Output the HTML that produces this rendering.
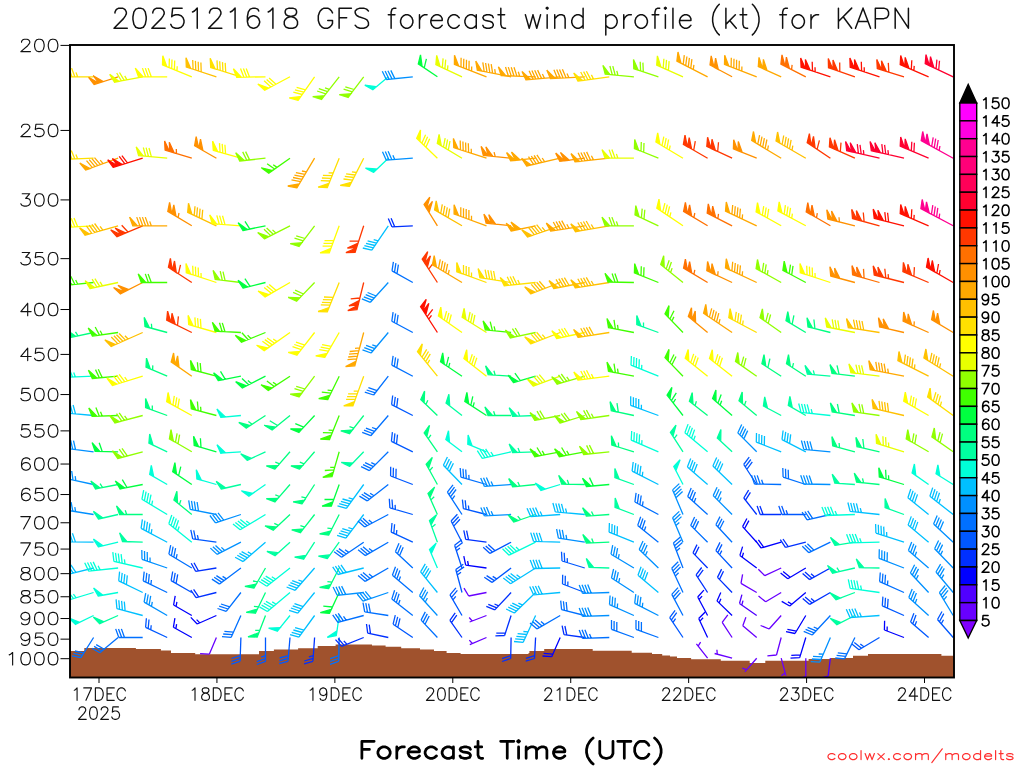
<!DOCTYPE html><html><head><meta charset="utf-8"><title>wind profile</title>
<style>html,body{margin:0;padding:0;background:#fff;font-family:"Liberation Sans",sans-serif}svg{display:block}</style></head><body>
<svg width="1024" height="768" viewBox="0 0 1024 768">
<rect width="1024" height="768" fill="#fff"/>
<defs><clipPath id="c"><rect x="70.0" y="45.0" width="884.0" height="632.5"/></clipPath></defs>
<path d="M70.0 677.5 L70.0 651.1 L84.3 651.1 L84.3 648.0 L135.9 648.0 L135.9 649.0 L160.9 649.0 L160.9 650.6 L171.0 650.6 L171.0 653.1 L195.2 653.1 L195.2 654.2 L259.0 654.2 L259.0 651.1 L273.9 651.1 L273.9 649.5 L298.1 649.5 L298.1 648.3 L317.7 648.3 L317.7 646.1 L335.6 646.1 L335.6 644.4 L372.0 644.4 L372.0 645.6 L385.6 645.6 L385.6 646.7 L401.2 646.7 L401.2 648.3 L420.0 648.3 L420.0 649.5 L434.0 649.5 L434.0 651.1 L446.6 651.1 L446.6 653.0 L460.6 653.0 L460.6 653.9 L528.5 653.9 L528.5 653.0 L529.4 653.0 L529.4 651.1 L544.2 651.1 L544.2 649.1 L592.7 649.1 L592.7 650.8 L631.7 650.8 L631.7 652.7 L652.0 652.7 L652.0 653.9 L662.2 653.9 L662.2 655.5 L670.0 655.5 L670.0 656.4 L677.0 656.4 L677.0 658.1 L691.1 658.1 L691.1 659.2 L720.8 659.2 L720.8 660.8 L749.7 660.8 L749.7 663.1 L765.3 663.1 L765.3 660.8 L808.6 660.8 L808.6 658.9 L831.0 658.9 L831.0 658.1 L853.0 658.1 L853.0 655.8 L868.0 655.8 L868.0 653.9 L941.4 653.9 L941.4 655.8 L954.0 655.8 L954.0 677.5 Z" fill="#a0522d"/>
<g clip-path="url(#c)" stroke-width="1.3" stroke-linecap="butt" stroke-linejoin="miter">
<path stroke="#ffe000" fill="#ffe000" d="M93.6 76.8L62.0 76.8M69.1 76.8L65.9 68.1M71.9 76.8L68.8 68.1M74.8 76.8L71.6 68.1M77.6 76.8L76.0 72.4M62.0 76.8L58.8 68.1L66.6 76.8Z"/>
<path stroke="#ff9000" fill="#ff9000" d="M118.1 76.8L94.2 84.5M94.2 84.5L88.6 77.3L98.6 83.1ZM98.9 83.0L93.2 75.7L103.3 81.6Z"/>
<path stroke="#e8ff00" fill="#e8ff00" d="M142.7 76.8L114.5 82.2M121.4 80.9L116.7 73.0M124.2 80.3L119.5 72.5M127.0 79.8L124.7 75.9M114.5 82.2L109.7 74.3L119.0 81.4Z"/>
<path stroke="#ffff00" fill="#ffff00" d="M167.2 76.8L138.5 76.8M145.6 76.8L142.4 68.1M148.4 76.8L145.3 68.1M151.3 76.8L148.1 68.1M138.5 76.8L135.3 68.1L143.1 76.8Z"/>
<path stroke="#ffff00" fill="#ffff00" d="M191.8 76.8L162.5 64.9M169.1 67.6L169.4 58.4M171.7 68.6L172.0 59.4M174.4 69.7L174.7 60.5M177.0 70.8L177.2 66.2M162.5 64.9L162.8 55.7L166.8 66.6Z"/>
<path stroke="#ffc000" fill="#ffc000" d="M216.4 76.8L186.3 67.0M193.1 69.2L192.7 60.0M195.8 70.1L195.4 60.9M198.5 70.9L198.2 61.7M201.2 71.8L200.9 62.6M186.3 67.0L186.0 57.8L190.7 68.4Z"/>
<path stroke="#ffe000" fill="#ffe000" d="M240.9 76.8L210.7 67.5M217.5 69.6L217.0 60.4M220.2 70.4L219.7 61.2M222.9 71.3L222.5 62.1M225.7 72.1L225.2 62.9M210.7 67.5L210.2 58.3L215.1 68.9Z"/>
<path stroke="#ffff00" fill="#ffff00" d="M265.5 76.8L236.7 77.3M243.8 77.1L240.5 68.5M246.7 77.1L243.4 68.5M249.5 77.0L246.2 68.4M236.7 77.3L233.4 68.7L241.3 77.2Z"/>
<path stroke="#ffff00" fill="#ffff00" d="M290.0 76.8L264.7 90.2M270.9 86.9L264.1 80.8M273.4 85.6L266.6 79.4M276.0 84.2L269.1 78.1M264.7 90.2L257.8 84.1L268.7 88.1Z"/>
<path stroke="#ffff00" fill="#ffff00" d="M314.6 76.8L298.1 100.3M302.2 94.5L293.3 92.1M303.8 92.2L294.9 89.8M305.5 89.8L296.6 87.4M298.1 100.3L289.2 97.9L300.7 96.5Z"/>
<path stroke="#90ff00" fill="#90ff00" d="M339.2 76.8L321.5 99.4M325.8 93.8L317.1 91.0M327.6 91.6L318.8 88.7M329.3 89.3L325.0 87.9M321.5 99.4L312.7 96.6L324.3 95.8Z"/>
<path stroke="#90ff00" fill="#90ff00" d="M363.7 76.8L348.1 97.4M352.4 91.8L343.6 89.1M354.1 89.5L345.3 86.8M348.1 97.4L339.3 94.7L350.9 93.8Z"/>
<path stroke="#00ffd8" fill="#00ffd8" d="M388.3 76.8L372.8 89.7M372.8 89.7L364.8 85.1L376.3 86.8Z"/>
<path stroke="#0090ff" fill="#0090ff" d="M412.8 76.8L386.3 79.5M386.3 79.5L382.3 71.3M389.1 79.2L385.1 71.0M392.0 78.9L387.9 70.7M394.8 78.6L390.8 70.4"/>
<path stroke="#00ff40" fill="#00ff40" d="M437.4 76.8L418.3 63.9M424.2 67.8L426.4 58.9M418.3 63.9L420.5 54.9L422.1 66.4Z"/>
<path stroke="#e8ff00" fill="#e8ff00" d="M462.0 76.8L435.9 64.6M442.3 67.6L443.1 58.4M444.9 68.8L445.7 59.6M447.5 70.0L447.9 65.4M435.9 64.6L436.7 55.4L440.1 66.5Z"/>
<path stroke="#ffa800" fill="#ffa800" d="M486.5 76.8L454.4 64.4M461.0 66.9L461.1 57.8M463.6 68.0L463.8 58.8M466.3 69.0L466.5 59.8M469.0 70.0L469.1 60.8M471.6 71.0L471.7 66.4M454.4 64.4L454.5 55.2L458.7 66.1Z"/>
<path stroke="#ffa800" fill="#ffa800" d="M511.1 76.8L477.3 70.2M484.2 71.5L482.8 62.4M487.0 72.1L485.6 63.0M489.8 72.6L488.4 63.5M492.6 73.2L491.2 64.1M495.4 73.7L494.7 69.2M477.3 70.2L475.8 61.1L481.8 71.1Z"/>
<path stroke="#ffa800" fill="#ffa800" d="M535.6 76.8L501.2 75.5M508.3 75.8L505.5 67.0M511.2 75.9L508.3 67.1M514.0 76.0L511.2 67.2M516.9 76.1L514.0 67.3M519.7 76.2L518.3 71.8M501.2 75.5L498.4 66.8L505.8 75.7Z"/>
<path stroke="#ffa800" fill="#ffa800" d="M560.2 76.8L525.9 79.8M533.0 79.1L529.1 70.8M535.8 78.9L531.9 70.5M538.6 78.6L534.7 70.3M541.5 78.4L537.6 70.1M544.3 78.1L542.4 74.0M525.9 79.8L522.0 71.4L530.5 79.4Z"/>
<path stroke="#ffa800" fill="#ffa800" d="M584.8 76.8L550.4 78.6M557.4 78.2L553.9 69.7M560.3 78.0L556.7 69.6M563.1 77.9L559.5 69.4M566.0 77.7L562.4 69.3M568.8 77.6L567.0 73.4M550.4 78.6L546.8 70.1L555.0 78.3Z"/>
<path stroke="#ffe000" fill="#ffe000" d="M609.3 76.8L578.0 81.1M585.1 80.2L580.7 72.0M587.9 79.8L583.6 71.6M590.7 79.4L586.4 71.2M593.5 79.0L591.4 74.9M578.0 81.1L573.7 73.0L582.6 80.5Z"/>
<path stroke="#90ff00" fill="#90ff00" d="M633.9 76.8L605.2 74.2M612.3 74.9L609.9 66.0M615.2 75.1L612.8 66.2M618.0 75.4L616.8 70.9M605.2 74.2L602.9 65.4L609.8 74.6Z"/>
<path stroke="#90ff00" fill="#90ff00" d="M658.4 76.8L633.8 68.7M640.6 70.9L640.2 61.7M643.3 71.8L642.9 62.6M633.8 68.7L633.5 59.6L638.2 70.2Z"/>
<path stroke="#e8ff00" fill="#e8ff00" d="M683.0 76.8L656.7 65.1M663.2 67.9L663.9 58.8M665.8 69.1L666.5 59.9M668.4 70.3L669.1 61.1M656.7 65.1L657.4 55.9L660.9 66.9Z"/>
<path stroke="#ffa800" fill="#ffa800" d="M707.6 76.8L676.9 61.1M683.2 64.3L684.3 55.2M685.7 65.6L686.9 56.5M688.3 66.9L689.4 57.8M690.8 68.2L691.9 59.1M693.3 69.5L693.9 64.9M676.9 61.1L678.0 52.0L681.0 63.2Z"/>
<path stroke="#ff9000" fill="#ff9000" d="M732.1 76.8L710.0 65.0M710.0 65.0L711.2 55.9L714.0 67.1ZM714.3 67.3L715.6 58.2L718.3 69.4Z"/>
<path stroke="#ffa800" fill="#ffa800" d="M756.7 76.8L724.5 64.4M731.1 66.9L731.3 57.8M733.8 68.0L734.0 58.8M736.5 69.0L736.6 59.8M739.1 70.0L739.3 60.8M741.8 71.0L741.9 66.4M724.5 64.4L724.7 55.2L728.8 66.1Z"/>
<path stroke="#ffa800" fill="#ffa800" d="M781.2 76.8L758.3 66.5M758.3 66.5L759.0 57.4L762.5 68.4ZM762.8 68.5L763.4 59.4L767.0 70.4Z"/>
<path stroke="#ff7000" fill="#ff7000" d="M805.8 76.8L780.9 64.1M791.6 69.5L792.1 64.9M780.9 64.1L782.0 54.9L785.0 66.1ZM785.3 66.3L786.4 57.2L789.4 68.4Z"/>
<path stroke="#ff1000" fill="#ff1000" d="M830.4 76.8L801.1 67.2M812.5 70.9L812.2 61.7M815.2 71.8L815.0 67.2M801.1 67.2L800.7 58.0L805.4 68.7ZM805.7 68.7L805.4 59.6L810.1 70.2Z"/>
<path stroke="#ff3800" fill="#ff3800" d="M854.9 76.8L828.5 67.7M839.8 71.6L839.7 62.4M828.5 67.7L828.3 58.5L832.8 69.1ZM833.1 69.2L833.0 60.0L837.5 70.7Z"/>
<path stroke="#ff1000" fill="#ff1000" d="M879.5 76.8L850.2 67.2M861.6 70.9L861.3 61.7M864.3 71.8L864.2 67.2M850.2 67.2L849.9 58.0L854.6 68.7ZM854.8 68.7L854.5 59.6L859.2 70.2Z"/>
<path stroke="#ff3800" fill="#ff3800" d="M904.0 76.8L877.3 68.6M888.8 72.1L888.3 62.9M877.3 68.6L876.8 59.4L881.7 69.9ZM882.0 70.0L881.5 60.8L886.4 71.4Z"/>
<path stroke="#ff1000" fill="#ff1000" d="M928.6 76.8L900.2 64.7M911.3 69.4L911.8 60.2M913.9 70.5L914.2 65.9M900.2 64.7L900.7 55.5L904.5 66.5ZM904.8 66.6L905.2 57.4L909.0 68.4Z"/>
<path stroke="#ff0030" fill="#ff0030" d="M953.2 76.8L925.2 63.7M936.1 68.8L936.9 59.6M938.7 70.0L939.5 60.8M925.2 63.7L926.0 54.6L929.4 65.7ZM929.7 65.8L930.5 56.6L933.9 67.7Z"/>
<path stroke="#ffe000" fill="#ffe000" d="M93.6 158.2L62.0 159.4M69.1 159.1L65.6 150.6M71.9 159.0L68.5 150.5M74.8 158.9L71.3 150.4M77.6 158.8L75.9 154.5M62.0 159.4L58.5 150.8L66.6 159.2Z"/>
<path stroke="#ffa800" fill="#ffa800" d="M118.1 158.2L85.7 170.0M92.4 167.6L86.5 160.6M95.1 166.6L89.2 159.6M97.8 165.7L91.9 158.6M100.5 164.7L94.5 157.6M103.1 163.7L100.2 160.2M85.7 170.0L79.8 163.0L90.1 168.5Z"/>
<path stroke="#ff1000" fill="#ff1000" d="M142.7 158.2L113.2 167.3M124.7 163.7L119.2 156.4M127.4 162.9L121.9 155.6M113.2 167.3L107.7 159.9L117.6 165.9ZM117.9 165.8L112.4 158.5L122.3 164.5Z"/>
<path stroke="#e8ff00" fill="#e8ff00" d="M167.2 158.2L138.6 155.7M145.7 156.4L143.3 147.5M148.5 156.6L146.1 147.7M151.4 156.9L149.0 148.0M138.6 155.7L136.2 146.9L143.2 156.1Z"/>
<path stroke="#ff7000" fill="#ff7000" d="M191.8 158.2L165.1 150.1M176.5 153.6L176.3 149.0M165.1 150.1L164.6 140.9L169.5 151.4ZM169.8 151.5L169.3 142.3L174.2 152.9Z"/>
<path stroke="#ff9000" fill="#ff9000" d="M216.4 158.2L194.6 145.7M194.6 145.7L196.2 136.6L198.6 148.0ZM198.9 148.1L200.5 139.1L202.9 150.4Z"/>
<path stroke="#ffff00" fill="#ffff00" d="M240.9 158.2L213.3 150.3M220.1 152.3L219.5 143.1M222.8 153.1L222.2 143.9M225.6 153.9L224.9 144.7M213.3 150.3L212.6 141.1L217.7 151.6Z"/>
<path stroke="#90ff00" fill="#90ff00" d="M265.5 158.2L239.7 161.0M246.8 160.2L242.7 151.9M249.6 159.9L245.6 151.6M239.7 161.0L235.7 152.7L244.3 160.5Z"/>
<path stroke="#40ff00" fill="#40ff00" d="M290.0 158.2L268.8 173.1M274.6 169.0L267.1 163.8M277.0 167.4L273.2 164.8M268.8 173.1L261.3 167.8L272.6 170.5Z"/>
<path stroke="#ffa800" fill="#ffa800" d="M314.6 158.2L296.9 187.8M300.5 181.7L291.5 179.9M302.0 179.3L293.0 177.5M303.4 176.8L294.4 175.1M304.9 174.4L295.9 172.6M306.4 171.9L301.9 171.0M296.9 187.8L287.8 186.0L299.2 183.8Z"/>
<path stroke="#ffe000" fill="#ffe000" d="M339.2 158.2L327.3 187.5M330.0 181.0L320.8 180.6M331.0 178.3L321.9 178.0M332.1 175.7L322.9 175.4M333.2 173.0L328.6 172.9M327.3 187.5L318.1 187.2L329.0 183.3Z"/>
<path stroke="#ffe000" fill="#ffe000" d="M363.7 158.2L349.4 186.4M352.6 180.1L343.5 179.0M353.9 177.5L344.8 176.4M355.2 175.0L346.1 173.9M356.5 172.5L351.9 171.9M349.4 186.4L340.2 185.3L351.5 182.3Z"/>
<path stroke="#00ffd8" fill="#00ffd8" d="M388.3 158.2L373.7 172.3M373.7 172.3L365.5 168.2L377.1 169.1Z"/>
<path stroke="#0090ff" fill="#0090ff" d="M412.8 158.2L386.2 160.1M386.2 160.1L382.5 151.7M389.0 159.9L385.3 151.5M391.9 159.7L388.1 151.3M394.7 159.5L392.9 155.3"/>
<path stroke="#ffff00" fill="#ffff00" d="M437.4 158.2L416.7 138.3M421.8 143.2L425.6 134.8M423.9 145.2L427.6 136.8M425.9 147.2L429.7 138.8M416.7 138.3L420.5 129.9L420.0 141.5Z"/>
<path stroke="#e8ff00" fill="#e8ff00" d="M462.0 158.2L437.3 143.4M443.4 147.1L445.2 138.1M445.8 148.6L447.6 139.5M448.3 150.0L450.0 141.0M437.3 143.4L439.1 134.4L441.3 145.8Z"/>
<path stroke="#ffa800" fill="#ffa800" d="M486.5 158.2L453.8 147.6M460.5 149.8L460.2 140.6M463.2 150.7L462.9 141.5M465.9 151.6L465.6 142.4M468.6 152.4L468.3 143.2M471.4 153.3L471.2 148.7M453.8 147.6L453.4 138.4L458.1 149.0Z"/>
<path stroke="#ff9000" fill="#ff9000" d="M511.1 158.2L483.3 155.3M495.2 156.6L494.1 152.1M483.3 155.3L481.1 146.4L487.9 155.8ZM488.2 155.8L485.9 146.9L492.7 156.3Z"/>
<path stroke="#ffa800" fill="#ffa800" d="M535.6 158.2L510.7 160.9M510.7 160.9L506.6 152.6L515.3 160.4ZM515.6 160.4L511.5 152.1L520.1 159.9Z"/>
<path stroke="#ffa800" fill="#ffa800" d="M560.2 158.2L526.6 166.0M533.6 164.4L528.5 156.7M536.3 163.8L531.3 156.0M539.1 163.1L534.1 155.4M541.9 162.5L536.9 154.8M544.7 161.8L542.2 158.0M526.6 166.0L521.6 158.3L531.1 165.0Z"/>
<path stroke="#ff9000" fill="#ff9000" d="M584.8 158.2L559.8 161.3M559.8 161.3L555.7 153.1L564.4 160.7ZM564.7 160.7L560.5 152.5L569.3 160.2Z"/>
<path stroke="#ffa800" fill="#ffa800" d="M609.3 158.2L575.1 161.9M582.1 161.1L578.1 152.8M585.0 160.8L580.9 152.5M587.8 160.5L583.8 152.2M590.6 160.2L586.6 151.9M593.5 159.9L591.4 155.8M575.1 161.9L571.0 153.6L579.6 161.4Z"/>
<path stroke="#e8ff00" fill="#e8ff00" d="M633.9 158.2L605.1 158.2M612.2 158.2L609.1 149.6M615.1 158.2L611.9 149.6M617.9 158.2L616.4 153.9M605.1 158.2L602.0 149.6L609.7 158.2Z"/>
<path stroke="#90ff00" fill="#90ff00" d="M658.4 158.2L634.4 148.5M641.0 151.2L641.3 142.0M643.7 152.3L644.0 143.1M634.4 148.5L634.7 139.4L638.7 150.3Z"/>
<path stroke="#ffff00" fill="#ffff00" d="M683.0 158.2L655.9 142.0M662.0 145.6L663.8 136.6M664.4 147.1L666.2 138.1M666.9 148.6L668.6 139.5M669.3 150.0L670.2 145.5M655.9 142.0L657.7 132.9L659.9 144.3Z"/>
<path stroke="#ff3800" fill="#ff3800" d="M707.6 158.2L683.4 144.3M693.7 150.3L695.3 141.2M683.4 144.3L685.0 135.2L687.3 146.6ZM687.6 146.7L689.2 137.7L691.6 149.0Z"/>
<path stroke="#ff3800" fill="#ff3800" d="M732.1 158.2L706.8 146.4M717.7 151.5L718.5 142.3M706.8 146.4L707.6 137.3L711.0 148.4ZM711.2 148.5L712.0 139.3L715.4 150.5Z"/>
<path stroke="#ff9000" fill="#ff9000" d="M756.7 158.2L733.4 148.8M733.4 148.8L733.7 139.7L737.7 150.6ZM738.0 150.7L738.3 141.5L742.2 152.4Z"/>
<path stroke="#ffa800" fill="#ffa800" d="M781.2 158.2L751.7 140.5M757.8 144.2L759.6 135.1M760.2 145.6L762.0 136.6M762.7 147.1L764.4 138.1M765.1 148.6L766.9 139.5M767.6 150.0L768.4 145.5M751.7 140.5L753.5 131.5L755.7 142.9Z"/>
<path stroke="#ffc000" fill="#ffc000" d="M805.8 158.2L776.0 141.0M782.1 144.6L783.7 135.5M784.6 146.0L786.2 136.9M787.1 147.4L788.6 138.4M789.5 148.8L791.1 139.8M792.0 150.3L792.8 145.7M776.0 141.0L777.6 132.0L779.9 143.3Z"/>
<path stroke="#ff3800" fill="#ff3800" d="M830.4 158.2L807.2 142.6M817.1 149.3L819.4 140.4M807.2 142.6L809.4 133.7L811.0 145.2ZM811.3 145.4L813.5 136.4L815.1 147.9Z"/>
<path stroke="#ff3800" fill="#ff3800" d="M854.9 158.2L829.4 146.9M840.3 151.8L841.0 142.6M829.4 146.9L830.0 137.7L833.6 148.8ZM833.9 148.9L834.5 139.7L838.1 150.7Z"/>
<path stroke="#ff0030" fill="#ff0030" d="M879.5 158.2L846.7 150.7M858.4 153.4L857.3 144.2M861.2 154.0L860.0 144.9M863.9 154.7L863.4 150.1M846.7 150.7L845.6 141.5L851.2 151.7ZM851.5 151.8L850.3 142.7L855.9 152.8Z"/>
<path stroke="#ff0030" fill="#ff0030" d="M904.0 158.2L871.3 150.7M882.9 153.4L881.8 144.2M885.7 154.0L884.6 144.9M888.5 154.7L887.9 150.1M871.3 150.7L870.1 141.5L875.7 151.7ZM876.0 151.8L874.9 142.7L880.5 152.8Z"/>
<path stroke="#ff0030" fill="#ff0030" d="M928.6 158.2L900.2 146.2M911.3 150.9L911.8 141.7M913.9 152.0L914.4 142.8M900.2 146.2L900.7 137.0L904.5 148.0ZM904.8 148.1L905.2 138.9L909.0 149.9Z"/>
<path stroke="#ff0090" fill="#ff0090" d="M953.2 158.2L921.2 140.6M931.7 146.4L933.2 137.3M934.2 147.8L935.7 138.7M936.7 149.1L938.2 140.0M939.2 150.5L939.9 146.0M921.2 140.6L922.7 131.5L925.3 142.8ZM925.5 142.9L927.0 133.8L929.5 145.2Z"/>
<path stroke="#ffff00" fill="#ffff00" d="M93.6 225.8L64.8 227.3M71.9 226.9L68.3 218.4M74.8 226.7L71.2 218.3M77.6 226.6L74.0 218.1M64.8 227.3L61.3 218.8L69.4 227.0Z"/>
<path stroke="#ffc000" fill="#ffc000" d="M118.1 225.8L85.0 235.2M91.8 233.3L86.4 225.8M94.6 232.5L89.2 225.1M97.3 231.7L91.9 224.3M100.0 230.9L94.6 223.5M102.8 230.1L100.1 226.4M85.0 235.2L79.6 227.8L89.4 234.0Z"/>
<path stroke="#ff3800" fill="#ff3800" d="M142.7 225.8L117.0 236.7M128.0 232.0L121.7 225.3M117.0 236.7L110.7 229.9L121.2 234.9ZM121.5 234.8L115.2 228.0L125.7 233.0Z"/>
<path stroke="#ffa800" fill="#ffa800" d="M167.2 225.8L132.8 225.8M139.9 225.8L136.7 217.1M142.7 225.8L139.6 217.1M145.6 225.8L142.4 217.1M148.4 225.8L145.3 217.1M151.3 225.8L149.7 221.4M132.8 225.8L129.6 217.1L137.4 225.8Z"/>
<path stroke="#ff9000" fill="#ff9000" d="M191.8 225.8L167.8 211.4M178.1 217.5L179.0 213.0M167.8 211.4L169.6 202.3L171.8 213.7ZM172.0 213.9L173.8 204.8L176.0 216.2Z"/>
<path stroke="#ffc000" fill="#ffc000" d="M216.4 225.8L187.7 212.4M194.2 215.4L195.0 206.2M196.7 216.6L197.5 207.4M199.3 217.8L200.1 208.6M201.9 219.0L202.7 209.8M187.7 212.4L188.5 203.2L191.9 214.3Z"/>
<path stroke="#ffff00" fill="#ffff00" d="M240.9 225.8L212.2 223.7M219.3 224.2L216.8 215.4M222.2 224.4L219.6 215.6M225.0 224.6L222.5 215.8M212.2 223.7L209.7 214.9L216.8 224.1Z"/>
<path stroke="#00ff40" fill="#00ff40" d="M265.5 225.8L242.9 230.5M249.9 229.1L245.0 221.3M242.9 230.5L238.1 222.7L247.4 229.6Z"/>
<path stroke="#90ff00" fill="#90ff00" d="M290.0 225.8L264.4 238.8M270.7 235.6L264.0 229.3M273.3 234.3L266.6 228.0M275.8 233.0L272.5 229.9M264.4 238.8L257.7 232.5L268.5 236.7Z"/>
<path stroke="#90ff00" fill="#90ff00" d="M314.6 225.8L299.0 246.4M303.3 240.8L294.5 238.1M305.0 238.5L296.2 235.8M299.0 246.4L290.2 243.7L301.8 242.8Z"/>
<path stroke="#ffff00" fill="#ffff00" d="M339.2 225.8L329.3 252.8M331.8 246.1L322.6 246.1M332.7 243.4L323.5 243.4M333.7 240.7L324.5 240.7M329.3 252.8L320.1 252.8L330.9 248.4Z"/>
<path stroke="#ff3800" fill="#ff3800" d="M363.7 225.8L355.1 252.3M358.8 240.9L349.6 241.2M355.1 252.3L345.9 252.7L356.5 248.0ZM356.6 247.7L347.4 248.0L358.0 243.3Z"/>
<path stroke="#00c0ff" fill="#00c0ff" d="M388.3 225.8L371.8 250.2M371.8 250.2L362.8 248.0M373.3 247.9L364.4 245.7M374.9 245.5L366.0 243.3M376.5 243.2L367.6 240.9M378.1 240.8L373.7 239.7"/>
<path stroke="#0030ff" fill="#0030ff" d="M412.8 225.8L391.9 226.8M391.9 226.8L388.3 218.4M394.7 226.7L391.1 218.2"/>
<path stroke="#ff9000" fill="#ff9000" d="M437.4 225.8L424.1 204.5M424.1 204.5L429.8 197.2L426.5 208.4ZM426.7 208.6L432.4 201.4L429.1 212.5Z"/>
<path stroke="#ffc000" fill="#ffc000" d="M462.0 225.8L434.6 209.9M440.7 213.5L442.3 204.4M443.2 214.9L444.8 205.9M445.7 216.3L447.3 207.3M448.1 217.8L449.7 208.7M434.6 209.9L436.2 200.9L438.6 212.2Z"/>
<path stroke="#ffa800" fill="#ffa800" d="M486.5 225.8L454.1 214.0M460.8 216.4L460.8 207.2M463.5 217.4L463.5 208.2M466.2 218.3L466.2 209.1M468.9 219.3L468.9 210.1M471.5 220.3L471.5 215.7M454.1 214.0L454.1 204.8L458.5 215.5Z"/>
<path stroke="#ff9000" fill="#ff9000" d="M511.1 225.8L486.1 223.1M486.1 223.1L483.9 214.2L490.7 223.6ZM491.0 223.6L488.8 214.7L495.6 224.1Z"/>
<path stroke="#ffa800" fill="#ffa800" d="M535.6 225.8L511.1 231.0M511.1 231.0L506.2 223.2L515.6 230.0ZM515.9 229.9L511.0 222.1L520.4 229.0Z"/>
<path stroke="#ffc000" fill="#ffc000" d="M560.2 225.8L527.6 237.0M534.3 234.7L528.6 227.5M537.0 233.7L531.2 226.6M539.7 232.8L533.9 225.6M542.4 231.9L536.6 224.7M545.1 230.9L542.2 227.4M527.6 237.0L521.8 229.8L532.0 235.5Z"/>
<path stroke="#ffa800" fill="#ffa800" d="M584.8 225.8L550.7 231.1M557.7 230.0L553.3 222.0M560.6 229.6L556.1 221.5M563.4 229.1L558.9 221.1M566.2 228.7L561.7 220.6M569.0 228.2L566.8 224.2M550.7 231.1L546.3 223.1L555.3 230.4Z"/>
<path stroke="#ffc000" fill="#ffc000" d="M609.3 225.8L575.4 231.7M582.4 230.5L577.8 222.5M585.2 230.0L580.6 222.0M588.0 229.5L583.4 221.5M590.8 229.0L586.2 221.0M593.6 228.5L591.3 224.5M575.4 231.7L570.8 223.8L579.9 230.9Z"/>
<path stroke="#90ff00" fill="#90ff00" d="M633.9 225.8L605.1 225.8M612.2 225.8L609.1 217.1M615.1 225.8L611.9 217.1M617.9 225.8L616.4 221.4M605.1 225.8L602.0 217.1L609.7 225.8Z"/>
<path stroke="#90ff00" fill="#90ff00" d="M658.4 225.8L635.0 214.8M641.4 217.8L642.2 208.6M644.0 219.0L644.8 209.8M635.0 214.8L635.8 205.6L639.1 216.7Z"/>
<path stroke="#ffff00" fill="#ffff00" d="M683.0 225.8L656.8 208.1M662.7 212.0L664.9 203.1M665.1 213.6L667.3 204.7M667.4 215.2L669.6 206.3M669.8 216.8L670.9 212.4M656.8 208.1L659.0 199.2L660.6 210.7Z"/>
<path stroke="#ff7000" fill="#ff7000" d="M707.6 225.8L683.6 211.4M693.9 217.5L694.8 213.0M683.6 211.4L685.4 202.3L687.5 213.7ZM687.8 213.9L689.6 204.8L691.7 216.2Z"/>
<path stroke="#ff7000" fill="#ff7000" d="M732.1 225.8L707.2 213.1M717.9 218.5L718.5 213.9M707.2 213.1L708.3 203.9L711.3 215.1ZM711.6 215.3L712.7 206.2L715.7 217.4Z"/>
<path stroke="#ffa800" fill="#ffa800" d="M756.7 225.8L725.5 211.2M731.9 214.2L732.7 205.0M734.5 215.4L735.3 206.2M737.1 216.6L737.9 207.4M739.6 217.8L740.4 208.6M742.2 219.0L742.6 214.4M725.5 211.2L726.3 202.0L729.6 213.1Z"/>
<path stroke="#ffff00" fill="#ffff00" d="M781.2 225.8L756.1 211.8M762.3 215.3L763.7 206.2M764.8 216.6L766.2 207.5M767.3 218.0L768.7 208.9M756.1 211.8L757.5 202.7L760.1 214.0Z"/>
<path stroke="#ffff00" fill="#ffff00" d="M805.8 225.8L777.9 210.9M784.2 214.2L785.4 205.1M786.7 215.6L788.0 206.5M789.2 216.9L790.5 207.8M791.7 218.3L792.4 213.7M777.9 210.9L779.2 201.8L782.0 213.1Z"/>
<path stroke="#ff7000" fill="#ff7000" d="M830.4 225.8L806.2 211.8M816.5 217.8L817.3 213.2M806.2 211.8L807.8 202.7L810.1 214.1ZM810.4 214.2L812.0 205.2L814.4 216.5Z"/>
<path stroke="#ff9000" fill="#ff9000" d="M854.9 225.8L827.8 219.0M839.4 221.9L839.0 217.3M827.8 219.0L826.8 209.8L832.3 220.1ZM832.6 220.2L831.6 211.0L837.0 221.3Z"/>
<path stroke="#ff3800" fill="#ff3800" d="M879.5 225.8L852.5 218.5M864.1 221.6L863.3 212.5M852.5 218.5L851.7 209.4L856.9 219.7ZM857.2 219.8L856.4 210.6L861.7 221.0Z"/>
<path stroke="#ff1000" fill="#ff1000" d="M904.0 225.8L874.2 218.3M885.8 221.2L884.8 212.1M888.6 221.9L887.6 212.7M874.2 218.3L873.2 209.1L878.6 219.4ZM878.9 219.5L877.9 210.3L883.4 220.6Z"/>
<path stroke="#ff1000" fill="#ff1000" d="M928.6 225.8L900.2 213.7M911.3 218.4L911.8 209.2M913.9 219.5L914.2 214.9M900.2 213.7L900.7 204.5L904.5 215.5ZM904.8 215.6L905.2 206.4L909.0 217.4Z"/>
<path stroke="#ff0090" fill="#ff0090" d="M953.2 225.8L920.9 208.6M931.5 214.2L932.8 205.1M934.0 215.6L935.3 206.5M936.6 216.9L937.8 207.8M939.1 218.3L939.7 213.7M920.9 208.6L922.2 199.5L925.0 210.8ZM925.3 210.9L926.5 201.8L929.3 213.1Z"/>
<path stroke="#40ff00" fill="#40ff00" d="M93.6 282.5L67.8 285.2M74.9 284.5L70.8 276.2M77.7 284.2L75.7 280.0M67.8 285.2L63.8 276.9L72.4 284.7Z"/>
<path stroke="#e8ff00" fill="#e8ff00" d="M118.1 282.5L90.0 288.5M96.9 287.0L92.1 279.2M99.7 286.4L94.9 278.6M102.5 285.8L100.1 281.9M90.0 288.5L85.1 280.7L94.5 287.5Z"/>
<path stroke="#ff9000" fill="#ff9000" d="M142.7 282.5L120.3 293.9M120.3 293.9L113.6 287.6L124.4 291.8ZM124.7 291.7L118.0 285.4L128.8 289.6Z"/>
<path stroke="#40ff00" fill="#40ff00" d="M167.2 282.5L141.3 282.5M148.4 282.5L145.3 273.9M151.3 282.5L148.1 273.9M141.3 282.5L138.2 273.9L145.9 282.5Z"/>
<path stroke="#ff3800" fill="#ff3800" d="M191.8 282.5L168.4 267.3M178.4 273.8L180.5 264.8M168.4 267.3L170.4 258.3L172.2 269.8ZM172.5 269.9L174.5 261.0L176.3 272.5Z"/>
<path stroke="#ffff00" fill="#ffff00" d="M216.4 282.5L186.3 272.7M193.1 274.9L192.7 265.7M195.8 275.8L195.4 266.6M198.5 276.7L198.2 267.5M201.2 277.6L201.0 273.0M186.3 272.7L186.0 263.5L190.7 274.2Z"/>
<path stroke="#90ff00" fill="#90ff00" d="M240.9 282.5L215.2 279.3M222.3 280.2L220.2 271.2M225.1 280.6L223.0 271.6M215.2 279.3L213.1 270.4L219.8 279.9Z"/>
<path stroke="#00ff40" fill="#00ff40" d="M265.5 282.5L243.1 288.1M250.0 286.4L244.9 278.7M243.1 288.1L238.0 280.4L247.6 287.0Z"/>
<path stroke="#ffff00" fill="#ffff00" d="M290.0 282.5L265.1 296.9M271.3 293.3L264.2 287.4M273.8 291.9L266.7 286.0M276.2 290.5L269.2 284.6M265.1 296.9L258.1 291.0L269.1 294.6Z"/>
<path stroke="#90ff00" fill="#90ff00" d="M314.6 282.5L296.6 301.1M301.5 296.0L293.1 292.3M303.5 294.0L295.1 290.2M296.6 301.1L288.2 297.4L299.8 297.8Z"/>
<path stroke="#ffe000" fill="#ffe000" d="M339.2 282.5L327.3 311.8M330.0 305.2L320.8 304.9M331.0 302.6L321.9 302.3M332.1 299.9L322.9 299.6M333.2 297.3L324.0 297.0M327.3 311.8L318.1 311.5L329.0 307.5Z"/>
<path stroke="#ff3800" fill="#ff3800" d="M363.7 282.5L357.0 309.6M359.9 298.0L350.7 298.9M357.0 309.6L347.8 310.6L358.1 305.2ZM358.1 304.9L349.0 305.8L359.3 300.4Z"/>
<path stroke="#0090ff" fill="#0090ff" d="M388.3 282.5L370.4 302.3M370.4 302.3L361.9 298.9M372.3 300.2L363.8 296.8M374.2 298.1L365.7 294.7M376.1 296.0L367.6 292.5"/>
<path stroke="#0070ff" fill="#0070ff" d="M412.8 282.5L392.0 270.9M392.0 270.9L393.4 261.9M394.5 272.3L395.9 263.2M397.0 273.7L398.4 264.6"/>
<path stroke="#ff3800" fill="#ff3800" d="M437.4 282.5L422.2 259.1M428.7 269.1L434.2 261.8M422.2 259.1L427.7 251.7L424.7 262.9ZM424.8 263.2L430.4 255.8L427.4 267.0Z"/>
<path stroke="#ffa800" fill="#ffa800" d="M462.0 282.5L432.4 264.8M438.5 268.4L440.3 259.4M441.0 269.9L442.7 260.9M443.4 271.3L445.2 262.3M445.8 272.8L447.6 263.8M448.3 274.3L449.2 269.8M432.4 264.8L434.2 255.7L436.4 267.1Z"/>
<path stroke="#ffe000" fill="#ffe000" d="M486.5 282.5L456.8 271.7M463.5 274.1L463.5 264.9M466.2 275.1L466.2 265.9M468.9 276.1L468.9 266.9M471.5 277.0L471.5 272.4M456.8 271.7L456.8 262.5L461.1 273.3Z"/>
<path stroke="#ffe000" fill="#ffe000" d="M511.1 282.5L479.9 277.6M486.9 278.7L485.1 269.6M489.7 279.1L487.9 270.1M492.5 279.6L490.8 270.5M495.3 280.0L493.6 271.0M479.9 277.6L478.1 268.5L484.4 278.3Z"/>
<path stroke="#ffe000" fill="#ffe000" d="M535.6 282.5L504.2 285.8M511.3 285.1L507.2 276.8M514.1 284.8L510.1 276.5M516.9 284.5L512.9 276.2M519.8 284.2L517.8 280.0M504.2 285.8L500.2 277.5L508.8 285.3Z"/>
<path stroke="#ffc000" fill="#ffc000" d="M560.2 282.5L530.7 293.8M537.3 291.3L531.3 284.3M540.0 290.3L534.0 283.3M542.6 289.2L536.6 282.3M545.3 288.2L539.3 281.3M530.7 293.8L524.7 286.9L535.0 292.2Z"/>
<path stroke="#ffc000" fill="#ffc000" d="M584.8 282.5L553.7 288.5M560.7 287.2L556.0 279.3M563.5 286.6L558.8 278.7M566.3 286.1L561.6 278.2M569.1 285.5L564.4 277.7M553.7 288.5L549.0 280.6L558.3 287.7Z"/>
<path stroke="#ffc000" fill="#ffc000" d="M609.3 282.5L575.3 287.9M582.3 286.8L577.8 278.7M585.1 286.3L580.7 278.3M587.9 285.9L583.5 277.8M590.8 285.4L586.3 277.4M593.6 285.0L591.3 281.0M575.3 287.9L570.8 279.8L579.8 287.2Z"/>
<path stroke="#40ff00" fill="#40ff00" d="M633.9 282.5L608.0 282.0M615.1 282.2L612.1 273.5M617.9 282.2L614.9 273.5M608.0 282.0L605.0 273.3L612.6 282.1Z"/>
<path stroke="#40ff00" fill="#40ff00" d="M658.4 282.5L634.4 272.8M641.0 275.5L641.3 266.3M643.7 276.5L644.0 267.3M634.4 272.8L634.7 263.6L638.7 274.5Z"/>
<path stroke="#90ff00" fill="#90ff00" d="M683.0 282.5L660.7 264.4M666.2 268.9L669.2 260.2M668.4 270.7L671.4 262.0M670.6 272.5L672.1 268.1M660.7 264.4L663.7 255.7L664.2 267.3Z"/>
<path stroke="#ff7000" fill="#ff7000" d="M707.6 282.5L683.6 268.1M693.9 274.3L694.8 269.8M683.6 268.1L685.4 259.1L687.5 270.5ZM687.8 270.6L689.6 261.6L691.7 273.0Z"/>
<path stroke="#ff9000" fill="#ff9000" d="M732.1 282.5L706.8 270.7M717.7 275.8L718.1 271.2M706.8 270.7L707.6 261.5L711.0 272.6ZM711.2 272.8L712.0 263.6L715.4 274.7Z"/>
<path stroke="#ffa800" fill="#ffa800" d="M756.7 282.5L725.5 267.9M731.9 270.9L732.7 261.8M734.5 272.1L735.3 263.0M737.1 273.4L737.9 264.2M739.6 274.6L740.4 265.4M742.2 275.8L742.6 271.2M725.5 267.9L726.3 258.8L729.6 269.9Z"/>
<path stroke="#90ff00" fill="#90ff00" d="M781.2 282.5L756.1 268.6M762.3 272.0L763.7 262.9M764.8 273.4L766.2 264.3M767.3 274.8L768.0 270.2M756.1 268.6L757.5 259.5L760.1 270.8Z"/>
<path stroke="#40ff00" fill="#40ff00" d="M805.8 282.5L782.9 270.3M789.2 273.7L790.5 264.6M791.7 275.0L793.0 265.9M782.9 270.3L784.2 261.2L787.0 272.5Z"/>
<path stroke="#ffff00" fill="#ffff00" d="M830.4 282.5L800.3 272.7M807.1 274.9L806.7 265.7M809.8 275.8L809.4 266.6M812.5 276.7L812.2 267.5M815.2 277.6L815.0 273.0M800.3 272.7L800.0 263.5L804.7 274.2Z"/>
<path stroke="#ff9000" fill="#ff9000" d="M854.9 282.5L830.7 276.0M830.7 276.0L829.9 266.8L835.1 277.2ZM835.4 277.3L834.6 268.1L839.9 278.5Z"/>
<path stroke="#ff7000" fill="#ff7000" d="M879.5 282.5L852.6 274.8M864.1 278.1L863.5 268.9M852.6 274.8L852.0 265.6L857.0 276.1ZM857.3 276.1L856.7 267.0L861.7 277.4Z"/>
<path stroke="#ff3800" fill="#ff3800" d="M904.0 282.5L874.2 275.0M885.8 278.0L884.8 268.8M888.6 278.6L888.1 274.1M874.2 275.0L873.2 265.9L878.6 276.2ZM878.9 276.2L877.9 267.1L883.4 277.3Z"/>
<path stroke="#ff3800" fill="#ff3800" d="M928.6 282.5L902.9 271.6M913.9 276.3L914.4 267.1M902.9 271.6L903.4 262.4L907.1 273.4ZM907.4 273.5L907.9 264.3L911.6 275.3Z"/>
<path stroke="#ff1000" fill="#ff1000" d="M953.2 282.5L926.5 267.1M936.9 273.1L938.5 264.0M939.3 274.5L940.1 270.0M926.5 267.1L928.1 258.0L930.5 269.4ZM930.7 269.6L932.3 260.5L934.7 271.9Z"/>
<path stroke="#00ff80" fill="#00ff80" d="M93.6 332.5L71.0 337.3M78.0 335.8L75.5 331.9M71.0 337.3L66.1 329.5L75.5 336.3Z"/>
<path stroke="#40ff00" fill="#40ff00" d="M118.1 332.5L92.5 336.1M99.5 335.1L95.2 327.0M102.3 334.7L100.2 330.7M92.5 336.1L88.2 328.0L97.0 335.5Z"/>
<path stroke="#ffc000" fill="#ffc000" d="M142.7 332.5L111.2 346.5M117.7 343.6L111.3 337.0M120.3 342.5L113.9 335.8M122.9 341.3L116.5 334.7M125.5 340.1L119.1 333.5M128.1 339.0L124.9 335.7M111.2 346.5L104.8 339.9L115.4 344.6Z"/>
<path stroke="#00ff80" fill="#00ff80" d="M167.2 332.5L145.0 326.5M151.8 328.4L151.4 323.8M145.0 326.5L144.2 317.4L149.4 327.7Z"/>
<path stroke="#ff3800" fill="#ff3800" d="M191.8 332.5L166.7 320.2M177.5 325.5L178.4 316.4M166.7 320.2L167.6 311.1L170.8 322.3ZM171.1 322.4L172.0 313.2L175.2 324.4Z"/>
<path stroke="#ffff00" fill="#ffff00" d="M216.4 332.5L188.7 324.6M195.5 326.5L194.9 317.4M198.3 327.3L197.6 318.1M201.0 328.1L200.4 318.9M188.7 324.6L188.1 315.4L193.1 325.8Z"/>
<path stroke="#40ff00" fill="#40ff00" d="M240.9 332.5L215.1 331.1M222.1 331.5L219.5 322.7M225.0 331.7L222.3 322.9M215.1 331.1L212.4 322.3L219.6 331.4Z"/>
<path stroke="#40ff00" fill="#40ff00" d="M265.5 332.5L241.5 342.2M248.0 339.5L241.9 332.7M250.7 338.5L247.6 335.1M241.5 342.2L235.3 335.4L245.7 340.5Z"/>
<path stroke="#ffff00" fill="#ffff00" d="M290.0 332.5L264.2 350.6M270.0 346.6L262.4 341.3M272.3 344.9L264.8 339.6M274.6 343.3L267.1 338.0M277.0 341.6L273.2 339.0M264.2 350.6L256.6 345.3L267.9 348.0Z"/>
<path stroke="#ffff00" fill="#ffff00" d="M314.6 332.5L296.9 355.2M301.3 349.6L292.5 346.7M303.0 347.3L294.3 344.5M304.8 345.1L296.0 342.2M296.9 355.2L288.2 352.3L299.7 351.5Z"/>
<path stroke="#ffff00" fill="#ffff00" d="M339.2 332.5L324.8 357.4M328.3 351.2L319.3 349.7M329.8 348.8L320.7 347.2M331.2 346.3L322.1 344.7M324.8 357.4L315.7 355.8L327.1 353.4Z"/>
<path stroke="#ffa800" fill="#ffa800" d="M363.7 332.5L354.8 365.8M356.6 358.9L347.5 359.7M357.4 356.2L348.2 357.0M358.1 353.4L349.0 354.2M358.9 350.7L349.7 351.5M359.6 347.9L355.0 348.3M354.8 365.8L345.6 366.6L356.0 361.3Z"/>
<path stroke="#0090ff" fill="#0090ff" d="M388.3 332.5L371.1 353.0M371.1 353.0L362.5 349.8M372.9 350.8L364.3 347.6M374.8 348.6L366.1 345.4M376.6 346.4L372.3 344.8"/>
<path stroke="#0070ff" fill="#0070ff" d="M412.8 332.5L391.8 321.3M391.8 321.3L393.1 312.2M394.3 322.6L395.6 313.5M396.8 324.0L398.1 314.9"/>
<path stroke="#ff1000" fill="#ff1000" d="M437.4 332.5L420.6 306.7M427.2 316.7L432.7 309.4M428.7 319.1L431.5 315.4M420.6 306.7L426.2 299.3L423.1 310.5ZM423.3 310.8L428.8 303.4L425.8 314.6Z"/>
<path stroke="#ffff00" fill="#ffff00" d="M462.0 332.5L438.4 316.0M444.2 320.1L446.6 311.2M446.6 321.7L448.9 312.8M448.9 323.4L451.3 314.5M438.4 316.0L440.8 307.1L442.2 318.6Z"/>
<path stroke="#e8ff00" fill="#e8ff00" d="M486.5 332.5L462.1 317.3M468.2 321.0L470.1 312.0M470.6 322.5L472.5 313.5M473.0 324.0L474.9 315.0M462.1 317.3L464.1 308.3L466.0 319.7Z"/>
<path stroke="#40ff00" fill="#40ff00" d="M511.1 332.5L485.3 329.8M492.4 330.5L490.2 321.6M495.2 330.8L494.1 326.4M485.3 329.8L483.1 320.9L489.9 330.3Z"/>
<path stroke="#90ff00" fill="#90ff00" d="M535.6 332.5L510.3 337.9M517.3 336.4L512.4 328.6M520.0 335.8L515.2 328.0M510.3 337.9L505.4 330.1L514.8 336.9Z"/>
<path stroke="#ffe000" fill="#ffe000" d="M560.2 332.5L530.7 343.8M537.3 341.3L531.3 334.3M540.0 340.3L534.0 333.3M542.6 339.2L536.6 332.3M545.3 338.2L542.3 334.7M530.7 343.8L524.7 336.9L535.0 342.2Z"/>
<path stroke="#ffff00" fill="#ffff00" d="M584.8 332.5L556.6 338.5M563.6 337.0L558.7 329.2M566.4 336.4L561.5 328.6M569.2 335.8L564.3 328.0M556.6 338.5L551.8 330.7L561.1 337.5Z"/>
<path stroke="#ffc000" fill="#ffc000" d="M609.3 332.5L578.1 337.4M585.1 336.3L580.7 328.3M587.9 335.9L583.5 327.8M590.8 335.4L586.3 327.4M593.6 335.0L589.1 326.9M578.1 337.4L573.6 329.4L582.7 336.7Z"/>
<path stroke="#40ff00" fill="#40ff00" d="M633.9 332.5L608.5 327.6M615.4 328.9L614.0 319.8M618.2 329.5L617.5 324.9M608.5 327.6L607.0 318.5L613.0 328.4Z"/>
<path stroke="#00ffa0" fill="#00ffa0" d="M658.4 332.5L636.8 324.6M643.5 327.0L643.5 322.4M636.8 324.6L636.8 315.4L641.1 326.2Z"/>
<path stroke="#40ff00" fill="#40ff00" d="M683.0 332.5L665.0 313.9M669.9 319.0L674.0 310.7M671.9 321.0L673.9 316.9M665.0 313.9L669.0 305.6L668.2 317.2Z"/>
<path stroke="#ff9000" fill="#ff9000" d="M707.6 332.5L688.3 316.4M688.3 316.4L691.5 307.7L691.9 319.3ZM692.1 319.5L695.2 310.9L695.6 322.5Z"/>
<path stroke="#ffa800" fill="#ffa800" d="M732.1 332.5L703.6 313.2M709.4 317.2L711.7 308.3M711.8 318.8L714.0 309.9M714.2 320.4L716.4 311.5M716.5 322.0L718.8 313.1M718.9 323.6L720.0 319.1M703.6 313.2L705.8 304.3L707.4 315.8Z"/>
<path stroke="#ffe000" fill="#ffe000" d="M756.7 332.5L728.8 317.7M735.0 321.0L736.3 311.9M737.6 322.3L738.8 313.2M740.1 323.7L741.4 314.6M742.6 325.0L743.2 320.5M728.8 317.7L730.1 308.6L732.8 319.8Z"/>
<path stroke="#90ff00" fill="#90ff00" d="M781.2 332.5L760.0 317.6M765.8 321.7L768.2 312.8M768.2 323.4L770.6 314.5M760.0 317.6L762.4 308.8L763.8 320.3Z"/>
<path stroke="#00ff80" fill="#00ff80" d="M805.8 332.5L786.0 320.6M792.1 324.3L793.9 315.3M786.0 320.6L787.8 311.6L790.0 323.0Z"/>
<path stroke="#00ff80" fill="#00ff80" d="M830.4 332.5L808.0 326.9M814.9 328.6L813.9 319.5M808.0 326.9L807.0 317.8L812.5 328.0Z"/>
<path stroke="#e8ff00" fill="#e8ff00" d="M854.9 332.5L826.7 327.0M833.7 328.4L832.2 319.3M836.5 328.9L835.0 319.8M839.3 329.5L837.8 320.4M826.7 327.0L825.3 317.9L831.2 327.9Z"/>
<path stroke="#ffc000" fill="#ffc000" d="M879.5 332.5L848.3 327.6M855.3 328.7L853.5 319.6M858.1 329.1L856.3 320.1M860.9 329.6L859.2 320.5M863.7 330.0L862.0 321.0M848.3 327.6L846.5 318.5L852.8 328.3Z"/>
<path stroke="#ff9000" fill="#ff9000" d="M904.0 332.5L879.6 326.9M879.6 326.9L878.5 317.7L884.1 327.9ZM884.4 328.0L883.2 318.8L888.8 329.0Z"/>
<path stroke="#ff9000" fill="#ff9000" d="M928.6 332.5L903.1 321.1M914.0 326.0L914.3 321.4M903.1 321.1L903.7 312.0L907.3 323.0ZM907.5 323.1L908.2 313.9L911.7 325.0Z"/>
<path stroke="#ff9000" fill="#ff9000" d="M953.2 332.5L931.6 319.6M931.6 319.6L933.4 310.5L935.6 321.9ZM935.8 322.1L937.6 313.1L939.8 324.5Z"/>
<path stroke="#00ffd8" fill="#00ffd8" d="M93.6 376.2L64.0 377.3M64.0 377.3L60.6 368.8M66.9 377.2L63.4 368.7M69.7 377.1L66.3 368.6M72.6 377.0L69.1 368.5M75.4 376.9L73.7 372.6"/>
<path stroke="#40ff00" fill="#40ff00" d="M118.1 376.2L92.3 378.5M99.4 377.9L95.5 369.6M102.2 377.6L98.3 369.3M92.3 378.5L88.4 370.2L96.9 378.1Z"/>
<path stroke="#ffff00" fill="#ffff00" d="M142.7 376.2L112.5 385.5M119.3 383.4L113.7 376.1M122.0 382.6L116.4 375.2M124.7 381.7L119.2 374.4M127.4 380.9L124.7 377.2M112.5 385.5L106.9 378.1L116.9 384.1Z"/>
<path stroke="#00ff80" fill="#00ff80" d="M167.2 376.2L146.0 367.2M152.6 370.0L152.8 365.4M146.0 367.2L146.5 358.1L150.3 369.0Z"/>
<path stroke="#ffa800" fill="#ffa800" d="M191.8 376.2L171.2 361.9M171.2 361.9L173.6 353.0L175.0 364.5ZM175.3 364.7L177.6 355.8L179.0 367.3Z"/>
<path stroke="#40ff00" fill="#40ff00" d="M216.4 376.2L191.3 369.5M198.2 371.4L197.4 362.2M201.0 372.1L200.2 363.0M191.3 369.5L190.5 360.4L195.8 370.7Z"/>
<path stroke="#00ff40" fill="#00ff40" d="M240.9 376.2L218.3 380.6M225.3 379.3L220.5 371.4M218.3 380.6L213.6 372.8L222.8 379.8Z"/>
<path stroke="#00ff40" fill="#00ff40" d="M265.5 376.2L242.4 388.0M248.7 384.8L242.0 378.5M251.3 383.5L247.9 380.4M242.4 388.0L235.7 381.7L246.5 385.9Z"/>
<path stroke="#40ff00" fill="#40ff00" d="M290.0 376.2L268.3 390.4M274.3 386.5L266.9 381.0M276.7 384.9L273.0 382.2M268.3 390.4L261.0 384.8L272.2 387.9Z"/>
<path stroke="#90ff00" fill="#90ff00" d="M314.6 376.2L299.0 396.9M303.3 391.3L294.5 388.6M305.0 389.0L296.2 386.3M299.0 396.9L290.2 394.2L301.8 393.3Z"/>
<path stroke="#40ff00" fill="#40ff00" d="M339.2 376.2L327.8 399.5M330.9 393.1L321.8 392.2M332.2 390.6L327.6 390.1M327.8 399.5L318.7 398.6L329.8 395.4Z"/>
<path stroke="#ffe000" fill="#ffe000" d="M363.7 376.2L352.9 405.9M355.3 399.3L346.1 399.3M356.3 396.6L347.1 396.6M357.3 393.9L348.1 393.9M358.3 391.2L353.7 391.2M352.9 405.9L343.7 405.9L354.5 401.6Z"/>
<path stroke="#0070ff" fill="#0070ff" d="M388.3 376.2L373.6 395.0M373.6 395.0L364.8 392.2M375.4 392.8L366.6 390.0M377.1 390.6L368.4 387.7"/>
<path stroke="#0070ff" fill="#0070ff" d="M412.8 376.2L391.8 365.1M391.8 365.1L393.1 355.9M394.3 366.4L395.6 357.3M396.8 367.7L398.1 358.6"/>
<path stroke="#ffe000" fill="#ffe000" d="M437.4 376.2L417.5 351.7M422.0 357.2L426.7 349.3M423.8 359.4L428.5 351.5M425.6 361.6L430.3 353.8M427.4 363.9L429.7 359.9M417.5 351.7L422.3 343.8L420.4 355.3Z"/>
<path stroke="#00ff40" fill="#00ff40" d="M462.0 376.2L440.5 361.8M446.4 365.7L448.6 356.8M448.7 367.3L449.8 362.9M440.5 361.8L442.7 352.8L444.3 364.3Z"/>
<path stroke="#ffff00" fill="#ffff00" d="M486.5 376.2L463.9 358.5M469.5 362.9L472.3 354.2M471.7 364.7L474.5 355.9M474.0 366.4L476.8 357.7M463.9 358.5L466.7 349.8L467.5 361.4Z"/>
<path stroke="#00ff80" fill="#00ff80" d="M511.1 376.2L488.1 374.6M495.2 375.1L493.9 370.7M488.1 374.6L485.6 365.8L492.7 375.0Z"/>
<path stroke="#00ff40" fill="#00ff40" d="M535.6 376.2L513.5 382.6M520.3 380.6L514.9 373.2M513.5 382.6L508.1 375.2L517.9 381.3Z"/>
<path stroke="#e8ff00" fill="#e8ff00" d="M560.2 376.2L533.2 386.1M539.9 383.7L533.9 376.6M542.5 382.7L536.6 375.6M545.2 381.7L539.3 374.7M533.2 386.1L527.3 379.0L537.5 384.5Z"/>
<path stroke="#90ff00" fill="#90ff00" d="M584.8 376.2L557.1 384.2M563.9 382.2L558.5 374.8M566.7 381.4L561.3 374.0M569.4 380.6L566.7 376.9M557.1 384.2L551.7 376.7L561.5 382.9Z"/>
<path stroke="#ffff00" fill="#ffff00" d="M609.3 376.2L578.0 380.1M585.0 379.2L580.8 371.0M587.8 378.9L583.7 370.7M590.7 378.5L586.5 370.3M593.5 378.2L591.4 374.1M578.0 380.1L573.8 371.9L582.5 379.5Z"/>
<path stroke="#40ff00" fill="#40ff00" d="M633.9 376.2L608.5 371.3M615.4 372.7L614.0 363.6M618.2 373.2L617.5 368.7M608.5 371.3L607.0 362.2L613.0 372.2Z"/>
<path stroke="#00ffd8" fill="#00ffd8" d="M658.4 376.2L631.0 365.2M631.0 365.2L631.4 356.0M633.7 366.2L634.0 357.1M636.3 367.3L636.6 358.1M639.0 368.4L639.3 359.2M641.6 369.5L641.8 364.9"/>
<path stroke="#40ff00" fill="#40ff00" d="M683.0 376.2L665.0 357.6M669.9 362.7L674.0 354.5M671.9 364.8L676.0 356.5M665.0 357.6L669.0 349.4L668.2 360.9Z"/>
<path stroke="#ffff00" fill="#ffff00" d="M707.6 376.2L685.2 358.2M690.7 362.6L693.7 353.9M692.9 364.4L695.9 355.7M695.2 366.2L698.2 357.5M685.2 358.2L688.2 349.5L688.8 361.1Z"/>
<path stroke="#ffff00" fill="#ffff00" d="M732.1 376.2L709.5 358.5M715.1 362.9L717.9 354.2M717.3 364.7L720.1 355.9M719.6 366.4L722.4 357.7M709.5 358.5L712.3 349.8L713.1 361.4Z"/>
<path stroke="#90ff00" fill="#90ff00" d="M756.7 376.2L735.5 361.4M741.3 365.5L743.7 356.6M743.6 367.1L746.0 358.2M735.5 361.4L737.8 352.5L739.2 364.0Z"/>
<path stroke="#00ff80" fill="#00ff80" d="M781.2 376.2L761.9 363.7M767.9 367.6L769.9 358.6M761.9 363.7L764.0 354.7L765.8 366.2Z"/>
<path stroke="#00ff80" fill="#00ff80" d="M805.8 376.2L786.5 363.7M792.4 367.6L793.5 363.1M786.5 363.7L788.5 354.7L790.3 366.2Z"/>
<path stroke="#00ffa0" fill="#00ffa0" d="M830.4 376.2L807.4 374.2M814.5 374.9L813.3 370.4M807.4 374.2L805.0 365.4L812.0 374.6Z"/>
<path stroke="#00ff80" fill="#00ff80" d="M854.9 376.2L832.0 373.4M839.1 374.3L837.0 365.3M832.0 373.4L830.0 364.5L836.6 374.0Z"/>
<path stroke="#e8ff00" fill="#e8ff00" d="M879.5 376.2L850.9 372.7M858.0 373.6L855.9 364.6M860.8 374.0L858.8 365.0M863.6 374.3L861.6 365.3M850.9 372.7L848.9 363.8L855.5 373.3Z"/>
<path stroke="#ffa800" fill="#ffa800" d="M904.0 376.2L870.2 369.7M877.2 371.0L875.8 361.9M880.0 371.6L878.6 362.5M882.8 372.1L881.3 363.0M885.6 372.7L884.1 363.6M888.4 373.2L887.7 368.7M870.2 369.7L868.8 360.6L874.7 370.6Z"/>
<path stroke="#ffc000" fill="#ffc000" d="M928.6 376.2L897.9 360.6M904.2 363.8L905.4 354.7M906.8 365.1L907.9 356.0M909.3 366.4L910.4 357.3M911.8 367.7L913.0 358.6M914.4 369.0L914.9 364.4M897.9 360.6L899.0 351.5L902.0 362.7Z"/>
<path stroke="#ffc000" fill="#ffc000" d="M953.2 376.2L923.9 358.0M930.0 361.8L931.9 352.8M932.4 363.3L934.3 354.3M934.8 364.8L936.7 355.8M937.2 366.3L939.1 357.3M939.6 367.8L940.6 363.3M923.9 358.0L925.9 349.0L927.8 360.4Z"/>
<path stroke="#00c0ff" fill="#00c0ff" d="M93.6 415.5L67.0 413.2M67.0 413.2L64.6 404.3M69.8 413.4L67.4 404.5M72.6 413.7L70.3 404.8M75.5 413.9L73.1 405.0"/>
<path stroke="#40ff00" fill="#40ff00" d="M118.1 415.5L92.2 416.4M99.3 416.2L95.9 407.6M102.2 416.1L100.5 411.8M92.2 416.4L88.8 407.9L96.8 416.2Z"/>
<path stroke="#90ff00" fill="#90ff00" d="M142.7 415.5L114.9 422.9M121.8 421.1L116.5 413.6M124.5 420.4L119.2 412.8M127.3 419.6L124.6 415.9M114.9 422.9L109.6 415.4L119.4 421.8Z"/>
<path stroke="#00ff80" fill="#00ff80" d="M167.2 415.5L145.6 407.6M152.3 410.0L152.3 405.4M145.6 407.6L145.6 398.4L149.9 409.2Z"/>
<path stroke="#ffff00" fill="#ffff00" d="M191.8 415.5L166.7 401.6M172.9 405.0L174.3 395.9M175.4 406.4L176.8 397.3M177.8 407.8L179.3 398.7M166.7 401.6L168.1 392.5L170.7 403.8Z"/>
<path stroke="#40ff00" fill="#40ff00" d="M216.4 415.5L191.3 408.8M198.2 410.6L197.4 401.5M201.0 411.4L200.6 406.8M191.3 408.8L190.5 399.6L195.8 410.0Z"/>
<path stroke="#00ffd8" fill="#00ffd8" d="M240.9 415.5L220.8 417.3M220.8 417.3L216.9 408.9L225.4 416.9Z"/>
<path stroke="#00ff80" fill="#00ff80" d="M265.5 415.5L246.1 428.1M252.1 424.2L248.4 421.4M246.1 428.1L238.8 422.5L250.0 425.5Z"/>
<path stroke="#00ff80" fill="#00ff80" d="M290.0 415.5L272.1 430.0M277.6 425.5L269.8 420.8M272.1 430.0L264.2 425.3L275.7 427.1Z"/>
<path stroke="#00ff40" fill="#00ff40" d="M314.6 415.5L298.9 432.4M303.7 427.2L295.3 423.6M298.9 432.4L290.4 428.8L302.0 429.0Z"/>
<path stroke="#40ff00" fill="#40ff00" d="M339.2 415.5L329.5 439.5M332.1 432.9L322.9 432.6M333.2 430.3L328.6 430.1M329.5 439.5L320.3 439.2L331.2 435.2Z"/>
<path stroke="#00ff80" fill="#00ff80" d="M363.7 415.5L349.5 433.7M353.9 428.1L349.5 426.6M349.5 433.7L340.8 430.8L352.4 430.0Z"/>
<path stroke="#0070ff" fill="#0070ff" d="M388.3 415.5L370.8 435.7M370.8 435.7L362.2 432.4M372.6 433.5L364.0 430.2M374.5 431.3L365.9 428.1M376.4 429.2L372.1 427.5"/>
<path stroke="#0058ff" fill="#0058ff" d="M412.8 415.5L391.6 404.7M391.6 404.7L392.7 395.5M394.1 406.0L395.3 396.8M396.7 407.3L397.8 398.1"/>
<path stroke="#00ff80" fill="#00ff80" d="M437.4 415.5L420.8 399.5M425.9 404.4L427.8 400.2M420.8 399.5L424.6 391.1L424.1 402.7Z"/>
<path stroke="#00ffa0" fill="#00ffa0" d="M462.0 415.5L446.0 403.1M446.0 403.1L448.9 394.3L449.7 405.9Z"/>
<path stroke="#00ff40" fill="#00ff40" d="M486.5 415.5L464.8 401.4M470.8 405.3L472.8 396.3M473.1 406.8L474.2 402.3M464.8 401.4L466.9 392.4L468.7 403.9Z"/>
<path stroke="#00ff80" fill="#00ff80" d="M511.1 415.5L488.0 415.5M495.1 415.5L493.6 411.2M488.0 415.5L484.9 406.9L492.6 415.5Z"/>
<path stroke="#00ffa0" fill="#00ffa0" d="M535.6 415.5L512.6 416.3M519.7 416.1L518.0 411.8M512.6 416.3L509.2 407.8L517.2 416.1Z"/>
<path stroke="#90ff00" fill="#90ff00" d="M560.2 415.5L534.8 420.4M541.7 419.1L537.0 411.2M544.5 418.5L539.8 410.7M534.8 420.4L530.0 412.6L539.3 419.6Z"/>
<path stroke="#90ff00" fill="#90ff00" d="M584.8 415.5L560.0 423.1M566.8 421.0L561.2 413.6M569.5 420.2L564.0 412.8M560.0 423.1L554.5 415.7L564.4 421.7Z"/>
<path stroke="#90ff00" fill="#90ff00" d="M609.3 415.5L580.8 419.5M587.9 418.5L583.6 410.4M590.7 418.1L586.4 410.0M593.5 417.7L591.4 413.7M580.8 419.5L576.5 411.4L585.4 418.9Z"/>
<path stroke="#00ff80" fill="#00ff80" d="M633.9 415.5L611.3 410.7M618.3 412.2L617.0 403.1M611.3 410.7L610.1 401.6L615.8 411.7Z"/>
<path stroke="#00c0ff" fill="#00c0ff" d="M658.4 415.5L630.7 405.4M630.7 405.4L630.7 396.2M633.4 406.4L633.4 397.2M636.0 407.3L636.0 398.1M638.7 408.3L638.7 399.1M641.4 409.3L641.4 404.7"/>
<path stroke="#00ff40" fill="#00ff40" d="M683.0 415.5L667.1 395.1M671.4 400.7L676.3 392.9M673.2 402.9L675.6 399.0M667.1 395.1L671.9 387.3L669.9 398.7Z"/>
<path stroke="#00ff80" fill="#00ff80" d="M707.6 415.5L689.4 401.3M695.0 405.7L696.4 401.3M689.4 401.3L692.2 392.6L693.0 404.1Z"/>
<path stroke="#00ff40" fill="#00ff40" d="M732.1 415.5L712.6 398.5M717.9 403.2L721.2 394.6M720.1 405.0L721.7 400.7M712.6 398.5L715.9 389.9L716.0 401.5Z"/>
<path stroke="#00ff80" fill="#00ff80" d="M756.7 415.5L739.0 400.7M744.5 405.2L746.0 400.9M739.0 400.7L742.2 392.0L742.5 403.6Z"/>
<path stroke="#00ffa0" fill="#00ffa0" d="M781.2 415.5L763.4 406.0M763.4 406.0L764.7 396.9L767.5 408.2Z"/>
<path stroke="#00ffa0" fill="#00ffa0" d="M805.8 415.5L788.3 405.4M788.3 405.4L789.9 396.3L792.3 407.7Z"/>
<path stroke="#00ffd8" fill="#00ffd8" d="M830.4 415.5L801.0 412.4M801.0 412.4L798.7 403.5M803.8 412.7L801.6 403.8M806.6 413.0L804.4 404.1M809.5 413.3L807.2 404.4M812.3 413.6L811.2 409.1"/>
<path stroke="#00ff80" fill="#00ff80" d="M854.9 415.5L832.2 411.9M839.2 413.0L837.4 404.0M832.2 411.9L830.4 402.9L836.7 412.6Z"/>
<path stroke="#90ff00" fill="#90ff00" d="M879.5 415.5L853.8 411.9M860.9 412.9L859.0 403.9M863.7 413.3L861.8 404.3M853.8 411.9L851.9 402.9L858.4 412.5Z"/>
<path stroke="#ffc000" fill="#ffc000" d="M904.0 415.5L873.2 408.4M880.2 410.0L879.0 400.9M882.9 410.6L881.8 401.5M885.7 411.3L884.6 402.1M888.5 411.9L887.4 402.8M873.2 408.4L872.1 399.3L877.7 409.4Z"/>
<path stroke="#ffff00" fill="#ffff00" d="M928.6 415.5L903.7 401.1M909.9 404.7L911.4 395.6M912.3 406.1L913.9 397.0M914.8 407.5L916.4 398.5M903.7 401.1L905.3 392.1L907.7 403.4Z"/>
<path stroke="#ffe000" fill="#ffe000" d="M953.2 415.5L927.6 396.9M933.3 401.1L935.9 392.3M935.6 402.8L938.2 393.9M938.0 404.4L940.5 395.6M940.3 406.1L941.5 401.7M927.6 396.9L930.1 388.1L931.3 399.6Z"/>
<path stroke="#0090ff" fill="#0090ff" d="M93.6 451.8L67.1 448.5M67.1 448.5L65.0 439.5M69.9 448.8L67.8 439.9M72.7 449.2L70.6 440.2M75.5 449.5L73.5 440.6"/>
<path stroke="#00ff40" fill="#00ff40" d="M118.1 451.8L95.1 451.3M102.2 451.5L99.2 442.8M95.1 451.3L92.1 442.6L99.7 451.4Z"/>
<path stroke="#90ff00" fill="#90ff00" d="M142.7 451.8L117.7 458.5M124.5 456.6L119.2 449.1M127.3 455.9L122.0 448.3M117.7 458.5L112.4 450.9L122.1 457.3Z"/>
<path stroke="#00ffa0" fill="#00ffa0" d="M167.2 451.8L148.9 443.2M148.9 443.2L149.7 434.0L153.1 445.2Z"/>
<path stroke="#90ff00" fill="#90ff00" d="M191.8 451.8L169.4 438.8M175.5 442.4L177.1 433.3M178.0 443.8L179.6 434.7M169.4 438.8L171.0 429.7L173.4 441.1Z"/>
<path stroke="#00ff40" fill="#00ff40" d="M216.4 451.8L194.2 445.4M201.0 447.4L200.4 438.2M194.2 445.4L193.6 436.2L198.6 446.7Z"/>
<path stroke="#00ffd8" fill="#00ffd8" d="M240.9 451.8L220.8 453.2M220.8 453.2L217.0 444.8L225.4 452.8Z"/>
<path stroke="#00ffa0" fill="#00ffa0" d="M265.5 451.8L247.2 460.3M247.2 460.3L240.7 453.8L251.3 458.3Z"/>
<path stroke="#00ff80" fill="#00ff80" d="M290.0 451.8L274.9 469.1M279.6 463.8L275.3 462.1M274.9 469.1L266.3 465.8L277.9 465.7Z"/>
<path stroke="#00ff80" fill="#00ff80" d="M314.6 451.8L299.5 469.1M304.1 463.8L299.8 462.1M299.5 469.1L290.9 465.8L302.5 465.7Z"/>
<path stroke="#40ff00" fill="#40ff00" d="M339.2 451.8L332.0 476.6M334.0 469.8L324.8 470.5M334.8 467.1L330.2 467.4M332.0 476.6L322.8 477.3L333.3 472.2Z"/>
<path stroke="#00ffa0" fill="#00ffa0" d="M363.7 451.8L349.7 466.3M349.7 466.3L341.3 462.5L352.9 463.0Z"/>
<path stroke="#0070ff" fill="#0070ff" d="M388.3 451.8L369.4 470.6M369.4 470.6L361.1 466.7M371.4 468.6L363.1 464.7M373.4 466.6L365.1 462.7M375.4 464.6L371.3 462.6"/>
<path stroke="#0058ff" fill="#0058ff" d="M412.8 451.8L391.4 441.3M391.4 441.3L392.4 432.1M394.0 442.5L394.9 433.4M396.5 443.8L397.5 434.6"/>
<path stroke="#00ff80" fill="#00ff80" d="M437.4 451.8L424.2 432.9M428.3 438.7L430.9 434.9M424.2 432.9L429.5 425.3L426.8 436.6Z"/>
<path stroke="#00ffd8" fill="#00ffd8" d="M462.0 451.8L445.8 439.6M445.8 439.6L448.5 430.8L449.5 442.4Z"/>
<path stroke="#00ffd8" fill="#00ffd8" d="M486.5 451.8L467.8 444.2M467.8 444.2L468.1 435.0L472.1 445.9Z"/>
<path stroke="#00ffd8" fill="#00ffd8" d="M511.1 451.8L482.3 458.4M482.3 458.4L477.3 450.7M485.1 457.8L480.1 450.0M487.8 457.1L482.8 449.4M490.6 456.5L485.6 448.8M493.4 455.8L490.9 452.0"/>
<path stroke="#00ffa0" fill="#00ffa0" d="M535.6 451.8L512.6 452.6M519.7 452.3L518.0 448.0M512.6 452.6L509.2 444.0L517.2 452.4Z"/>
<path stroke="#40ff00" fill="#40ff00" d="M560.2 451.8L534.8 456.7M541.7 455.3L537.0 447.5M544.5 454.8L542.2 450.9M534.8 456.7L530.0 448.8L539.3 455.8Z"/>
<path stroke="#40ff00" fill="#40ff00" d="M584.8 451.8L559.3 456.7M566.3 455.3L561.6 447.5M569.1 454.8L566.7 450.9M559.3 456.7L554.6 448.8L563.9 455.8Z"/>
<path stroke="#90ff00" fill="#90ff00" d="M609.3 451.8L583.6 454.5M590.6 453.7L586.6 445.4M593.5 453.4L589.4 445.1M583.6 454.5L579.5 446.2L588.1 454.0Z"/>
<path stroke="#00ff80" fill="#00ff80" d="M633.9 451.8L611.8 445.0M618.6 447.1L618.4 442.5M611.8 445.0L611.4 435.8L616.2 446.4Z"/>
<path stroke="#00ffd8" fill="#00ffd8" d="M658.4 451.8L631.2 440.2M631.2 440.2L631.7 431.0M633.9 441.3L634.3 432.1M636.5 442.4L637.0 433.2M639.1 443.5L639.6 434.4M641.7 444.7L642.0 440.1"/>
<path stroke="#00ffa0" fill="#00ffa0" d="M683.0 451.8L670.4 432.4M674.3 438.4L677.1 434.7M670.4 432.4L676.0 425.1L673.0 436.3Z"/>
<path stroke="#00ffd8" fill="#00ffd8" d="M707.6 451.8L684.9 432.8M684.9 432.8L688.1 424.1M687.1 434.6L690.3 425.9M689.3 436.4L692.4 427.8M691.5 438.3L694.6 429.6M693.7 440.1L695.2 435.8"/>
<path stroke="#00ffa0" fill="#00ffa0" d="M732.1 451.8L717.3 438.0M717.3 438.0L720.9 429.5L720.7 441.1Z"/>
<path stroke="#0090ff" fill="#0090ff" d="M756.7 451.8L737.8 432.9M737.8 432.9L741.7 424.5M739.8 434.9L743.7 426.5M741.8 436.9L745.7 428.6M743.8 438.9L747.7 430.6"/>
<path stroke="#00c0ff" fill="#00c0ff" d="M781.2 451.8L756.3 442.2M756.3 442.2L756.5 433.0M759.0 443.2L759.1 434.0M761.6 444.2L761.8 435.0M764.3 445.2L764.5 436.0"/>
<path stroke="#00c0ff" fill="#00c0ff" d="M805.8 451.8L782.0 439.6M782.0 439.6L783.1 430.5M784.5 440.9L785.7 431.8M787.1 442.2L788.2 433.1M789.6 443.5L790.7 434.4"/>
<path stroke="#0090ff" fill="#0090ff" d="M830.4 451.8L803.8 449.4M803.8 449.4L801.4 440.5M806.6 449.7L804.2 440.8M809.4 449.9L807.1 441.0M812.3 450.2L809.9 441.3"/>
<path stroke="#00ff80" fill="#00ff80" d="M854.9 451.8L832.7 445.8M839.5 447.6L839.1 443.0M832.7 445.8L831.9 436.6L837.1 447.0Z"/>
<path stroke="#00ff80" fill="#00ff80" d="M879.5 451.8L857.0 446.6M863.9 448.2L862.8 439.0M857.0 446.6L855.9 437.4L861.5 447.6Z"/>
<path stroke="#e8ff00" fill="#e8ff00" d="M904.0 451.8L876.5 443.3M883.3 445.4L882.9 436.2M886.1 446.3L885.6 437.1M888.8 447.1L888.5 442.5M876.5 443.3L876.1 434.2L880.9 444.7Z"/>
<path stroke="#90ff00" fill="#90ff00" d="M928.6 451.8L906.2 438.8M912.3 442.4L913.9 433.3M914.8 443.8L916.4 434.7M906.2 438.8L907.8 429.7L910.2 441.1Z"/>
<path stroke="#90ff00" fill="#90ff00" d="M953.2 451.8L931.9 436.9M937.8 441.0L940.1 432.1M940.1 442.6L942.5 433.7M931.9 436.9L934.3 428.0L935.7 439.5Z"/>
<path stroke="#0090ff" fill="#0090ff" d="M93.6 484.5L67.4 478.9M67.4 478.9L66.2 469.8M70.2 479.5L69.0 470.4M73.0 480.1L71.7 471.0M75.8 480.7L75.2 476.2"/>
<path stroke="#00ff80" fill="#00ff80" d="M118.1 484.5L95.5 488.9M102.5 487.5L100.1 483.6M95.5 488.9L90.8 481.0L100.0 488.0Z"/>
<path stroke="#00ff40" fill="#00ff40" d="M142.7 484.5L120.1 488.9M127.0 487.5L122.3 479.7M120.1 488.9L115.3 481.0L124.6 488.0Z"/>
<path stroke="#00ffd8" fill="#00ffd8" d="M167.2 484.5L149.7 474.4M149.7 474.4L151.3 465.3L153.7 476.7Z"/>
<path stroke="#00ff40" fill="#00ff40" d="M191.8 484.5L172.7 471.6M178.6 475.6L180.8 466.7M172.7 471.6L174.9 462.7L176.5 474.2Z"/>
<path stroke="#00ffd8" fill="#00ffd8" d="M216.4 484.5L196.9 478.9M196.9 478.9L196.3 469.8L201.4 480.2Z"/>
<path stroke="#00ffa0" fill="#00ffa0" d="M240.9 484.5L221.2 489.0M221.2 489.0L216.2 481.3L225.7 488.0Z"/>
<path stroke="#00ffd8" fill="#00ffd8" d="M265.5 484.5L248.9 496.1M248.9 496.1L241.4 490.8L252.7 493.4Z"/>
<path stroke="#00ff80" fill="#00ff80" d="M290.0 484.5L274.9 501.9M279.6 496.5L275.3 494.9M274.9 501.9L266.3 498.6L277.9 498.4Z"/>
<path stroke="#00ff80" fill="#00ff80" d="M314.6 484.5L302.0 503.8M305.9 497.9L301.4 496.8M302.0 503.8L293.1 501.8L304.6 500.0Z"/>
<path stroke="#00ff40" fill="#00ff40" d="M339.2 484.5L331.3 506.2M333.7 499.5L324.5 499.5M331.3 506.2L322.1 506.2L332.8 501.8Z"/>
<path stroke="#00c0ff" fill="#00c0ff" d="M363.7 484.5L346.4 508.4M346.4 508.4L337.5 505.9M348.0 506.1L339.2 503.6M349.7 503.8L340.9 501.3M351.4 501.5L342.5 499.0M353.1 499.2L348.6 497.9"/>
<path stroke="#0070ff" fill="#0070ff" d="M388.3 484.5L367.2 500.9M367.2 500.9L359.4 496.1M369.5 499.2L361.7 494.3M371.7 497.4L363.9 492.6M374.0 495.7L370.1 493.2"/>
<path stroke="#0058ff" fill="#0058ff" d="M412.8 484.5L390.6 476.0M390.6 476.0L390.7 466.8M393.2 477.0L393.4 467.8M395.9 478.0L396.1 468.8"/>
<path stroke="#00ff80" fill="#00ff80" d="M437.4 484.5L426.2 464.3M429.7 470.5L432.7 467.1M426.2 464.3L432.3 457.4L428.5 468.4Z"/>
<path stroke="#00c0ff" fill="#00c0ff" d="M462.0 484.5L443.4 465.3M443.4 465.3L447.4 457.0M445.4 467.3L449.4 459.1M447.4 469.4L451.4 461.1M449.4 471.4L453.4 463.2"/>
<path stroke="#0070ff" fill="#0070ff" d="M486.5 484.5L460.9 477.1M460.9 477.1L460.2 468.0M463.6 477.9L463.0 468.7M466.3 478.7L465.7 469.5M469.1 479.5L468.8 474.9"/>
<path stroke="#0090ff" fill="#0090ff" d="M511.1 484.5L484.4 486.4M484.4 486.4L480.7 478.0M487.3 486.2L483.5 477.8M490.1 486.0L486.4 477.6M493.0 485.8L491.1 481.6"/>
<path stroke="#00ff80" fill="#00ff80" d="M535.6 484.5L512.7 486.9M519.8 486.2L517.8 482.0M512.7 486.9L508.7 478.6L517.3 486.4Z"/>
<path stroke="#00ffd8" fill="#00ffd8" d="M560.2 484.5L540.9 490.4M540.9 490.4L535.3 483.1L545.3 489.1Z"/>
<path stroke="#00ff80" fill="#00ff80" d="M584.8 484.5L561.7 484.1M568.8 484.2L567.3 479.9M561.7 484.1L558.7 475.4L566.3 484.2Z"/>
<path stroke="#00ff40" fill="#00ff40" d="M609.3 484.5L586.4 486.5M593.4 485.9L589.5 477.6M586.4 486.5L582.5 478.2L590.9 486.1Z"/>
<path stroke="#00ffa0" fill="#00ffa0" d="M633.9 484.5L614.9 477.6M614.9 477.6L614.9 468.4L619.2 479.2Z"/>
<path stroke="#00c0ff" fill="#00c0ff" d="M658.4 484.5L632.1 471.1M632.1 471.1L633.2 462.0M634.7 472.4L635.8 463.2M637.2 473.7L638.3 464.5M639.7 475.0L640.9 465.8M642.3 476.3L642.8 471.7"/>
<path stroke="#00ffd8" fill="#00ffd8" d="M683.0 484.5L673.8 466.5M673.8 466.5L680.1 459.8L675.9 470.6Z"/>
<path stroke="#00c0ff" fill="#00c0ff" d="M707.6 484.5L687.4 467.0M687.4 467.0L690.7 458.4M689.6 468.9L692.9 460.3M691.7 470.7L695.0 462.1M693.9 472.6L697.2 464.0"/>
<path stroke="#00c0ff" fill="#00c0ff" d="M732.1 484.5L712.9 466.0M712.9 466.0L716.7 457.5M715.0 467.9L718.7 459.5M717.0 469.9L720.8 461.5M719.1 471.9L722.8 463.5"/>
<path stroke="#0058ff" fill="#0058ff" d="M756.7 484.5L743.7 464.5M743.7 464.5L749.2 457.2M745.2 466.9L750.8 459.5M746.8 469.3L752.3 461.9"/>
<path stroke="#0070ff" fill="#0070ff" d="M781.2 484.5L754.5 484.0M754.5 484.0L751.5 475.3M757.4 484.1L754.4 475.4M760.2 484.1L757.2 475.4M763.1 484.2L761.6 479.8"/>
<path stroke="#0070ff" fill="#0070ff" d="M805.8 484.5L783.1 477.1M783.1 477.1L782.8 467.9M785.8 478.0L785.5 468.8M788.5 478.9L788.2 469.7"/>
<path stroke="#0090ff" fill="#0090ff" d="M830.4 484.5L803.7 484.0M803.7 484.0L800.7 475.3M806.5 484.1L803.5 475.4M809.4 484.1L806.4 475.4M812.2 484.2L809.2 475.5"/>
<path stroke="#00ffa0" fill="#00ffa0" d="M854.9 484.5L834.8 483.1M834.8 483.1L832.2 474.2L839.4 483.4Z"/>
<path stroke="#00ff80" fill="#00ff80" d="M879.5 484.5L856.6 482.1M863.6 482.8L862.5 478.4M856.6 482.1L854.3 473.2L861.1 482.6Z"/>
<path stroke="#00ff40" fill="#00ff40" d="M904.0 484.5L879.3 476.9M886.1 479.0L885.6 469.8M888.8 479.8L888.5 475.2M879.3 476.9L878.8 467.7L883.7 478.3Z"/>
<path stroke="#00ffd8" fill="#00ffd8" d="M928.6 484.5L912.1 472.9M912.1 472.9L914.4 464.0L915.8 475.6Z"/>
<path stroke="#00ffd8" fill="#00ffd8" d="M953.2 484.5L936.0 473.8M936.0 473.8L937.9 464.8L939.9 476.2Z"/>
<path stroke="#0090ff" fill="#0090ff" d="M93.6 514.5L67.2 510.3M67.2 510.3L65.4 501.3M70.0 510.8L68.2 501.7M72.8 511.2L71.1 502.2M75.6 511.7L74.8 507.1"/>
<path stroke="#00ffa0" fill="#00ffa0" d="M118.1 514.5L98.4 519.0M98.4 519.0L93.4 511.3L102.9 518.0Z"/>
<path stroke="#00ff80" fill="#00ff80" d="M142.7 514.5L119.6 514.5M126.7 514.5L125.2 510.2M119.6 514.5L116.5 505.9L124.2 514.5Z"/>
<path stroke="#00ffd8" fill="#00ffd8" d="M167.2 514.5L141.9 499.3M141.9 499.3L143.7 490.2M144.4 500.7L146.1 491.7M146.8 502.2L148.6 493.2M149.2 503.7L151.0 494.7M151.7 505.2L152.6 500.6"/>
<path stroke="#00ff80" fill="#00ff80" d="M191.8 514.5L173.9 500.0M179.4 504.5L180.9 500.1M173.9 500.0L176.9 491.3L177.5 502.9Z"/>
<path stroke="#0090ff" fill="#0090ff" d="M216.4 514.5L190.2 509.4M190.2 509.4L188.7 500.3M192.9 509.9L191.5 500.9M195.7 510.5L194.3 501.4M198.5 511.0L197.1 502.0"/>
<path stroke="#0090ff" fill="#0090ff" d="M240.9 514.5L215.5 522.8M215.5 522.8L209.9 515.5M218.2 521.9L212.6 514.6M220.9 521.0L215.3 513.7M223.7 520.1L218.0 512.9"/>
<path stroke="#00ffd8" fill="#00ffd8" d="M265.5 514.5L240.2 529.7M240.2 529.7L233.0 523.9M242.6 528.3L235.4 522.5M245.0 526.8L237.9 521.0M247.5 525.3L240.3 519.5M249.9 523.8L246.3 521.0"/>
<path stroke="#00ff80" fill="#00ff80" d="M290.0 514.5L273.2 530.2M278.4 525.4L274.3 523.3M273.2 530.2L265.0 526.0L276.5 527.1Z"/>
<path stroke="#00ff80" fill="#00ff80" d="M314.6 514.5L300.4 532.7M304.8 527.1L300.4 525.6M300.4 532.7L291.7 529.8L303.2 529.0Z"/>
<path stroke="#00ff80" fill="#00ff80" d="M339.2 514.5L328.7 535.0M331.9 528.7L327.4 528.2M328.7 535.0L319.6 533.9L330.8 530.9Z"/>
<path stroke="#00c0ff" fill="#00c0ff" d="M363.7 514.5L345.9 538.1M345.9 538.1L337.1 535.4M347.7 535.8L338.9 533.1M349.4 533.5L340.6 530.9M351.1 531.3L342.3 528.6M352.8 529.0L348.4 527.7"/>
<path stroke="#0070ff" fill="#0070ff" d="M388.3 514.5L364.7 527.0M364.7 527.0L357.9 520.9M367.2 525.7L360.4 519.5M369.7 524.4L362.9 518.2M372.3 523.0L368.8 519.9"/>
<path stroke="#0058ff" fill="#0058ff" d="M412.8 514.5L389.9 507.9M389.9 507.9L389.3 498.7M392.7 508.7L392.0 499.5M395.4 509.5L395.1 504.9"/>
<path stroke="#00ff80" fill="#00ff80" d="M437.4 514.5L428.0 493.4M430.9 499.9L434.2 496.7M428.0 493.4L434.6 487.1L429.9 497.6Z"/>
<path stroke="#0070ff" fill="#0070ff" d="M462.0 514.5L447.4 492.1M447.4 492.1L453.0 484.8M449.0 494.5L454.5 487.2M450.5 496.9L456.1 489.5M452.1 499.3L454.8 495.6"/>
<path stroke="#0058ff" fill="#0058ff" d="M486.5 514.5L463.4 508.7M463.4 508.7L462.4 499.6M466.1 509.4L465.2 500.3M468.9 510.1L468.4 505.5"/>
<path stroke="#0090ff" fill="#0090ff" d="M511.1 514.5L484.4 515.9M484.4 515.9L480.8 507.4M487.3 515.7L483.7 507.3M490.1 515.6L486.5 507.1M493.0 515.4L491.2 511.2"/>
<path stroke="#00ff80" fill="#00ff80" d="M535.6 514.5L513.8 522.0M520.6 519.7L517.7 516.1M513.8 522.0L508.1 514.9L518.2 520.5Z"/>
<path stroke="#00c0ff" fill="#00c0ff" d="M560.2 514.5L530.7 516.6M530.7 516.6L527.0 508.2M533.6 516.4L529.8 508.0M536.4 516.2L532.7 507.8M539.3 516.0L535.5 507.6M542.1 515.8L540.2 511.6"/>
<path stroke="#00c0ff" fill="#00c0ff" d="M584.8 514.5L555.3 511.9M555.3 511.9L552.9 503.0M558.2 512.2L555.8 503.3M561.0 512.4L558.6 503.5M563.8 512.7L561.5 503.8M566.7 512.9L565.5 508.5"/>
<path stroke="#00ff80" fill="#00ff80" d="M609.3 514.5L586.3 516.1M593.4 515.6L591.5 511.4M586.3 516.1L582.6 507.7L590.9 515.8Z"/>
<path stroke="#00ffa0" fill="#00ffa0" d="M633.9 514.5L615.0 507.3M615.0 507.3L615.2 498.1L619.3 508.9Z"/>
<path stroke="#0070ff" fill="#0070ff" d="M658.4 514.5L634.9 502.0M634.9 502.0L636.1 492.9M637.4 503.3L638.7 494.2M639.9 504.6L641.2 495.5M642.4 506.0L643.1 501.4"/>
<path stroke="#0090ff" fill="#0090ff" d="M683.0 514.5L672.6 489.9M672.6 489.9L679.3 483.6M673.7 492.5L680.4 486.3M674.8 495.2L681.5 488.9M675.9 497.8L682.6 491.5"/>
<path stroke="#0070ff" fill="#0070ff" d="M707.6 514.5L687.7 496.6M687.7 496.6L691.2 488.1M689.8 498.5L693.3 490.0M692.0 500.4L695.4 491.9M694.1 502.4L695.8 498.1"/>
<path stroke="#0090ff" fill="#0090ff" d="M732.1 514.5L713.2 495.6M713.2 495.6L717.1 487.3M715.3 497.6L719.1 489.3M717.3 499.7L721.2 491.3M719.3 501.7L721.2 497.5"/>
<path stroke="#0030ff" fill="#0030ff" d="M756.7 514.5L743.8 498.0M743.8 498.0L748.6 490.1M745.5 500.2L750.4 492.4"/>
<path stroke="#0030ff" fill="#0030ff" d="M781.2 514.5L760.2 514.5M760.2 514.5L757.1 505.9M763.1 514.5L759.9 505.9"/>
<path stroke="#0058ff" fill="#0058ff" d="M805.8 514.5L781.9 514.5M781.9 514.5L778.8 505.9M784.8 514.5L781.7 505.9M787.6 514.5L786.1 510.2"/>
<path stroke="#0070ff" fill="#0070ff" d="M830.4 514.5L807.1 519.9M807.1 519.9L802.1 512.1M809.9 519.2L804.9 511.5M812.7 518.6L807.7 510.9"/>
<path stroke="#00ffd8" fill="#00ffd8" d="M854.9 514.5L825.4 515.5M825.4 515.5L821.9 507.0M828.2 515.4L824.8 506.9M831.1 515.3L827.6 506.8M833.9 515.2L830.5 506.7M836.8 515.1L835.1 510.9"/>
<path stroke="#00c0ff" fill="#00c0ff" d="M879.5 514.5L850.1 511.4M850.1 511.4L847.9 502.5M852.9 511.7L850.7 502.8M855.8 512.0L853.5 503.1M858.6 512.3L856.4 503.4M861.4 512.6L860.3 508.1"/>
<path stroke="#00ffa0" fill="#00ffa0" d="M904.0 514.5L885.1 507.6M885.1 507.6L885.1 498.4L889.4 509.2Z"/>
<path stroke="#00c0ff" fill="#00c0ff" d="M928.6 514.5L907.9 497.7M907.9 497.7L910.8 489.0M910.1 499.5L913.1 490.8M912.3 501.3L915.3 492.6M914.5 503.1L917.5 494.4"/>
<path stroke="#00c0ff" fill="#00c0ff" d="M953.2 514.5L929.9 496.3M929.9 496.3L932.7 487.6M932.1 498.1L935.0 489.3M934.4 499.8L937.2 491.1M936.6 501.6L939.5 492.8M938.9 503.3L940.3 499.0"/>
<path stroke="#00c0ff" fill="#00c0ff" d="M93.6 542.2L66.9 541.8M66.9 541.8L63.9 533.1M69.7 541.8L66.7 533.1M72.6 541.9L69.6 533.2M75.4 541.9L72.4 533.2"/>
<path stroke="#00ffd8" fill="#00ffd8" d="M118.1 542.2L98.4 546.8M98.4 546.8L93.4 539.1L102.9 545.8Z"/>
<path stroke="#00ffa0" fill="#00ffa0" d="M142.7 542.2L122.5 541.5M122.5 541.5L119.6 532.8L127.1 541.7Z"/>
<path stroke="#00c0ff" fill="#00c0ff" d="M167.2 542.2L141.1 528.4M141.1 528.4L142.4 519.3M143.7 529.7L144.9 520.6M146.2 531.1L147.5 521.9M148.7 532.4L150.0 523.3M151.2 533.7L151.9 529.2"/>
<path stroke="#00ffd8" fill="#00ffd8" d="M191.8 542.2L168.8 523.7M168.8 523.7L171.8 515.0M171.1 525.4L174.0 516.7M173.3 527.2L176.3 518.5M175.5 529.0L178.5 520.3M177.7 530.8L179.2 526.5"/>
<path stroke="#0058ff" fill="#0058ff" d="M216.4 542.2L192.7 538.9M192.7 538.9L190.8 529.9M195.6 539.3L193.7 530.3M198.4 539.7L197.4 535.2"/>
<path stroke="#0090ff" fill="#0090ff" d="M240.9 542.2L217.1 554.4M217.1 554.4L210.4 548.1M219.7 553.1L212.9 546.8M222.2 551.8L215.5 545.5M224.7 550.5L221.4 547.4"/>
<path stroke="#00c0ff" fill="#00c0ff" d="M265.5 542.2L243.2 561.6M243.2 561.6L235.1 557.2M245.3 559.8L237.3 555.3M247.5 557.9L239.4 553.4M249.6 556.0L241.6 551.6M251.8 554.2L247.8 551.9"/>
<path stroke="#00ffa0" fill="#00ffa0" d="M290.0 542.2L275.0 555.8M275.0 555.8L266.9 551.4L278.4 552.7Z"/>
<path stroke="#00ffa0" fill="#00ffa0" d="M314.6 542.2L303.6 559.2M303.6 559.2L294.6 557.1L306.1 555.3Z"/>
<path stroke="#00ffa0" fill="#00ffa0" d="M339.2 542.2L327.3 558.6M327.3 558.6L318.4 556.1L330.0 554.9Z"/>
<path stroke="#0070ff" fill="#0070ff" d="M363.7 542.2L341.6 557.2M341.6 557.2L334.1 551.8M343.9 555.6L336.5 550.2M346.3 554.0L338.9 548.6M348.7 552.4L345.0 549.7"/>
<path stroke="#0070ff" fill="#0070ff" d="M388.3 542.2L365.2 555.6M365.2 555.6L358.1 549.7M367.6 554.2L360.6 548.3M370.1 552.8L363.0 546.8M372.6 551.3L369.0 548.4"/>
<path stroke="#0058ff" fill="#0058ff" d="M412.8 542.2L391.2 532.2M391.2 532.2L392.0 523.0M393.8 533.4L394.6 524.2M396.4 534.6L396.8 530.0"/>
<path stroke="#00ffa0" fill="#00ffa0" d="M437.4 542.2L429.5 520.6M431.9 527.3L435.5 524.3M429.5 520.6L436.6 514.7L431.1 524.9Z"/>
<path stroke="#0058ff" fill="#0058ff" d="M462.0 542.2L451.1 521.0M451.1 521.0L457.4 514.3M452.4 523.5L458.7 516.8M453.7 526.1L460.0 519.3"/>
<path stroke="#0030ff" fill="#0030ff" d="M486.5 542.2L465.7 539.3M465.7 539.3L463.8 530.3M468.5 539.7L466.6 530.7"/>
<path stroke="#0058ff" fill="#0058ff" d="M511.1 542.2L490.0 553.4M490.0 553.4L483.2 547.3M492.5 552.1L485.7 546.0M495.1 550.8L488.2 544.6"/>
<path stroke="#00ffd8" fill="#00ffd8" d="M535.6 542.2L509.1 555.2M509.1 555.2L502.5 548.8M511.6 554.0L505.0 547.6M514.2 552.7L507.6 546.3M516.8 551.5L510.1 545.1M519.3 550.2L516.0 547.0"/>
<path stroke="#00c0ff" fill="#00c0ff" d="M560.2 542.2L533.5 541.3M533.5 541.3L530.7 532.6M536.4 541.4L533.5 532.7M539.2 541.5L536.4 532.8M542.1 541.6L539.2 532.9"/>
<path stroke="#0090ff" fill="#0090ff" d="M584.8 542.2L558.4 538.1M558.4 538.1L556.6 529.0M561.2 538.5L559.4 529.5M564.0 539.0L562.3 529.9M566.8 539.4L566.0 534.9"/>
<path stroke="#00ff80" fill="#00ff80" d="M609.3 542.2L586.3 543.1M593.4 542.8L591.7 538.5M586.3 543.1L582.8 534.5L590.9 542.9Z"/>
<path stroke="#00c0ff" fill="#00c0ff" d="M633.9 542.2L609.1 532.2M609.1 532.2L609.4 523.1M611.8 533.3L612.1 524.1M614.4 534.4L614.7 525.2M617.1 535.5L617.4 526.3"/>
<path stroke="#0070ff" fill="#0070ff" d="M658.4 542.2L637.7 525.4M637.7 525.4L640.7 516.7M639.9 527.2L642.9 518.5M642.1 529.0L645.1 520.3M644.3 530.8L645.8 526.5"/>
<path stroke="#0090ff" fill="#0090ff" d="M683.0 542.2L672.6 517.7M672.6 517.7L679.3 511.4M673.7 520.3L680.4 514.0M674.8 522.9L681.5 516.6M675.9 525.5L679.3 522.4"/>
<path stroke="#0070ff" fill="#0070ff" d="M707.6 542.2L690.7 525.4M690.7 525.4L694.6 517.0M692.7 527.4L696.6 519.1M694.7 529.4L698.6 521.1"/>
<path stroke="#0070ff" fill="#0070ff" d="M732.1 542.2L715.9 524.8M715.9 524.8L720.0 516.6M717.8 526.9L722.0 518.7M719.7 529.0L723.9 520.8"/>
<path stroke="#0000ff" fill="#0000ff" d="M756.7 542.2L742.6 526.6M742.6 526.6L746.9 518.5M744.5 528.8L748.9 520.6"/>
<path stroke="#0000ff" fill="#0000ff" d="M781.2 542.2L761.1 548.0M761.1 548.0L755.6 540.6M763.8 547.3L758.4 539.8"/>
<path stroke="#0030ff" fill="#0030ff" d="M805.8 542.2L785.4 547.3M785.4 547.3L780.3 539.7M788.2 546.6L783.0 539.0"/>
<path stroke="#0070ff" fill="#0070ff" d="M830.4 542.2L808.9 552.7M808.9 552.7L802.3 546.3M811.5 551.5L804.9 545.1M814.0 550.2L807.4 543.8"/>
<path stroke="#00ffa0" fill="#00ffa0" d="M854.9 542.2L835.0 545.4M835.0 545.4L830.5 537.4L839.5 544.7Z"/>
<path stroke="#00ffd8" fill="#00ffd8" d="M879.5 542.2L849.9 542.8M849.9 542.8L846.6 534.2M852.8 542.7L849.5 534.1M855.6 542.7L852.3 534.1M858.5 542.6L855.2 534.0M861.3 542.6L859.7 538.3"/>
<path stroke="#00c0ff" fill="#00c0ff" d="M904.0 542.2L875.9 533.1M875.9 533.1L875.6 523.9M878.6 534.0L878.3 524.8M881.4 534.9L881.0 525.7M884.1 535.8L883.7 526.6M886.8 536.6L886.6 532.0"/>
<path stroke="#00c0ff" fill="#00c0ff" d="M928.6 542.2L908.1 525.1M908.1 525.1L911.3 516.4M910.3 526.9L913.5 518.3M912.5 528.8L915.7 520.1M914.7 530.6L917.8 521.9"/>
<path stroke="#0090ff" fill="#0090ff" d="M953.2 542.2L933.6 524.0M933.6 524.0L937.2 515.6M935.7 526.0L939.3 517.5M937.8 527.9L941.4 519.5M939.9 529.9L943.5 521.4"/>
<path stroke="#00c0ff" fill="#00c0ff" d="M93.6 568.0L67.7 574.5M67.7 574.5L62.5 566.8M70.4 573.8L65.3 566.1M73.2 573.1L68.0 565.5M75.9 572.4L70.8 564.8"/>
<path stroke="#00ffd8" fill="#00ffd8" d="M118.1 568.0L88.7 571.1M88.7 571.1L84.7 562.8M91.6 570.8L87.5 562.5M94.4 570.5L90.4 562.2M97.2 570.2L93.2 561.9M100.1 569.9L98.1 565.8"/>
<path stroke="#00ffd8" fill="#00ffd8" d="M142.7 568.0L113.9 561.4M113.9 561.4L112.8 552.2M116.7 562.0L115.5 552.9M119.4 562.6L118.3 553.5M122.2 563.3L121.1 554.1M125.0 563.9L124.4 559.4"/>
<path stroke="#0090ff" fill="#0090ff" d="M167.2 568.0L142.0 559.3M142.0 559.3L141.8 550.1M144.7 560.2L144.5 551.0M147.4 561.2L147.2 552.0M150.1 562.1L150.0 557.5"/>
<path stroke="#0070ff" fill="#0070ff" d="M191.8 568.0L168.9 554.2M168.9 554.2L170.7 545.2M171.4 555.7L173.1 546.7M173.8 557.2L175.6 548.2M176.2 558.7L177.1 554.1"/>
<path stroke="#0030ff" fill="#0030ff" d="M216.4 568.0L195.6 571.3M195.6 571.3L191.2 563.2M198.4 570.8L194.0 562.8"/>
<path stroke="#0070ff" fill="#0070ff" d="M240.9 568.0L219.6 584.1M219.6 584.1L211.9 579.1M221.9 582.4L214.2 577.3M224.1 580.6L216.4 575.6M226.4 578.9L222.6 576.4"/>
<path stroke="#00ff80" fill="#00ff80" d="M265.5 568.0L254.0 588.0M257.5 581.8L253.0 581.0M254.0 588.0L244.9 586.4L256.3 584.0Z"/>
<path stroke="#00ffd8" fill="#00ffd8" d="M290.0 568.0L266.8 586.2M266.8 586.2L259.0 581.3M269.0 584.4L261.2 579.6M271.2 582.7L263.4 577.8M273.5 580.9L265.7 576.1M275.7 579.2L271.8 576.7"/>
<path stroke="#00c0ff" fill="#00c0ff" d="M314.6 568.0L295.2 590.3M295.2 590.3L286.6 587.0M297.1 588.2L288.5 584.9M299.0 586.0L290.4 582.7M300.8 583.8L292.2 580.6M302.7 581.7L298.4 580.0"/>
<path stroke="#00ff80" fill="#00ff80" d="M339.2 568.0L328.7 588.5M331.9 582.2L327.4 581.7M328.7 588.5L319.6 587.4L330.8 584.4Z"/>
<path stroke="#00c0ff" fill="#00c0ff" d="M363.7 568.0L337.8 574.5M337.8 574.5L332.7 566.8M340.6 573.8L335.4 566.1M343.3 573.1L338.2 565.5M346.1 572.4L341.0 564.8"/>
<path stroke="#0070ff" fill="#0070ff" d="M388.3 568.0L365.2 581.4M365.2 581.4L358.1 575.4M367.6 579.9L360.6 574.0M370.1 578.5L363.0 572.6M372.6 577.1L369.0 574.1"/>
<path stroke="#0070ff" fill="#0070ff" d="M412.8 568.0L395.4 551.7M395.4 551.7L399.0 543.3M397.5 553.7L401.1 545.2M399.6 555.6L403.2 547.2"/>
<path stroke="#00ffd8" fill="#00ffd8" d="M437.4 568.0L429.5 549.4M429.5 549.4L436.2 543.1L431.3 553.6Z"/>
<path stroke="#0058ff" fill="#0058ff" d="M462.0 568.0L454.6 545.3M454.6 545.3L461.8 539.7M455.5 548.0L462.7 542.4M456.4 550.7L460.0 547.9"/>
<path stroke="#0000ff" fill="#0000ff" d="M486.5 568.0L465.7 565.1M465.7 565.1L463.8 556.1M468.5 565.5L467.6 561.0"/>
<path stroke="#0058ff" fill="#0058ff" d="M511.1 568.0L492.0 582.4M492.0 582.4L484.3 577.3M494.3 580.6L486.6 575.6M496.6 578.9L492.7 576.4"/>
<path stroke="#00c0ff" fill="#00c0ff" d="M535.6 568.0L510.6 583.7M510.6 583.7L503.3 578.0M513.0 582.1L505.7 576.5M515.4 580.6L508.2 575.0M517.8 579.1L510.6 573.5M520.2 577.6L516.6 574.8"/>
<path stroke="#00c0ff" fill="#00c0ff" d="M560.2 568.0L533.5 568.5M533.5 568.5L530.2 559.9M536.4 568.4L533.1 559.8M539.2 568.4L535.9 559.8M542.1 568.3L538.8 559.7"/>
<path stroke="#0058ff" fill="#0058ff" d="M584.8 568.0L562.0 561.0M562.0 561.0L561.5 551.8M564.7 561.9L564.2 552.7M567.4 562.7L567.2 558.1"/>
<path stroke="#00ffa0" fill="#00ffa0" d="M609.3 568.0L589.1 567.3M589.1 567.3L586.3 558.5L593.7 567.5Z"/>
<path stroke="#0090ff" fill="#0090ff" d="M633.9 568.0L611.0 554.2M611.0 554.2L612.7 545.2M613.4 555.7L615.2 546.7M615.9 557.2L617.6 548.2M618.3 558.7L619.2 554.1"/>
<path stroke="#0090ff" fill="#0090ff" d="M658.4 568.0L639.2 549.5M639.2 549.5L643.0 541.0M641.3 551.4L645.0 543.0M643.3 553.4L647.1 545.0M645.4 555.4L647.3 551.2"/>
<path stroke="#0070ff" fill="#0070ff" d="M683.0 568.0L673.4 543.1M673.4 543.1L680.4 537.0M674.5 545.7L681.4 539.7M675.5 548.4L682.4 542.4M676.5 551.1L680.0 548.0"/>
<path stroke="#0030ff" fill="#0030ff" d="M707.6 568.0L693.0 552.9M693.0 552.9L697.0 544.6M695.0 554.9L699.0 546.7"/>
<path stroke="#0058ff" fill="#0058ff" d="M732.1 568.0L715.9 550.6M715.9 550.6L720.0 542.4M717.8 552.6L722.0 544.4M719.7 554.7L721.8 550.6"/>
<path stroke="#0000ff" fill="#0000ff" d="M756.7 568.0L739.9 555.4M739.9 555.4L742.6 546.6M742.2 557.1L743.5 552.7"/>
<path stroke="#6800ff" fill="#6800ff" d="M781.2 568.0L764.8 575.7M764.8 575.7L758.3 569.2"/>
<path stroke="#0000ff" fill="#0000ff" d="M805.8 568.0L787.8 578.8M787.8 578.8L780.6 573.0M790.2 577.3L783.1 571.6"/>
<path stroke="#0030ff" fill="#0030ff" d="M830.4 568.0L809.5 579.6M809.5 579.6L802.6 573.5M812.0 578.2L805.0 572.1M814.5 576.8L811.0 573.8"/>
<path stroke="#00ffa0" fill="#00ffa0" d="M854.9 568.0L832.5 573.2M839.4 571.6L836.9 567.7M832.5 573.2L827.5 565.5L836.9 572.2Z"/>
<path stroke="#00ffa0" fill="#00ffa0" d="M879.5 568.0L859.3 567.6M859.3 567.6L856.3 558.9L863.9 567.7Z"/>
<path stroke="#0090ff" fill="#0090ff" d="M904.0 568.0L879.1 558.4M879.1 558.4L879.3 549.2M881.8 559.5L881.9 550.3M884.4 560.5L884.6 551.3M887.1 561.5L887.3 552.3"/>
<path stroke="#0090ff" fill="#0090ff" d="M928.6 568.0L908.4 550.5M908.4 550.5L911.7 541.9M910.6 552.4L913.9 543.8M912.8 554.2L916.0 545.6M914.9 556.1L916.6 551.8"/>
<path stroke="#0090ff" fill="#0090ff" d="M953.2 568.0L934.6 548.8M934.6 548.8L938.6 540.5M936.6 550.8L940.6 542.6M938.6 552.9L942.6 544.6M940.6 554.9L942.6 550.8"/>
<path stroke="#00ffd8" fill="#00ffd8" d="M93.6 592.5L65.3 601.1M65.3 601.1L59.8 593.8M68.0 600.3L62.5 593.0M70.8 599.5L65.2 592.1M73.5 598.6L67.9 591.3M76.2 597.8L73.4 594.1"/>
<path stroke="#00ffd8" fill="#00ffd8" d="M118.1 592.5L98.2 596.0M98.2 596.0L93.6 588.0L102.8 595.2Z"/>
<path stroke="#00c0ff" fill="#00c0ff" d="M142.7 592.5L118.7 580.8M118.7 580.8L119.6 571.6M121.2 582.0L122.2 572.9M123.8 583.3L124.8 574.1M126.4 584.5L127.3 575.4"/>
<path stroke="#0070ff" fill="#0070ff" d="M167.2 592.5L143.2 580.8M143.2 580.8L144.2 571.6M145.8 582.0L146.8 572.9M148.4 583.3L149.3 574.1M150.9 584.5L151.4 580.0"/>
<path stroke="#0058ff" fill="#0058ff" d="M191.8 592.5L171.1 580.6M171.1 580.6L172.7 571.5M173.6 582.0L175.2 572.9M176.1 583.4L177.7 574.4"/>
<path stroke="#0030ff" fill="#0030ff" d="M216.4 592.5L196.0 597.6M196.0 597.6L190.8 590.0M198.7 596.9L193.6 589.3"/>
<path stroke="#0070ff" fill="#0070ff" d="M240.9 592.5L226.2 611.3M226.2 611.3L217.5 608.5M228.0 609.0L219.2 606.2M229.7 606.8L221.0 604.0"/>
<path stroke="#00ff80" fill="#00ff80" d="M265.5 592.5L255.4 613.2M258.5 606.8L253.9 606.4M255.4 613.2L246.2 612.3L257.4 609.1Z"/>
<path stroke="#00ffd8" fill="#00ffd8" d="M290.0 592.5L267.4 611.5M267.4 611.5L259.4 606.9M269.6 609.7L261.6 605.1M271.8 607.8L263.8 603.2M274.0 606.0L266.0 601.4M276.1 604.2L272.2 601.9"/>
<path stroke="#00c0ff" fill="#00c0ff" d="M314.6 592.5L297.8 613.2M297.8 613.2L289.1 610.3M299.6 611.0L290.9 608.0M301.4 608.8L292.7 605.8M303.2 606.6L294.5 603.6"/>
<path stroke="#00ff40" fill="#00ff40" d="M339.2 592.5L329.4 613.4M332.4 607.0L323.3 606.2M329.4 613.4L320.3 612.6L331.4 609.2Z"/>
<path stroke="#0090ff" fill="#0090ff" d="M363.7 592.5L337.2 595.3M337.2 595.3L333.1 587.0M340.0 595.0L336.0 586.7M342.8 594.7L338.8 586.4M345.7 594.4L341.6 586.1"/>
<path stroke="#0090ff" fill="#0090ff" d="M388.3 592.5L363.0 601.2M363.0 601.2L357.2 594.0M365.7 600.3L359.9 593.1M368.4 599.3L362.6 592.2M371.1 598.4L365.3 591.3"/>
<path stroke="#0070ff" fill="#0070ff" d="M412.8 592.5L392.4 575.3M392.4 575.3L395.5 566.7M394.6 577.2L397.7 568.5M396.8 579.0L399.9 570.4M398.9 580.8L400.5 576.5"/>
<path stroke="#00c0ff" fill="#00c0ff" d="M437.4 592.5L420.6 571.8M420.6 571.8L425.3 563.9M422.4 574.0L427.1 566.1M424.2 576.2L428.9 568.3M426.0 578.4L430.7 570.5"/>
<path stroke="#0058ff" fill="#0058ff" d="M462.0 592.5L455.8 569.5M455.8 569.5L463.3 564.2M456.5 572.2L464.1 566.9M457.3 575.0L461.0 572.3"/>
<path stroke="#6800ff" fill="#6800ff" d="M486.5 592.5L468.7 596.0M468.7 596.0L464.0 588.1"/>
<path stroke="#0030ff" fill="#0030ff" d="M511.1 592.5L494.8 609.9M494.8 609.9L486.3 606.3M496.8 607.9L488.3 604.3M498.7 605.8L494.5 604.0"/>
<path stroke="#00c0ff" fill="#00c0ff" d="M535.6 592.5L514.4 613.0M514.4 613.0L506.1 609.0M516.4 611.0L508.2 607.0M518.5 609.1L510.2 605.0M520.5 607.1L512.3 603.1M522.6 605.1L518.4 603.1"/>
<path stroke="#00c0ff" fill="#00c0ff" d="M560.2 592.5L533.6 594.8M533.6 594.8L529.7 586.5M536.4 594.6L532.6 586.2M539.3 594.3L535.4 586.0M542.1 594.1L538.2 585.7"/>
<path stroke="#0058ff" fill="#0058ff" d="M584.8 592.5L562.5 584.0M562.5 584.0L562.7 574.8M565.2 585.0L565.3 575.8M567.8 586.0L567.9 581.4"/>
<path stroke="#0090ff" fill="#0090ff" d="M609.3 592.5L582.6 593.4M582.6 593.4L579.2 584.9M585.5 593.3L582.0 584.8M588.3 593.2L584.9 584.7M591.2 593.1L587.7 584.6"/>
<path stroke="#0090ff" fill="#0090ff" d="M633.9 592.5L611.5 578.0M611.5 578.0L613.6 569.0M613.9 579.5L615.9 570.5M616.3 581.1L618.3 572.1M618.7 582.6L619.7 578.1"/>
<path stroke="#00c0ff" fill="#00c0ff" d="M658.4 592.5L638.0 575.3M638.0 575.3L641.1 566.7M640.2 577.2L643.3 568.5M642.4 579.0L645.5 570.4M644.5 580.8L647.7 572.2"/>
<path stroke="#0070ff" fill="#0070ff" d="M683.0 592.5L671.7 568.3M671.7 568.3L678.2 561.8M672.9 570.9L679.4 564.4M674.1 573.5L680.6 567.0M675.3 576.1L678.6 572.8"/>
<path stroke="#0030ff" fill="#0030ff" d="M707.6 592.5L696.1 574.9M696.1 574.9L701.7 567.5M697.7 577.3L703.2 569.9"/>
<path stroke="#0030ff" fill="#0030ff" d="M732.1 592.5L717.5 577.4M717.5 577.4L721.6 569.1M719.5 579.4L723.5 571.2"/>
<path stroke="#6800ff" fill="#6800ff" d="M756.7 592.5L741.0 583.4M741.0 583.4L742.6 574.4"/>
<path stroke="#6800ff" fill="#6800ff" d="M781.2 592.5L765.7 601.8M765.7 601.8L758.5 596.1"/>
<path stroke="#0000ff" fill="#0000ff" d="M805.8 592.5L789.7 606.0M789.7 606.0L781.7 601.4M791.9 604.2L787.9 601.9"/>
<path stroke="#0030ff" fill="#0030ff" d="M830.4 592.5L809.7 604.4M809.7 604.4L802.7 598.5M812.2 603.0L805.1 597.1M814.6 601.6L811.1 598.6"/>
<path stroke="#00ffa0" fill="#00ffa0" d="M854.9 592.5L836.1 599.7M836.1 599.7L830.0 592.8L840.4 598.1Z"/>
<path stroke="#00ffd8" fill="#00ffd8" d="M879.5 592.5L850.2 588.4M850.2 588.4L848.3 579.4M853.0 588.8L851.1 579.8M855.9 589.2L853.9 580.2M858.7 589.6L856.8 580.6M861.5 590.0L860.6 585.5"/>
<path stroke="#0070ff" fill="#0070ff" d="M904.0 592.5L879.6 581.6M879.6 581.6L880.3 572.5M882.3 582.8L882.9 573.6M884.9 584.0L885.5 574.8M887.5 585.1L887.8 580.5"/>
<path stroke="#0090ff" fill="#0090ff" d="M928.6 592.5L910.4 573.0M910.4 573.0L914.6 564.8M912.3 575.1L916.5 566.9M914.3 577.1L918.5 568.9M916.2 579.2L918.3 575.1"/>
<path stroke="#0090ff" fill="#0090ff" d="M953.2 592.5L936.0 572.0M936.0 572.0L940.6 564.1M937.8 574.2L942.4 566.3M939.7 576.4L944.3 568.4M941.5 578.6L943.8 574.6"/>
<path stroke="#00ffd8" fill="#00ffd8" d="M93.6 615.5L75.4 624.4M75.4 624.4L68.8 618.0L79.5 622.3Z"/>
<path stroke="#00ffa0" fill="#00ffa0" d="M118.1 615.5L99.7 623.7M99.7 623.7L93.3 617.1L103.9 621.8Z"/>
<path stroke="#00c0ff" fill="#00c0ff" d="M142.7 615.5L116.9 608.6M116.9 608.6L116.1 599.4M119.6 609.3L118.8 600.2M122.4 610.1L121.6 600.9M125.1 610.8L124.3 601.6"/>
<path stroke="#0090ff" fill="#0090ff" d="M167.2 615.5L144.1 602.1M144.1 602.1L145.7 593.1M146.6 603.6L148.2 594.5M149.1 605.0L150.7 595.9M151.5 606.4L152.3 601.9"/>
<path stroke="#0000ff" fill="#0000ff" d="M191.8 615.5L173.6 605.0M173.6 605.0L175.2 595.9M176.1 606.4L176.9 601.9"/>
<path stroke="#0000ff" fill="#0000ff" d="M216.4 615.5L197.2 624.0M197.2 624.0L190.8 617.4M199.8 622.9L196.6 619.6"/>
<path stroke="#0070ff" fill="#0070ff" d="M240.9 615.5L231.2 637.3M231.2 637.3L222.0 636.6M232.4 634.7L223.2 634.0M233.5 632.1L224.4 631.4"/>
<path stroke="#00ff80" fill="#00ff80" d="M265.5 615.5L257.2 637.0M259.8 630.4L255.2 630.3M257.2 637.0L248.0 636.9L258.9 632.7Z"/>
<path stroke="#00ffd8" fill="#00ffd8" d="M290.0 615.5L277.3 631.2M277.3 631.2L268.6 628.2L280.2 627.6Z"/>
<path stroke="#00c0ff" fill="#00c0ff" d="M314.6 615.5L298.9 637.1M298.9 637.1L290.1 634.6M300.6 634.8L291.7 632.3M302.3 632.5L293.4 630.0M303.9 630.2L295.1 627.6"/>
<path stroke="#00ffd8" fill="#00ffd8" d="M339.2 615.5L336.3 635.5M336.3 635.5L327.3 637.4L337.0 630.9Z"/>
<path stroke="#0070ff" fill="#0070ff" d="M363.7 615.5L337.9 622.4M337.9 622.4L332.7 614.9M340.7 621.7L335.4 614.1M343.4 620.9L338.2 613.4M346.2 620.2L343.5 616.4"/>
<path stroke="#0070ff" fill="#0070ff" d="M388.3 615.5L364.7 611.8M364.7 611.8L363.0 602.7M367.5 612.2L365.8 603.2M370.4 612.7L368.6 603.6"/>
<path stroke="#0070ff" fill="#0070ff" d="M412.8 615.5L391.8 599.1M391.8 599.1L394.6 590.3M394.0 600.8L396.9 592.1M396.3 602.6L399.1 593.8M398.5 604.3L400.0 600.0"/>
<path stroke="#0090ff" fill="#0090ff" d="M437.4 615.5L419.5 595.7M419.5 595.7L423.9 587.5M421.4 597.8L425.8 589.7M423.3 599.9L427.7 591.8M425.3 602.0L427.4 598.0"/>
<path stroke="#0058ff" fill="#0058ff" d="M462.0 615.5L450.0 594.8M450.0 594.8L455.9 587.8M451.5 597.3L457.4 590.3M452.9 599.8L455.8 596.3"/>
<path stroke="#6800ff" fill="#6800ff" d="M486.5 615.5L469.6 622.0M472.2 621.0L469.2 617.5"/>
<path stroke="#0030ff" fill="#0030ff" d="M511.1 615.5L504.6 635.5M504.6 635.5L495.4 635.8M505.5 632.8L496.3 633.1"/>
<path stroke="#00c0ff" fill="#00c0ff" d="M535.6 615.5L523.2 642.3M523.2 642.3L514.0 641.5M524.4 639.7L515.2 638.9M525.6 637.1L516.4 636.3M526.8 634.5L517.6 633.7M528.0 631.9L523.4 631.5"/>
<path stroke="#0070ff" fill="#0070ff" d="M560.2 615.5L537.1 628.9M537.1 628.9L530.0 622.9M539.5 627.4L532.5 621.5M542.0 626.0L535.0 620.1M544.5 624.6L541.0 621.6"/>
<path stroke="#0070ff" fill="#0070ff" d="M584.8 615.5L561.6 609.7M561.6 609.7L560.7 600.6M564.4 610.4L563.4 601.3M567.1 611.1L566.2 602.0"/>
<path stroke="#0090ff" fill="#0090ff" d="M609.3 615.5L582.6 616.4M582.6 616.4L579.2 607.9M585.5 616.3L582.0 607.8M588.3 616.2L584.9 607.7M591.2 616.1L587.7 607.6"/>
<path stroke="#0090ff" fill="#0090ff" d="M633.9 615.5L609.5 604.6M609.5 604.6L610.1 595.5M612.1 605.8L612.7 596.6M614.7 607.0L615.3 597.8M617.3 608.1L617.6 603.5"/>
<path stroke="#0090ff" fill="#0090ff" d="M658.4 615.5L634.7 603.4M634.7 603.4L635.8 594.2M637.2 604.7L638.3 595.5M639.7 606.0L640.9 596.8M642.3 607.3L642.8 602.7"/>
<path stroke="#0070ff" fill="#0070ff" d="M683.0 615.5L671.8 594.4M671.8 594.4L678.0 587.6M673.1 597.0L679.3 590.1M674.5 599.5L680.6 592.6"/>
<path stroke="#0000ff" fill="#0000ff" d="M707.6 615.5L697.7 597.0M697.7 597.0L703.9 590.1M699.0 599.5L702.1 596.1"/>
<path stroke="#0000ff" fill="#0000ff" d="M732.1 615.5L717.0 600.9M717.0 600.9L720.8 592.5M719.1 602.9L720.9 598.7"/>
<path stroke="#5000ff" fill="#5000ff" d="M756.7 615.5L739.5 603.5M739.5 603.5L741.9 594.6M741.8 605.1L743.0 600.6"/>
<path stroke="#6800ff" fill="#6800ff" d="M781.2 615.5L769.1 629.0M769.1 629.0L760.6 625.5"/>
<path stroke="#0000ff" fill="#0000ff" d="M805.8 615.5L795.0 633.5M795.0 633.5L786.0 631.7M796.5 631.1L787.4 629.3"/>
<path stroke="#0070ff" fill="#0070ff" d="M830.4 615.5L812.2 635.0M812.2 635.0L803.7 631.4M814.1 632.9L805.6 629.3M816.0 630.9L807.6 627.3M818.0 628.8L813.7 627.0"/>
<path stroke="#00ffa0" fill="#00ffa0" d="M854.9 615.5L836.9 624.7M836.9 624.7L830.2 618.4L841.0 622.6Z"/>
<path stroke="#00c0ff" fill="#00c0ff" d="M879.5 615.5L850.0 617.6M850.0 617.6L846.3 609.2M852.8 617.4L849.1 609.0M855.7 617.2L851.9 608.8M858.5 617.0L854.8 608.6M861.4 616.8L859.5 612.6"/>
<path stroke="#0058ff" fill="#0058ff" d="M904.0 615.5L882.3 605.8M882.3 605.8L882.9 596.6M884.9 607.0L885.5 597.8M887.5 608.1L888.1 598.9"/>
<path stroke="#0090ff" fill="#0090ff" d="M928.6 615.5L908.8 597.6M908.8 597.6L912.2 589.1M910.9 599.5L914.3 591.0M913.0 601.4L916.4 592.9M915.1 603.4L916.8 599.1"/>
<path stroke="#0090ff" fill="#0090ff" d="M953.2 615.5L939.4 592.6M939.4 592.6L945.2 585.5M940.9 595.1L946.7 587.9M942.3 597.5L948.1 590.3M943.8 599.9L946.7 596.4"/>
<path stroke="#0070ff" fill="#0070ff" d="M93.6 637.5L80.9 657.7M80.9 657.7L71.9 655.8M82.4 655.3L73.4 653.4M83.9 652.9L74.9 651.0"/>
<path stroke="#0070ff" fill="#0070ff" d="M118.1 637.5L99.8 652.8M99.8 652.8L91.9 648.2M102.0 651.0L94.1 646.4M104.2 649.2L96.2 644.6"/>
<path stroke="#0070ff" fill="#0070ff" d="M142.7 637.5L118.8 637.5M118.8 637.5L115.7 628.9M121.7 637.5L118.5 628.9M124.5 637.5L121.4 628.9"/>
<path stroke="#0058ff" fill="#0058ff" d="M167.2 637.5L145.6 627.4M145.6 627.4L146.4 618.3M148.2 628.6L149.0 619.5M150.8 629.8L151.2 625.2"/>
<path stroke="#0000ff" fill="#0000ff" d="M191.8 637.5L173.4 627.3M173.4 627.3L174.9 618.2M175.9 628.7L176.6 624.2"/>
<path stroke="#6800ff" fill="#6800ff" d="M216.4 637.5L209.3 654.2M209.3 654.2L200.1 653.7"/>
<path stroke="#0058ff" fill="#0058ff" d="M240.9 637.5L240.1 661.3M240.1 661.3L231.3 664.2M240.2 658.5L231.4 661.3M240.3 655.6L231.5 658.5"/>
<path stroke="#0058ff" fill="#0058ff" d="M265.5 637.5L265.5 661.4M265.5 661.4L256.8 664.5M265.5 658.5L256.8 661.6M265.5 655.6L261.2 657.2"/>
<path stroke="#0058ff" fill="#0058ff" d="M290.0 637.5L288.0 661.3M288.0 661.3L279.1 663.6M288.2 658.4L279.3 660.8M288.5 655.6L279.6 658.0"/>
<path stroke="#0030ff" fill="#0030ff" d="M314.6 637.5L312.9 661.3M312.9 661.3L304.1 663.8M313.1 658.4L304.3 661.0M313.3 655.6L308.9 656.9"/>
<path stroke="#0070ff" fill="#0070ff" d="M339.2 637.5L338.7 661.3M338.7 661.3L330.0 664.3M338.8 658.5L330.1 661.5M338.8 655.6L330.1 658.6"/>
<path stroke="#0030ff" fill="#0030ff" d="M363.7 637.5L341.6 646.4M341.6 646.4L335.5 639.6M344.2 645.4L338.1 638.5M346.9 644.3L343.8 640.9"/>
<path stroke="#0030ff" fill="#0030ff" d="M388.3 637.5L367.7 633.1M367.7 633.1L366.5 624.0M370.5 633.7L369.2 624.6"/>
<path stroke="#0058ff" fill="#0058ff" d="M412.8 637.5L393.1 624.2M393.1 624.2L395.3 615.2M395.4 625.8L397.7 616.8M397.8 627.4L400.0 618.4"/>
<path stroke="#0070ff" fill="#0070ff" d="M437.4 637.5L421.1 620.1M421.1 620.1L425.3 611.9M423.1 622.1L427.3 613.9M425.0 624.2L429.2 616.0"/>
<path stroke="#0030ff" fill="#0030ff" d="M462.0 637.5L449.9 620.3M449.9 620.3L455.2 612.8M451.5 622.6L456.8 615.1"/>
<path stroke="#6800ff" fill="#6800ff" d="M486.5 637.5L469.8 644.6M472.4 643.5L469.3 640.1"/>
<path stroke="#0030ff" fill="#0030ff" d="M511.1 637.5L510.7 658.5M510.7 658.5L502.0 661.5M510.8 655.6L502.1 658.6"/>
<path stroke="#0030ff" fill="#0030ff" d="M535.6 637.5L534.5 658.5M534.5 658.5L525.7 661.2M534.7 655.6L525.9 658.3"/>
<path stroke="#0000ff" fill="#0000ff" d="M560.2 637.5L551.7 656.7M551.7 656.7L542.5 656.0M552.8 654.1L543.6 653.4"/>
<path stroke="#0030ff" fill="#0030ff" d="M584.8 637.5L564.0 634.6M564.0 634.6L562.1 625.6M566.8 635.0L564.9 626.0"/>
<path stroke="#0070ff" fill="#0070ff" d="M609.3 637.5L582.6 638.4M582.6 638.4L579.2 629.9M585.5 638.3L582.0 629.8M588.3 638.2L584.9 629.7M591.2 638.1L589.5 633.9"/>
<path stroke="#0070ff" fill="#0070ff" d="M633.9 637.5L611.5 629.3M611.5 629.3L611.5 620.1M614.1 630.3L614.1 621.1M616.8 631.3L616.8 622.1"/>
<path stroke="#0070ff" fill="#0070ff" d="M658.4 637.5L636.0 629.3M636.0 629.3L636.0 620.1M638.7 630.3L638.7 621.1M641.4 631.3L641.4 622.1"/>
<path stroke="#0058ff" fill="#0058ff" d="M683.0 637.5L669.7 617.7M669.7 617.7L675.1 610.3M671.3 620.1L676.7 612.6M672.9 622.5L675.6 618.7"/>
<path stroke="#0000ff" fill="#0000ff" d="M707.6 637.5L698.7 618.5M698.7 618.5L705.2 612.0M699.9 621.1L703.1 617.8"/>
<path stroke="#6800ff" fill="#6800ff" d="M732.1 637.5L722.2 622.3M722.2 622.3L727.8 614.9"/>
<path stroke="#6800ff" fill="#6800ff" d="M756.7 637.5L742.8 625.8M742.8 625.8L745.9 617.2"/>
<path stroke="#6800ff" fill="#6800ff" d="M781.2 637.5L776.5 655.0M776.5 655.0L767.4 655.8"/>
<path stroke="#0000ff" fill="#0000ff" d="M805.8 637.5L799.7 657.6M799.7 657.6L790.5 658.1M800.5 654.9L791.3 655.3"/>
<path stroke="#0090ff" fill="#0090ff" d="M830.4 637.5L819.9 662.1M819.9 662.1L810.7 661.6M821.0 659.5L811.9 659.0M822.2 656.8L813.0 656.3M823.3 654.2L818.7 654.0"/>
<path stroke="#0070ff" fill="#0070ff" d="M854.9 637.5L844.5 658.9M844.5 658.9L835.3 658.0M845.7 656.4L836.6 655.4M847.0 653.8L837.8 652.9"/>
<path stroke="#0058ff" fill="#0058ff" d="M879.5 637.5L859.0 649.8M859.0 649.8L851.9 644.0M861.5 648.3L854.3 642.5M863.9 646.8L860.3 644.0"/>
<path stroke="#0000ff" fill="#0000ff" d="M904.0 637.5L884.4 630.0M884.4 630.0L884.6 620.8M887.1 631.0L887.2 626.4"/>
<path stroke="#0058ff" fill="#0058ff" d="M928.6 637.5L910.6 621.9M910.6 621.9L913.9 613.3M912.8 623.7L916.0 615.1M914.9 625.6L916.6 621.3"/>
<path stroke="#0058ff" fill="#0058ff" d="M953.2 637.5L937.5 619.5M937.5 619.5L942.0 611.5M939.4 621.7L943.8 613.6M941.3 623.8L943.5 619.8"/>
<path stroke="#6800ff" fill="#6800ff" d="M707.6 658.2L696.4 643.9M698.1 646.1L700.6 642.2"/>
<path stroke="#6800ff" fill="#6800ff" d="M732.1 658.2L714.6 653.5M717.3 654.2L716.9 649.7"/>
<path stroke="#6800ff" fill="#6800ff" d="M756.7 658.2L744.8 671.9M746.6 669.7L742.3 668.1"/>
<path stroke="#6800ff" fill="#6800ff" d="M781.2 658.2L785.9 675.7M785.2 673.0L781.4 675.6"/>
<path stroke="#6800ff" fill="#6800ff" d="M805.8 658.2L805.8 676.4M805.8 676.4L797.2 679.5"/>
<path stroke="#5000ff" fill="#5000ff" d="M830.4 658.2L828.1 676.2M828.1 676.2L819.2 678.3"/>
</g>
<rect x="70.0" y="45.0" width="884.0" height="632.5" fill="none" stroke="#000" stroke-width="1.9"/>
<path d="M60.5 45.40L70 45.40M60.5 130.43L70 130.43M60.5 199.91L70 199.91M60.5 258.65L70 258.65M60.5 309.53L70 309.53M60.5 354.41L70 354.41M60.5 394.56L70 394.56M60.5 430.88L70 430.88M60.5 464.04L70 464.04M60.5 494.54L70 494.54M60.5 522.78L70 522.78M60.5 549.07L70 549.07M60.5 573.66L70 573.66M60.5 596.76L70 596.76M60.5 618.54L70 618.54M60.5 639.15L70 639.15M60.5 658.69L70 658.69M99.00 677.5L99.00 683M216.93 677.5L216.93 683M334.86 677.5L334.86 683M452.79 677.5L452.79 683M570.72 677.5L570.72 683M688.65 677.5L688.65 683M806.58 677.5L806.58 683M924.51 677.5L924.51 683" stroke="#000" stroke-width="1" fill="none"/>
<path d="M21.54 42.16 L21.54 41.57 L22.22 40.39 L22.91 39.80 L24.28 39.21 L27.02 39.21 L28.39 39.80 L29.07 40.39 L29.76 41.57 L29.76 42.75 L29.07 43.93 L27.70 45.70 L20.85 51.60 L30.45 51.60 M38.66 39.21 L36.61 39.80 L35.24 41.57 L34.55 44.52 L34.55 46.29 L35.24 49.24 L36.61 51.01 L38.66 51.60 L40.03 51.60 L42.09 51.01 L43.46 49.24 L44.15 46.29 L44.15 44.52 L43.46 41.57 L42.09 39.80 L40.03 39.21 L38.66 39.21 M52.37 39.21 L50.31 39.80 L48.94 41.57 L48.26 44.52 L48.26 46.29 L48.94 49.24 L50.31 51.01 L52.37 51.60 L53.73 51.60 L55.79 51.01 L57.16 49.24 L57.85 46.29 L57.85 44.52 L57.16 41.57 L55.79 39.80 L53.73 39.21 L52.37 39.21 M21.54 127.19 L21.54 126.60 L22.22 125.42 L22.91 124.83 L24.28 124.24 L27.02 124.24 L28.39 124.83 L29.07 125.42 L29.76 126.60 L29.76 127.78 L29.07 128.96 L27.70 130.73 L20.85 136.63 L30.45 136.63 M42.77 124.24 L35.92 124.24 L35.24 129.55 L35.92 128.96 L37.98 128.37 L40.03 128.37 L42.09 128.96 L43.46 130.14 L44.15 131.91 L44.15 133.09 L43.46 134.86 L42.09 136.04 L40.03 136.63 L37.98 136.63 L35.92 136.04 L35.24 135.45 L34.55 134.27 M52.37 124.24 L50.31 124.83 L48.94 126.60 L48.26 129.55 L48.26 131.32 L48.94 134.27 L50.31 136.04 L52.37 136.63 L53.73 136.63 L55.79 136.04 L57.16 134.27 L57.85 131.32 L57.85 129.55 L57.16 126.60 L55.79 124.83 L53.73 124.24 L52.37 124.24 M22.22 193.72 L29.76 193.72 L25.65 198.44 L27.70 198.44 L29.07 199.03 L29.76 199.62 L30.45 201.39 L30.45 202.57 L29.76 204.34 L28.39 205.52 L26.33 206.11 L24.28 206.11 L22.22 205.52 L21.54 204.93 L20.85 203.75 M38.66 193.72 L36.61 194.31 L35.24 196.08 L34.55 199.03 L34.55 200.80 L35.24 203.75 L36.61 205.52 L38.66 206.11 L40.03 206.11 L42.09 205.52 L43.46 203.75 L44.15 200.80 L44.15 199.03 L43.46 196.08 L42.09 194.31 L40.03 193.72 L38.66 193.72 M52.37 193.72 L50.31 194.31 L48.94 196.08 L48.26 199.03 L48.26 200.80 L48.94 203.75 L50.31 205.52 L52.37 206.11 L53.73 206.11 L55.79 205.52 L57.16 203.75 L57.85 200.80 L57.85 199.03 L57.16 196.08 L55.79 194.31 L53.73 193.72 L52.37 193.72 M22.22 252.46 L29.76 252.46 L25.65 257.18 L27.70 257.18 L29.07 257.77 L29.76 258.36 L30.45 260.13 L30.45 261.31 L29.76 263.08 L28.39 264.26 L26.33 264.85 L24.28 264.85 L22.22 264.26 L21.54 263.67 L20.85 262.49 M42.77 252.46 L35.92 252.46 L35.24 257.77 L35.92 257.18 L37.98 256.59 L40.03 256.59 L42.09 257.18 L43.46 258.36 L44.15 260.13 L44.15 261.31 L43.46 263.08 L42.09 264.26 L40.03 264.85 L37.98 264.85 L35.92 264.26 L35.24 263.67 L34.55 262.49 M52.37 252.46 L50.31 253.05 L48.94 254.82 L48.26 257.77 L48.26 259.54 L48.94 262.49 L50.31 264.26 L52.37 264.85 L53.73 264.85 L55.79 264.26 L57.16 262.49 L57.85 259.54 L57.85 257.77 L57.16 254.82 L55.79 253.05 L53.73 252.46 L52.37 252.46 M27.70 303.34 L20.85 311.60 L31.13 311.60 M27.70 303.34 L27.70 315.73 M38.66 303.34 L36.61 303.93 L35.24 305.70 L34.55 308.65 L34.55 310.42 L35.24 313.37 L36.61 315.14 L38.66 315.73 L40.03 315.73 L42.09 315.14 L43.46 313.37 L44.15 310.42 L44.15 308.65 L43.46 305.70 L42.09 303.93 L40.03 303.34 L38.66 303.34 M52.37 303.34 L50.31 303.93 L48.94 305.70 L48.26 308.65 L48.26 310.42 L48.94 313.37 L50.31 315.14 L52.37 315.73 L53.73 315.73 L55.79 315.14 L57.16 313.37 L57.85 310.42 L57.85 308.65 L57.16 305.70 L55.79 303.93 L53.73 303.34 L52.37 303.34 M27.70 348.22 L20.85 356.48 L31.13 356.48 M27.70 348.22 L27.70 360.61 M42.77 348.22 L35.92 348.22 L35.24 353.53 L35.92 352.94 L37.98 352.35 L40.03 352.35 L42.09 352.94 L43.46 354.12 L44.15 355.89 L44.15 357.07 L43.46 358.84 L42.09 360.02 L40.03 360.61 L37.98 360.61 L35.92 360.02 L35.24 359.43 L34.55 358.25 M52.37 348.22 L50.31 348.81 L48.94 350.58 L48.26 353.53 L48.26 355.30 L48.94 358.25 L50.31 360.02 L52.37 360.61 L53.73 360.61 L55.79 360.02 L57.16 358.25 L57.85 355.30 L57.85 353.53 L57.16 350.58 L55.79 348.81 L53.73 348.22 L52.37 348.22 M29.07 388.37 L22.22 388.37 L21.54 393.68 L22.22 393.09 L24.28 392.50 L26.33 392.50 L28.39 393.09 L29.76 394.27 L30.45 396.04 L30.45 397.22 L29.76 398.99 L28.39 400.17 L26.33 400.76 L24.28 400.76 L22.22 400.17 L21.54 399.58 L20.85 398.40 M38.66 388.37 L36.61 388.96 L35.24 390.73 L34.55 393.68 L34.55 395.45 L35.24 398.40 L36.61 400.17 L38.66 400.76 L40.03 400.76 L42.09 400.17 L43.46 398.40 L44.15 395.45 L44.15 393.68 L43.46 390.73 L42.09 388.96 L40.03 388.37 L38.66 388.37 M52.37 388.37 L50.31 388.96 L48.94 390.73 L48.26 393.68 L48.26 395.45 L48.94 398.40 L50.31 400.17 L52.37 400.76 L53.73 400.76 L55.79 400.17 L57.16 398.40 L57.85 395.45 L57.85 393.68 L57.16 390.73 L55.79 388.96 L53.73 388.37 L52.37 388.37 M29.07 424.69 L22.22 424.69 L21.54 430.00 L22.22 429.41 L24.28 428.82 L26.33 428.82 L28.39 429.41 L29.76 430.59 L30.45 432.36 L30.45 433.54 L29.76 435.31 L28.39 436.49 L26.33 437.08 L24.28 437.08 L22.22 436.49 L21.54 435.90 L20.85 434.72 M42.77 424.69 L35.92 424.69 L35.24 430.00 L35.92 429.41 L37.98 428.82 L40.03 428.82 L42.09 429.41 L43.46 430.59 L44.15 432.36 L44.15 433.54 L43.46 435.31 L42.09 436.49 L40.03 437.08 L37.98 437.08 L35.92 436.49 L35.24 435.90 L34.55 434.72 M52.37 424.69 L50.31 425.28 L48.94 427.05 L48.26 430.00 L48.26 431.77 L48.94 434.72 L50.31 436.49 L52.37 437.08 L53.73 437.08 L55.79 436.49 L57.16 434.72 L57.85 431.77 L57.85 430.00 L57.16 427.05 L55.79 425.28 L53.73 424.69 L52.37 424.69 M29.76 459.62 L29.07 458.44 L27.02 457.85 L25.65 457.85 L23.59 458.44 L22.22 460.21 L21.54 463.16 L21.54 466.11 L22.22 468.47 L23.59 469.65 L25.65 470.24 L26.33 470.24 L28.39 469.65 L29.76 468.47 L30.45 466.70 L30.45 466.11 L29.76 464.34 L28.39 463.16 L26.33 462.57 L25.65 462.57 L23.59 463.16 L22.22 464.34 L21.54 466.11 M38.66 457.85 L36.61 458.44 L35.24 460.21 L34.55 463.16 L34.55 464.93 L35.24 467.88 L36.61 469.65 L38.66 470.24 L40.03 470.24 L42.09 469.65 L43.46 467.88 L44.15 464.93 L44.15 463.16 L43.46 460.21 L42.09 458.44 L40.03 457.85 L38.66 457.85 M52.37 457.85 L50.31 458.44 L48.94 460.21 L48.26 463.16 L48.26 464.93 L48.94 467.88 L50.31 469.65 L52.37 470.24 L53.73 470.24 L55.79 469.65 L57.16 467.88 L57.85 464.93 L57.85 463.16 L57.16 460.21 L55.79 458.44 L53.73 457.85 L52.37 457.85 M29.76 490.12 L29.07 488.94 L27.02 488.35 L25.65 488.35 L23.59 488.94 L22.22 490.71 L21.54 493.66 L21.54 496.61 L22.22 498.97 L23.59 500.15 L25.65 500.74 L26.33 500.74 L28.39 500.15 L29.76 498.97 L30.45 497.20 L30.45 496.61 L29.76 494.84 L28.39 493.66 L26.33 493.07 L25.65 493.07 L23.59 493.66 L22.22 494.84 L21.54 496.61 M42.77 488.35 L35.92 488.35 L35.24 493.66 L35.92 493.07 L37.98 492.48 L40.03 492.48 L42.09 493.07 L43.46 494.25 L44.15 496.02 L44.15 497.20 L43.46 498.97 L42.09 500.15 L40.03 500.74 L37.98 500.74 L35.92 500.15 L35.24 499.56 L34.55 498.38 M52.37 488.35 L50.31 488.94 L48.94 490.71 L48.26 493.66 L48.26 495.43 L48.94 498.38 L50.31 500.15 L52.37 500.74 L53.73 500.74 L55.79 500.15 L57.16 498.38 L57.85 495.43 L57.85 493.66 L57.16 490.71 L55.79 488.94 L53.73 488.35 L52.37 488.35 M30.45 516.59 L23.59 528.98 M20.85 516.59 L30.45 516.59 M38.66 516.59 L36.61 517.18 L35.24 518.95 L34.55 521.90 L34.55 523.67 L35.24 526.62 L36.61 528.39 L38.66 528.98 L40.03 528.98 L42.09 528.39 L43.46 526.62 L44.15 523.67 L44.15 521.90 L43.46 518.95 L42.09 517.18 L40.03 516.59 L38.66 516.59 M52.37 516.59 L50.31 517.18 L48.94 518.95 L48.26 521.90 L48.26 523.67 L48.94 526.62 L50.31 528.39 L52.37 528.98 L53.73 528.98 L55.79 528.39 L57.16 526.62 L57.85 523.67 L57.85 521.90 L57.16 518.95 L55.79 517.18 L53.73 516.59 L52.37 516.59 M30.45 542.88 L23.59 555.27 M20.85 542.88 L30.45 542.88 M42.77 542.88 L35.92 542.88 L35.24 548.19 L35.92 547.60 L37.98 547.01 L40.03 547.01 L42.09 547.60 L43.46 548.78 L44.15 550.55 L44.15 551.73 L43.46 553.50 L42.09 554.68 L40.03 555.27 L37.98 555.27 L35.92 554.68 L35.24 554.09 L34.55 552.91 M52.37 542.88 L50.31 543.47 L48.94 545.24 L48.26 548.19 L48.26 549.96 L48.94 552.91 L50.31 554.68 L52.37 555.27 L53.73 555.27 L55.79 554.68 L57.16 552.91 L57.85 549.96 L57.85 548.19 L57.16 545.24 L55.79 543.47 L53.73 542.88 L52.37 542.88 M24.28 567.47 L22.22 568.06 L21.54 569.24 L21.54 570.42 L22.22 571.60 L23.59 572.19 L26.33 572.78 L28.39 573.37 L29.76 574.55 L30.45 575.73 L30.45 577.50 L29.76 578.68 L29.07 579.27 L27.02 579.86 L24.28 579.86 L22.22 579.27 L21.54 578.68 L20.85 577.50 L20.85 575.73 L21.54 574.55 L22.91 573.37 L24.96 572.78 L27.70 572.19 L29.07 571.60 L29.76 570.42 L29.76 569.24 L29.07 568.06 L27.02 567.47 L24.28 567.47 M38.66 567.47 L36.61 568.06 L35.24 569.83 L34.55 572.78 L34.55 574.55 L35.24 577.50 L36.61 579.27 L38.66 579.86 L40.03 579.86 L42.09 579.27 L43.46 577.50 L44.15 574.55 L44.15 572.78 L43.46 569.83 L42.09 568.06 L40.03 567.47 L38.66 567.47 M52.37 567.47 L50.31 568.06 L48.94 569.83 L48.26 572.78 L48.26 574.55 L48.94 577.50 L50.31 579.27 L52.37 579.86 L53.73 579.86 L55.79 579.27 L57.16 577.50 L57.85 574.55 L57.85 572.78 L57.16 569.83 L55.79 568.06 L53.73 567.47 L52.37 567.47 M24.28 590.57 L22.22 591.16 L21.54 592.34 L21.54 593.52 L22.22 594.70 L23.59 595.29 L26.33 595.88 L28.39 596.47 L29.76 597.65 L30.45 598.83 L30.45 600.60 L29.76 601.78 L29.07 602.37 L27.02 602.96 L24.28 602.96 L22.22 602.37 L21.54 601.78 L20.85 600.60 L20.85 598.83 L21.54 597.65 L22.91 596.47 L24.96 595.88 L27.70 595.29 L29.07 594.70 L29.76 593.52 L29.76 592.34 L29.07 591.16 L27.02 590.57 L24.28 590.57 M42.77 590.57 L35.92 590.57 L35.24 595.88 L35.92 595.29 L37.98 594.70 L40.03 594.70 L42.09 595.29 L43.46 596.47 L44.15 598.24 L44.15 599.42 L43.46 601.19 L42.09 602.37 L40.03 602.96 L37.98 602.96 L35.92 602.37 L35.24 601.78 L34.55 600.60 M52.37 590.57 L50.31 591.16 L48.94 592.93 L48.26 595.88 L48.26 597.65 L48.94 600.60 L50.31 602.37 L52.37 602.96 L53.73 602.96 L55.79 602.37 L57.16 600.60 L57.85 597.65 L57.85 595.88 L57.16 592.93 L55.79 591.16 L53.73 590.57 L52.37 590.57 M29.76 616.48 L29.07 618.25 L27.70 619.43 L25.65 620.02 L24.96 620.02 L22.91 619.43 L21.54 618.25 L20.85 616.48 L20.85 615.89 L21.54 614.12 L22.91 612.94 L24.96 612.35 L25.65 612.35 L27.70 612.94 L29.07 614.12 L29.76 616.48 L29.76 619.43 L29.07 622.38 L27.70 624.15 L25.65 624.74 L24.28 624.74 L22.22 624.15 L21.54 622.97 M38.66 612.35 L36.61 612.94 L35.24 614.71 L34.55 617.66 L34.55 619.43 L35.24 622.38 L36.61 624.15 L38.66 624.74 L40.03 624.74 L42.09 624.15 L43.46 622.38 L44.15 619.43 L44.15 617.66 L43.46 614.71 L42.09 612.94 L40.03 612.35 L38.66 612.35 M52.37 612.35 L50.31 612.94 L48.94 614.71 L48.26 617.66 L48.26 619.43 L48.94 622.38 L50.31 624.15 L52.37 624.74 L53.73 624.74 L55.79 624.15 L57.16 622.38 L57.85 619.43 L57.85 617.66 L57.16 614.71 L55.79 612.94 L53.73 612.35 L52.37 612.35 M29.76 637.09 L29.07 638.86 L27.70 640.04 L25.65 640.63 L24.96 640.63 L22.91 640.04 L21.54 638.86 L20.85 637.09 L20.85 636.50 L21.54 634.73 L22.91 633.55 L24.96 632.96 L25.65 632.96 L27.70 633.55 L29.07 634.73 L29.76 637.09 L29.76 640.04 L29.07 642.99 L27.70 644.76 L25.65 645.35 L24.28 645.35 L22.22 644.76 L21.54 643.58 M42.77 632.96 L35.92 632.96 L35.24 638.27 L35.92 637.68 L37.98 637.09 L40.03 637.09 L42.09 637.68 L43.46 638.86 L44.15 640.63 L44.15 641.81 L43.46 643.58 L42.09 644.76 L40.03 645.35 L37.98 645.35 L35.92 644.76 L35.24 644.17 L34.55 642.99 M52.37 632.96 L50.31 633.55 L48.94 635.32 L48.26 638.27 L48.26 640.04 L48.94 642.99 L50.31 644.76 L52.37 645.35 L53.73 645.35 L55.79 644.76 L57.16 642.99 L57.85 640.04 L57.85 638.27 L57.16 635.32 L55.79 633.55 L53.73 632.96 L52.37 632.96 M9.21 654.86 L10.58 654.27 L12.63 652.50 L12.63 664.89 M24.96 652.50 L22.91 653.09 L21.54 654.86 L20.85 657.81 L20.85 659.58 L21.54 662.53 L22.91 664.30 L24.96 664.89 L26.33 664.89 L28.39 664.30 L29.76 662.53 L30.45 659.58 L30.45 657.81 L29.76 654.86 L28.39 653.09 L26.33 652.50 L24.96 652.50 M38.66 652.50 L36.61 653.09 L35.24 654.86 L34.55 657.81 L34.55 659.58 L35.24 662.53 L36.61 664.30 L38.66 664.89 L40.03 664.89 L42.09 664.30 L43.46 662.53 L44.15 659.58 L44.15 657.81 L43.46 654.86 L42.09 653.09 L40.03 652.50 L38.66 652.50 M52.37 652.50 L50.31 653.09 L48.94 654.86 L48.26 657.81 L48.26 659.58 L48.94 662.53 L50.31 664.30 L52.37 664.89 L53.73 664.89 L55.79 664.30 L57.16 662.53 L57.85 659.58 L57.85 657.81 L57.16 654.86 L55.79 653.09 L53.73 652.50 L52.37 652.50 M74.30 690.27 L75.41 689.68 L77.08 687.91 L77.08 700.30 M91.51 687.91 L85.96 700.30 M83.74 687.91 L91.51 687.91 M95.39 687.91 L95.39 700.30 M95.39 687.91 L99.28 687.91 L100.94 688.50 L102.05 689.68 L102.61 690.86 L103.16 692.63 L103.16 695.58 L102.61 697.35 L102.05 698.53 L100.94 699.71 L99.28 700.30 L95.39 700.30 M107.05 687.91 L107.05 700.30 M107.05 687.91 L114.26 687.91 M107.05 693.81 L111.49 693.81 M107.05 700.30 L114.26 700.30 M125.36 690.86 L124.81 689.68 L123.70 688.50 L122.59 687.91 L120.37 687.91 L119.26 688.50 L118.15 689.68 L117.59 690.86 L117.04 692.63 L117.04 695.58 L117.59 697.35 L118.15 698.53 L119.26 699.71 L120.37 700.30 L122.59 700.30 L123.70 699.71 L124.81 698.53 L125.36 697.35 M192.23 690.27 L193.34 689.68 L195.01 687.91 L195.01 700.30 M204.44 687.91 L202.78 688.50 L202.22 689.68 L202.22 690.86 L202.78 692.04 L203.89 692.63 L206.11 693.22 L207.77 693.81 L208.88 694.99 L209.44 696.17 L209.44 697.94 L208.88 699.12 L208.33 699.71 L206.66 700.30 L204.44 700.30 L202.78 699.71 L202.22 699.12 L201.67 697.94 L201.67 696.17 L202.22 694.99 L203.33 693.81 L205.00 693.22 L207.22 692.63 L208.33 692.04 L208.88 690.86 L208.88 689.68 L208.33 688.50 L206.66 687.91 L204.44 687.91 M213.32 687.91 L213.32 700.30 M213.32 687.91 L217.21 687.91 L218.87 688.50 L219.98 689.68 L220.54 690.86 L221.09 692.63 L221.09 695.58 L220.54 697.35 L219.98 698.53 L218.87 699.71 L217.21 700.30 L213.32 700.30 M224.98 687.91 L224.98 700.30 M224.98 687.91 L232.19 687.91 M224.98 693.81 L229.42 693.81 M224.98 700.30 L232.19 700.30 M243.29 690.86 L242.74 689.68 L241.63 688.50 L240.52 687.91 L238.30 687.91 L237.19 688.50 L236.08 689.68 L235.52 690.86 L234.97 692.63 L234.97 695.58 L235.52 697.35 L236.08 698.53 L237.19 699.71 L238.30 700.30 L240.52 700.30 L241.63 699.71 L242.74 698.53 L243.29 697.35 M310.16 690.27 L311.27 689.68 L312.94 687.91 L312.94 700.30 M326.81 692.04 L326.26 693.81 L325.15 694.99 L323.48 695.58 L322.93 695.58 L321.26 694.99 L320.15 693.81 L319.60 692.04 L319.60 691.45 L320.15 689.68 L321.26 688.50 L322.93 687.91 L323.48 687.91 L325.15 688.50 L326.26 689.68 L326.81 692.04 L326.81 694.99 L326.26 697.94 L325.15 699.71 L323.48 700.30 L322.37 700.30 L320.71 699.71 L320.15 698.53 M331.25 687.91 L331.25 700.30 M331.25 687.91 L335.14 687.91 L336.80 688.50 L337.91 689.68 L338.47 690.86 L339.02 692.63 L339.02 695.58 L338.47 697.35 L337.91 698.53 L336.80 699.71 L335.14 700.30 L331.25 700.30 M342.91 687.91 L342.91 700.30 M342.91 687.91 L350.12 687.91 M342.91 693.81 L347.35 693.81 M342.91 700.30 L350.12 700.30 M361.22 690.86 L360.67 689.68 L359.56 688.50 L358.45 687.91 L356.23 687.91 L355.12 688.50 L354.01 689.68 L353.45 690.86 L352.90 692.63 L352.90 695.58 L353.45 697.35 L354.01 698.53 L355.12 699.71 L356.23 700.30 L358.45 700.30 L359.56 699.71 L360.67 698.53 L361.22 697.35 M426.98 690.86 L426.98 690.27 L427.54 689.09 L428.09 688.50 L429.20 687.91 L431.42 687.91 L432.53 688.50 L433.09 689.09 L433.64 690.27 L433.64 691.45 L433.09 692.63 L431.98 694.40 L426.43 700.30 L434.20 700.30 M440.86 687.91 L439.19 688.50 L438.08 690.27 L437.53 693.22 L437.53 694.99 L438.08 697.94 L439.19 699.71 L440.86 700.30 L441.97 700.30 L443.63 699.71 L444.74 697.94 L445.30 694.99 L445.30 693.22 L444.74 690.27 L443.63 688.50 L441.97 687.91 L440.86 687.91 M449.18 687.91 L449.18 700.30 M449.18 687.91 L453.07 687.91 L454.73 688.50 L455.84 689.68 L456.40 690.86 L456.95 692.63 L456.95 695.58 L456.40 697.35 L455.84 698.53 L454.73 699.71 L453.07 700.30 L449.18 700.30 M460.84 687.91 L460.84 700.30 M460.84 687.91 L468.05 687.91 M460.84 693.81 L465.28 693.81 M460.84 700.30 L468.05 700.30 M479.15 690.86 L478.60 689.68 L477.49 688.50 L476.38 687.91 L474.16 687.91 L473.05 688.50 L471.94 689.68 L471.38 690.86 L470.83 692.63 L470.83 695.58 L471.38 697.35 L471.94 698.53 L473.05 699.71 L474.16 700.30 L476.38 700.30 L477.49 699.71 L478.60 698.53 L479.15 697.35 M544.91 690.86 L544.91 690.27 L545.47 689.09 L546.02 688.50 L547.13 687.91 L549.35 687.91 L550.46 688.50 L551.02 689.09 L551.57 690.27 L551.57 691.45 L551.02 692.63 L549.91 694.40 L544.36 700.30 L552.13 700.30 M557.12 690.27 L558.23 689.68 L559.90 687.91 L559.90 700.30 M567.11 687.91 L567.11 700.30 M567.11 687.91 L571.00 687.91 L572.66 688.50 L573.77 689.68 L574.33 690.86 L574.88 692.63 L574.88 695.58 L574.33 697.35 L573.77 698.53 L572.66 699.71 L571.00 700.30 L567.11 700.30 M578.77 687.91 L578.77 700.30 M578.77 687.91 L585.98 687.91 M578.77 693.81 L583.21 693.81 M578.77 700.30 L585.98 700.30 M597.08 690.86 L596.53 689.68 L595.42 688.50 L594.31 687.91 L592.09 687.91 L590.98 688.50 L589.87 689.68 L589.31 690.86 L588.76 692.63 L588.76 695.58 L589.31 697.35 L589.87 698.53 L590.98 699.71 L592.09 700.30 L594.31 700.30 L595.42 699.71 L596.53 698.53 L597.08 697.35 M662.84 690.86 L662.84 690.27 L663.40 689.09 L663.95 688.50 L665.06 687.91 L667.28 687.91 L668.39 688.50 L668.95 689.09 L669.50 690.27 L669.50 691.45 L668.95 692.63 L667.84 694.40 L662.29 700.30 L670.06 700.30 M673.94 690.86 L673.94 690.27 L674.50 689.09 L675.05 688.50 L676.16 687.91 L678.38 687.91 L679.49 688.50 L680.05 689.09 L680.60 690.27 L680.60 691.45 L680.05 692.63 L678.94 694.40 L673.39 700.30 L681.16 700.30 M685.04 687.91 L685.04 700.30 M685.04 687.91 L688.93 687.91 L690.59 688.50 L691.70 689.68 L692.26 690.86 L692.81 692.63 L692.81 695.58 L692.26 697.35 L691.70 698.53 L690.59 699.71 L688.93 700.30 L685.04 700.30 M696.70 687.91 L696.70 700.30 M696.70 687.91 L703.91 687.91 M696.70 693.81 L701.14 693.81 M696.70 700.30 L703.91 700.30 M715.01 690.86 L714.46 689.68 L713.35 688.50 L712.24 687.91 L710.02 687.91 L708.91 688.50 L707.80 689.68 L707.24 690.86 L706.69 692.63 L706.69 695.58 L707.24 697.35 L707.80 698.53 L708.91 699.71 L710.02 700.30 L712.24 700.30 L713.35 699.71 L714.46 698.53 L715.01 697.35 M780.77 690.86 L780.77 690.27 L781.33 689.09 L781.88 688.50 L782.99 687.91 L785.21 687.91 L786.32 688.50 L786.88 689.09 L787.43 690.27 L787.43 691.45 L786.88 692.63 L785.77 694.40 L780.22 700.30 L787.99 700.30 M792.43 687.91 L798.53 687.91 L795.20 692.63 L796.87 692.63 L797.98 693.22 L798.53 693.81 L799.09 695.58 L799.09 696.76 L798.53 698.53 L797.42 699.71 L795.76 700.30 L794.09 700.30 L792.43 699.71 L791.87 699.12 L791.32 697.94 M802.97 687.91 L802.97 700.30 M802.97 687.91 L806.86 687.91 L808.52 688.50 L809.63 689.68 L810.19 690.86 L810.74 692.63 L810.74 695.58 L810.19 697.35 L809.63 698.53 L808.52 699.71 L806.86 700.30 L802.97 700.30 M814.63 687.91 L814.63 700.30 M814.63 687.91 L821.84 687.91 M814.63 693.81 L819.07 693.81 M814.63 700.30 L821.84 700.30 M832.94 690.86 L832.39 689.68 L831.28 688.50 L830.17 687.91 L827.95 687.91 L826.84 688.50 L825.73 689.68 L825.17 690.86 L824.62 692.63 L824.62 695.58 L825.17 697.35 L825.73 698.53 L826.84 699.71 L827.95 700.30 L830.17 700.30 L831.28 699.71 L832.39 698.53 L832.94 697.35 M898.70 690.86 L898.70 690.27 L899.26 689.09 L899.81 688.50 L900.92 687.91 L903.14 687.91 L904.25 688.50 L904.81 689.09 L905.36 690.27 L905.36 691.45 L904.81 692.63 L903.70 694.40 L898.15 700.30 L905.92 700.30 M914.80 687.91 L909.25 696.17 L917.57 696.17 M914.80 687.91 L914.80 700.30 M920.90 687.91 L920.90 700.30 M920.90 687.91 L924.79 687.91 L926.45 688.50 L927.56 689.68 L928.12 690.86 L928.67 692.63 L928.67 695.58 L928.12 697.35 L927.56 698.53 L926.45 699.71 L924.79 700.30 L920.90 700.30 M932.56 687.91 L932.56 700.30 M932.56 687.91 L939.77 687.91 M932.56 693.81 L937.00 693.81 M932.56 700.30 L939.77 700.30 M950.87 690.86 L950.32 689.68 L949.21 688.50 L948.10 687.91 L945.88 687.91 L944.77 688.50 L943.66 689.68 L943.10 690.86 L942.55 692.63 L942.55 695.58 L943.10 697.35 L943.66 698.53 L944.77 699.71 L945.88 700.30 L948.10 700.30 L949.21 699.71 L950.32 698.53 L950.87 697.35 M79.02 709.86 L79.02 709.27 L79.58 708.09 L80.13 707.50 L81.24 706.91 L83.46 706.91 L84.57 707.50 L85.12 708.09 L85.68 709.27 L85.68 710.45 L85.12 711.63 L84.02 713.40 L78.47 719.30 L86.23 719.30 M92.90 706.91 L91.23 707.50 L90.12 709.27 L89.57 712.22 L89.57 713.99 L90.12 716.94 L91.23 718.71 L92.90 719.30 L94.01 719.30 L95.67 718.71 L96.78 716.94 L97.34 713.99 L97.34 712.22 L96.78 709.27 L95.67 707.50 L94.01 706.91 L92.90 706.91 M101.22 709.86 L101.22 709.27 L101.78 708.09 L102.33 707.50 L103.44 706.91 L105.66 706.91 L106.77 707.50 L107.33 708.09 L107.88 709.27 L107.88 710.45 L107.33 711.63 L106.22 713.40 L100.67 719.30 L108.44 719.30 M118.42 706.91 L112.88 706.91 L112.32 712.22 L112.88 711.63 L114.54 711.04 L116.20 711.04 L117.87 711.63 L118.98 712.81 L119.53 714.58 L119.53 715.76 L118.98 717.53 L117.87 718.71 L116.20 719.30 L114.54 719.30 L112.88 718.71 L112.32 718.12 L111.77 716.94" stroke="#111" stroke-width="1.15" fill="none" stroke-linecap="round" stroke-linejoin="round"/>
<path d="M114.98 12.92 L114.98 11.96 L115.92 10.05 L116.87 9.10 L118.76 8.14 L122.54 8.14 L124.44 9.10 L125.38 10.05 L126.33 11.96 L126.33 13.88 L125.38 15.79 L123.49 18.65 L114.03 28.20 L127.27 28.20 M138.62 8.14 L135.78 9.10 L133.89 11.96 L132.95 16.74 L132.95 19.61 L133.89 24.38 L135.78 27.25 L138.62 28.20 L140.51 28.20 L143.35 27.25 L145.24 24.38 L146.19 19.61 L146.19 16.74 L145.24 11.96 L143.35 9.10 L140.51 8.14 L138.62 8.14 M152.81 12.92 L152.81 11.96 L153.75 10.05 L154.70 9.10 L156.59 8.14 L160.37 8.14 L162.26 9.10 L163.21 10.05 L164.16 11.96 L164.16 13.88 L163.21 15.79 L161.32 18.65 L151.86 28.20 L165.10 28.20 M182.12 8.14 L172.67 8.14 L171.72 16.74 L172.67 15.79 L175.50 14.83 L178.34 14.83 L181.18 15.79 L183.07 17.70 L184.01 20.56 L184.01 22.47 L183.07 25.34 L181.18 27.25 L178.34 28.20 L175.50 28.20 L172.67 27.25 L171.72 26.29 L170.78 24.38 M192.53 11.96 L194.42 11.01 L197.25 8.14 L197.25 28.20 M209.55 12.92 L209.55 11.96 L210.49 10.05 L211.44 9.10 L213.33 8.14 L217.11 8.14 L219.01 9.10 L219.95 10.05 L220.90 11.96 L220.90 13.88 L219.95 15.79 L218.06 18.65 L208.60 28.20 L221.84 28.20 M230.35 11.96 L232.25 11.01 L235.08 8.14 L235.08 28.20 M258.73 11.01 L257.78 9.10 L254.94 8.14 L253.05 8.14 L250.21 9.10 L248.32 11.96 L247.38 16.74 L247.38 21.52 L248.32 25.34 L250.21 27.25 L253.05 28.20 L254.00 28.20 L256.83 27.25 L258.73 25.34 L259.67 22.47 L259.67 21.52 L258.73 18.65 L256.83 16.74 L254.00 15.79 L253.05 15.79 L250.21 16.74 L248.32 18.65 L247.38 21.52 M268.18 11.96 L270.07 11.01 L272.91 8.14 L272.91 28.20 M288.99 8.14 L286.15 9.10 L285.20 11.01 L285.20 12.92 L286.15 14.83 L288.04 15.79 L291.82 16.74 L294.66 17.70 L296.55 19.61 L297.50 21.52 L297.50 24.38 L296.55 26.29 L295.61 27.25 L292.77 28.20 L288.99 28.20 L286.15 27.25 L285.20 26.29 L284.26 24.38 L284.26 21.52 L285.20 19.61 L287.10 17.70 L289.93 16.74 L293.72 15.79 L295.61 14.83 L296.55 12.92 L296.55 11.01 L295.61 9.10 L292.77 8.14 L288.99 8.14 M332.49 12.92 L331.54 11.01 L329.65 9.10 L327.76 8.14 L323.98 8.14 L322.09 9.10 L320.20 11.01 L319.25 12.92 L318.30 15.79 L318.30 20.56 L319.25 23.43 L320.20 25.34 L322.09 27.25 L323.98 28.20 L327.76 28.20 L329.65 27.25 L331.54 25.34 L332.49 23.43 L332.49 20.56 M327.76 20.56 L332.49 20.56 M339.11 8.14 L339.11 28.20 M339.11 8.14 L351.40 8.14 M339.11 17.70 L346.68 17.70 M368.43 11.01 L366.54 9.10 L363.70 8.14 L359.92 8.14 L357.08 9.10 L355.19 11.01 L355.19 12.92 L356.13 14.83 L357.08 15.79 L358.97 16.74 L364.64 18.65 L366.54 19.61 L367.48 20.56 L368.43 22.47 L368.43 25.34 L366.54 27.25 L363.70 28.20 L359.92 28.20 L357.08 27.25 L355.19 25.34 M395.85 8.14 L393.96 8.14 L392.07 9.10 L391.12 11.96 L391.12 28.20 M388.29 14.83 L394.91 14.83 M405.31 14.83 L403.42 15.79 L401.53 17.70 L400.58 20.56 L400.58 22.47 L401.53 25.34 L403.42 27.25 L405.31 28.20 L408.15 28.20 L410.04 27.25 L411.93 25.34 L412.87 22.47 L412.87 20.56 L411.93 17.70 L410.04 15.79 L408.15 14.83 L405.31 14.83 M419.49 14.83 L419.49 28.20 M419.49 20.56 L420.44 17.70 L422.33 15.79 L424.22 14.83 L427.06 14.83 M430.84 20.56 L442.19 20.56 L442.19 18.65 L441.25 16.74 L440.30 15.79 L438.41 14.83 L435.57 14.83 L433.68 15.79 L431.79 17.70 L430.84 20.56 L430.84 22.47 L431.79 25.34 L433.68 27.25 L435.57 28.20 L438.41 28.20 L440.30 27.25 L442.19 25.34 M459.21 17.70 L457.32 15.79 L455.43 14.83 L452.59 14.83 L450.70 15.79 L448.81 17.70 L447.87 20.56 L447.87 22.47 L448.81 25.34 L450.70 27.25 L452.59 28.20 L455.43 28.20 L457.32 27.25 L459.21 25.34 M476.24 14.83 L476.24 28.20 M476.24 17.70 L474.34 15.79 L472.45 14.83 L469.62 14.83 L467.72 15.79 L465.83 17.70 L464.89 20.56 L464.89 22.47 L465.83 25.34 L467.72 27.25 L469.62 28.20 L472.45 28.20 L474.34 27.25 L476.24 25.34 M493.26 17.70 L492.31 15.79 L489.48 14.83 L486.64 14.83 L483.80 15.79 L482.86 17.70 L483.80 19.61 L485.69 20.56 L490.42 21.52 L492.31 22.47 L493.26 24.38 L493.26 25.34 L492.31 27.25 L489.48 28.20 L486.64 28.20 L483.80 27.25 L482.86 25.34 M500.82 8.14 L500.82 24.38 L501.77 27.25 L503.66 28.20 L505.55 28.20 M497.99 14.83 L504.61 14.83 M525.41 14.83 L529.20 28.20 M532.98 14.83 L529.20 28.20 M532.98 14.83 L536.76 28.20 M540.54 14.83 L536.76 28.20 M546.22 8.14 L547.16 9.10 L548.11 8.14 L547.16 7.19 L546.22 8.14 M547.16 14.83 L547.16 28.20 M554.73 14.83 L554.73 28.20 M554.73 18.65 L557.57 15.79 L559.46 14.83 L562.29 14.83 L564.19 15.79 L565.13 18.65 L565.13 28.20 M583.10 8.14 L583.10 28.20 M583.10 17.70 L581.21 15.79 L579.32 14.83 L576.48 14.83 L574.59 15.79 L572.70 17.70 L571.75 20.56 L571.75 22.47 L572.70 25.34 L574.59 27.25 L576.48 28.20 L579.32 28.20 L581.21 27.25 L583.10 25.34 M605.80 14.83 L605.80 34.88 M605.80 17.70 L607.69 15.79 L609.58 14.83 L612.42 14.83 L614.31 15.79 L616.20 17.70 L617.15 20.56 L617.15 22.47 L616.20 25.34 L614.31 27.25 L612.42 28.20 L609.58 28.20 L607.69 27.25 L605.80 25.34 M623.77 14.83 L623.77 28.20 M623.77 20.56 L624.71 17.70 L626.60 15.79 L628.49 14.83 L631.33 14.83 M639.84 14.83 L637.95 15.79 L636.06 17.70 L635.11 20.56 L635.11 22.47 L636.06 25.34 L637.95 27.25 L639.84 28.20 L642.68 28.20 L644.57 27.25 L646.46 25.34 L647.41 22.47 L647.41 20.56 L646.46 17.70 L644.57 15.79 L642.68 14.83 L639.84 14.83 M659.70 8.14 L657.81 8.14 L655.92 9.10 L654.97 11.96 L654.97 28.20 M652.14 14.83 L658.76 14.83 M664.43 8.14 L665.38 9.10 L666.32 8.14 L665.38 7.19 L664.43 8.14 M665.38 14.83 L665.38 28.20 M672.94 8.14 L672.94 28.20 M679.56 20.56 L690.91 20.56 L690.91 18.65 L689.96 16.74 L689.02 15.79 L687.13 14.83 L684.29 14.83 L682.40 15.79 L680.51 17.70 L679.56 20.56 L679.56 22.47 L680.51 25.34 L682.40 27.25 L684.29 28.20 L687.13 28.20 L689.02 27.25 L690.91 25.34 M719.28 4.32 L717.39 6.23 L715.50 9.10 L713.61 12.92 L712.66 17.70 L712.66 21.52 L713.61 26.29 L715.50 30.11 L717.39 32.98 L719.28 34.88 M725.90 8.14 L725.90 28.20 M735.36 14.83 L725.90 24.38 M729.68 20.56 L736.30 28.20 M742.92 8.14 L742.92 24.38 L743.87 27.25 L745.76 28.20 L747.65 28.20 M740.09 14.83 L746.71 14.83 M752.38 4.32 L754.27 6.23 L756.16 9.10 L758.05 12.92 L759.00 17.70 L759.00 21.52 L758.05 26.29 L756.16 30.11 L754.27 32.98 L752.38 34.88 M787.37 8.14 L785.48 8.14 L783.59 9.10 L782.64 11.96 L782.64 28.20 M779.81 14.83 L786.43 14.83 M796.83 14.83 L794.94 15.79 L793.05 17.70 L792.10 20.56 L792.10 22.47 L793.05 25.34 L794.94 27.25 L796.83 28.20 L799.67 28.20 L801.56 27.25 L803.45 25.34 L804.39 22.47 L804.39 20.56 L803.45 17.70 L801.56 15.79 L799.67 14.83 L796.83 14.83 M811.01 14.83 L811.01 28.20 M811.01 20.56 L811.96 17.70 L813.85 15.79 L815.74 14.83 L818.58 14.83 M838.44 8.14 L838.44 28.20 M851.68 8.14 L838.44 21.52 M843.17 16.74 L851.68 28.20 M863.03 8.14 L855.46 28.20 M863.03 8.14 L870.59 28.20 M858.30 21.52 L867.76 21.52 M875.32 8.14 L875.32 28.20 M875.32 8.14 L883.83 8.14 L886.67 9.10 L887.62 10.05 L888.56 11.96 L888.56 14.83 L887.62 16.74 L886.67 17.70 L883.83 18.65 L875.32 18.65 M895.18 8.14 L895.18 28.20 M895.18 8.14 L908.42 28.20 M908.42 8.14 L908.42 28.20" stroke="#111" stroke-width="1.5" fill="none" stroke-linecap="round" stroke-linejoin="round"/>
<path d="M361.88 741.29 L361.88 758.30 M361.88 741.29 L374.15 741.29 M361.88 749.39 L369.43 749.39 M382.64 746.96 L380.76 747.77 L378.87 749.39 L377.92 751.82 L377.92 753.44 L378.87 755.87 L380.76 757.49 L382.64 758.30 L385.48 758.30 L387.36 757.49 L389.25 755.87 L390.20 753.44 L390.20 751.82 L389.25 749.39 L387.36 747.77 L385.48 746.96 L382.64 746.96 M396.80 746.96 L396.80 758.30 M396.80 751.82 L397.75 749.39 L399.64 747.77 L401.52 746.96 L404.36 746.96 M408.13 751.82 L419.46 751.82 L419.46 750.20 L418.52 748.58 L417.57 747.77 L415.68 746.96 L412.85 746.96 L410.96 747.77 L409.08 749.39 L408.13 751.82 L408.13 753.44 L409.08 755.87 L410.96 757.49 L412.85 758.30 L415.68 758.30 L417.57 757.49 L419.46 755.87 M436.45 749.39 L434.56 747.77 L432.68 746.96 L429.84 746.96 L427.96 747.77 L426.07 749.39 L425.12 751.82 L425.12 753.44 L426.07 755.87 L427.96 757.49 L429.84 758.30 L432.68 758.30 L434.56 757.49 L436.45 755.87 M453.44 746.96 L453.44 758.30 M453.44 749.39 L451.56 747.77 L449.67 746.96 L446.84 746.96 L444.95 747.77 L443.06 749.39 L442.12 751.82 L442.12 753.44 L443.06 755.87 L444.95 757.49 L446.84 758.30 L449.67 758.30 L451.56 757.49 L453.44 755.87 M470.44 749.39 L469.49 747.77 L466.66 746.96 L463.83 746.96 L461.00 747.77 L460.05 749.39 L461.00 751.01 L462.88 751.82 L467.60 752.63 L469.49 753.44 L470.44 755.06 L470.44 755.87 L469.49 757.49 L466.66 758.30 L463.83 758.30 L461.00 757.49 L460.05 755.87 M477.99 741.29 L477.99 755.06 L478.93 757.49 L480.82 758.30 L482.71 758.30 M475.16 746.96 L481.76 746.96 M507.25 741.29 L507.25 758.30 M500.64 741.29 L513.86 741.29 M517.64 741.29 L518.58 742.10 L519.52 741.29 L518.58 740.48 L517.64 741.29 M518.58 746.96 L518.58 758.30 M526.13 746.96 L526.13 758.30 M526.13 750.20 L528.96 747.77 L530.85 746.96 L533.68 746.96 L535.57 747.77 L536.52 750.20 L536.52 758.30 M536.52 750.20 L539.35 747.77 L541.24 746.96 L544.07 746.96 L545.96 747.77 L546.90 750.20 L546.90 758.30 M553.51 751.82 L564.84 751.82 L564.84 750.20 L563.89 748.58 L562.95 747.77 L561.06 746.96 L558.23 746.96 L556.34 747.77 L554.45 749.39 L553.51 751.82 L553.51 753.44 L554.45 755.87 L556.34 757.49 L558.23 758.30 L561.06 758.30 L562.95 757.49 L564.84 755.87 M593.16 738.05 L591.27 739.67 L589.38 742.10 L587.49 745.34 L586.55 749.39 L586.55 752.63 L587.49 756.68 L589.38 759.92 L591.27 762.35 L593.16 763.97 M599.76 741.29 L599.76 753.44 L600.71 755.87 L602.60 757.49 L605.43 758.30 L607.32 758.30 L610.15 757.49 L612.04 755.87 L612.98 753.44 L612.98 741.29 M624.31 741.29 L624.31 758.30 M617.70 741.29 L630.92 741.29 M648.85 745.34 L647.91 743.72 L646.02 742.10 L644.13 741.29 L640.36 741.29 L638.47 742.10 L636.58 743.72 L635.64 745.34 L634.69 747.77 L634.69 751.82 L635.64 754.25 L636.58 755.87 L638.47 757.49 L640.36 758.30 L644.13 758.30 L646.02 757.49 L647.91 755.87 L648.85 754.25 M654.52 738.05 L656.40 739.67 L658.29 742.10 L660.18 745.34 L661.12 749.39 L661.12 752.63 L660.18 756.68 L658.29 759.92 L656.40 762.35 L654.52 763.97" stroke="#000" stroke-width="2.75" fill="none" stroke-linecap="round" stroke-linejoin="round"/>
<path d="M834.95 754.87 L833.79 754.01 L832.63 753.58 L830.89 753.58 L829.73 754.01 L828.57 754.87 L827.99 756.16 L827.99 757.02 L828.57 758.31 L829.73 759.17 L830.89 759.60 L832.63 759.60 L833.79 759.17 L834.95 758.31 M841.33 753.58 L840.17 754.01 L839.01 754.87 L838.43 756.16 L838.43 757.02 L839.01 758.31 L840.17 759.17 L841.33 759.60 L843.07 759.60 L844.23 759.17 L845.39 758.31 L845.97 757.02 L845.97 756.16 L845.39 754.87 L844.23 754.01 L843.07 753.58 L841.33 753.58 M852.35 753.58 L851.19 754.01 L850.03 754.87 L849.45 756.16 L849.45 757.02 L850.03 758.31 L851.19 759.17 L852.35 759.60 L854.09 759.60 L855.25 759.17 L856.41 758.31 L856.99 757.02 L856.99 756.16 L856.41 754.87 L855.25 754.01 L854.09 753.58 L852.35 753.58 M861.05 750.57 L861.05 759.60 M865.11 753.58 L867.43 759.60 M869.75 753.58 L867.43 759.60 M869.75 753.58 L872.07 759.60 M874.39 753.58 L872.07 759.60 M877.87 753.58 L884.25 759.60 M884.25 753.58 L877.87 759.60 M888.89 758.74 L888.31 759.17 L888.89 759.60 L889.47 759.17 L888.89 758.74 M900.49 754.87 L899.33 754.01 L898.17 753.58 L896.43 753.58 L895.27 754.01 L894.11 754.87 L893.53 756.16 L893.53 757.02 L894.11 758.31 L895.27 759.17 L896.43 759.60 L898.17 759.60 L899.33 759.17 L900.49 758.31 M906.87 753.58 L905.71 754.01 L904.55 754.87 L903.97 756.16 L903.97 757.02 L904.55 758.31 L905.71 759.17 L906.87 759.60 L908.61 759.60 L909.77 759.17 L910.93 758.31 L911.51 757.02 L911.51 756.16 L910.93 754.87 L909.77 754.01 L908.61 753.58 L906.87 753.58 M915.57 753.58 L915.57 759.60 M915.57 755.30 L917.31 754.01 L918.47 753.58 L920.21 753.58 L921.37 754.01 L921.95 755.30 L921.95 759.60 M921.95 755.30 L923.69 754.01 L924.85 753.58 L926.59 753.58 L927.75 754.01 L928.33 755.30 L928.33 759.60 M942.25 748.85 L931.81 762.61 M945.73 753.58 L945.73 759.60 M945.73 755.30 L947.47 754.01 L948.63 753.58 L950.37 753.58 L951.53 754.01 L952.11 755.30 L952.11 759.60 M952.11 755.30 L953.85 754.01 L955.01 753.58 L956.75 753.58 L957.91 754.01 L958.49 755.30 L958.49 759.60 M965.45 753.58 L964.29 754.01 L963.13 754.87 L962.55 756.16 L962.55 757.02 L963.13 758.31 L964.29 759.17 L965.45 759.60 L967.19 759.60 L968.35 759.17 L969.51 758.31 L970.09 757.02 L970.09 756.16 L969.51 754.87 L968.35 754.01 L967.19 753.58 L965.45 753.58 M980.53 750.57 L980.53 759.60 M980.53 754.87 L979.37 754.01 L978.21 753.58 L976.47 753.58 L975.31 754.01 L974.15 754.87 L973.57 756.16 L973.57 757.02 L974.15 758.31 L975.31 759.17 L976.47 759.60 L978.21 759.60 L979.37 759.17 L980.53 758.31 M984.59 756.16 L991.55 756.16 L991.55 755.30 L990.97 754.44 L990.39 754.01 L989.23 753.58 L987.49 753.58 L986.33 754.01 L985.17 754.87 L984.59 756.16 L984.59 757.02 L985.17 758.31 L986.33 759.17 L987.49 759.60 L989.23 759.60 L990.39 759.17 L991.55 758.31 M995.61 750.57 L995.61 759.60 M1000.83 750.57 L1000.83 757.88 L1001.41 759.17 L1002.57 759.60 L1003.73 759.60 M999.09 753.58 L1003.15 753.58 M1013.01 754.87 L1012.43 754.01 L1010.69 753.58 L1008.95 753.58 L1007.21 754.01 L1006.63 754.87 L1007.21 755.73 L1008.37 756.16 L1011.27 756.59 L1012.43 757.02 L1013.01 757.88 L1013.01 758.31 L1012.43 759.17 L1010.69 759.60 L1008.95 759.60 L1007.21 759.17 L1006.63 758.31" stroke="#ff3030" stroke-width="1.2" fill="none" stroke-linecap="round" stroke-linejoin="round"/>
<path d="M959.8 103.0L968.2 84.5L976.7 103.0Z" fill="#000" stroke="#000" stroke-width="1.4"/>
<rect x="959.8" y="103.00" width="16.9" height="17.84" fill="#ff00ff" stroke="#000" stroke-width="1.4"/>
<rect x="959.8" y="120.84" width="16.9" height="17.84" fill="#ff00e0" stroke="#000" stroke-width="1.4"/>
<rect x="959.8" y="138.69" width="16.9" height="17.84" fill="#ff0090" stroke="#000" stroke-width="1.4"/>
<rect x="959.8" y="156.53" width="16.9" height="17.84" fill="#ff0078" stroke="#000" stroke-width="1.4"/>
<rect x="959.8" y="174.38" width="16.9" height="17.84" fill="#ff0058" stroke="#000" stroke-width="1.4"/>
<rect x="959.8" y="192.22" width="16.9" height="17.84" fill="#ff0030" stroke="#000" stroke-width="1.4"/>
<rect x="959.8" y="210.07" width="16.9" height="17.84" fill="#ff1000" stroke="#000" stroke-width="1.4"/>
<rect x="959.8" y="227.91" width="16.9" height="17.84" fill="#ff3800" stroke="#000" stroke-width="1.4"/>
<rect x="959.8" y="245.76" width="16.9" height="17.84" fill="#ff7000" stroke="#000" stroke-width="1.4"/>
<rect x="959.8" y="263.60" width="16.9" height="17.84" fill="#ff9000" stroke="#000" stroke-width="1.4"/>
<rect x="959.8" y="281.45" width="16.9" height="17.84" fill="#ffa800" stroke="#000" stroke-width="1.4"/>
<rect x="959.8" y="299.29" width="16.9" height="17.84" fill="#ffc000" stroke="#000" stroke-width="1.4"/>
<rect x="959.8" y="317.14" width="16.9" height="17.84" fill="#ffe000" stroke="#000" stroke-width="1.4"/>
<rect x="959.8" y="334.98" width="16.9" height="17.84" fill="#ffff00" stroke="#000" stroke-width="1.4"/>
<rect x="959.8" y="352.83" width="16.9" height="17.84" fill="#e8ff00" stroke="#000" stroke-width="1.4"/>
<rect x="959.8" y="370.67" width="16.9" height="17.84" fill="#90ff00" stroke="#000" stroke-width="1.4"/>
<rect x="959.8" y="388.52" width="16.9" height="17.84" fill="#40ff00" stroke="#000" stroke-width="1.4"/>
<rect x="959.8" y="406.36" width="16.9" height="17.84" fill="#00ff40" stroke="#000" stroke-width="1.4"/>
<rect x="959.8" y="424.21" width="16.9" height="17.84" fill="#00ff80" stroke="#000" stroke-width="1.4"/>
<rect x="959.8" y="442.05" width="16.9" height="17.84" fill="#00ffa0" stroke="#000" stroke-width="1.4"/>
<rect x="959.8" y="459.90" width="16.9" height="17.84" fill="#00ffd8" stroke="#000" stroke-width="1.4"/>
<rect x="959.8" y="477.74" width="16.9" height="17.84" fill="#00c0ff" stroke="#000" stroke-width="1.4"/>
<rect x="959.8" y="495.59" width="16.9" height="17.84" fill="#0090ff" stroke="#000" stroke-width="1.4"/>
<rect x="959.8" y="513.43" width="16.9" height="17.84" fill="#0070ff" stroke="#000" stroke-width="1.4"/>
<rect x="959.8" y="531.28" width="16.9" height="17.84" fill="#0058ff" stroke="#000" stroke-width="1.4"/>
<rect x="959.8" y="549.12" width="16.9" height="17.84" fill="#0030ff" stroke="#000" stroke-width="1.4"/>
<rect x="959.8" y="566.97" width="16.9" height="17.84" fill="#0000ff" stroke="#000" stroke-width="1.4"/>
<rect x="959.8" y="584.81" width="16.9" height="17.84" fill="#5000ff" stroke="#000" stroke-width="1.4"/>
<rect x="959.8" y="602.66" width="16.9" height="17.84" fill="#6800ff" stroke="#000" stroke-width="1.4"/>
<path d="M959.8 620.5L968.2 638.0L976.7 620.5Z" fill="#8000ff" stroke="#000" stroke-width="1.4"/>
<path d="M983.60 99.90 L984.60 99.40 L986.10 97.90 L986.10 108.40 M998.10 97.90 L993.10 97.90 L992.60 102.40 L993.10 101.90 L994.60 101.40 L996.10 101.40 L997.60 101.90 L998.60 102.90 L999.10 104.40 L999.10 105.40 L998.60 106.90 L997.60 107.90 L996.10 108.40 L994.60 108.40 L993.10 107.90 L992.60 107.40 L992.10 106.40 M1005.10 97.90 L1003.60 98.40 L1002.60 99.90 L1002.10 102.40 L1002.10 103.90 L1002.60 106.40 L1003.60 107.90 L1005.10 108.40 L1006.10 108.40 L1007.60 107.90 L1008.60 106.40 L1009.10 103.90 L1009.10 102.40 L1008.60 99.90 L1007.60 98.40 L1006.10 97.90 L1005.10 97.90 M983.60 117.74 L984.60 117.24 L986.10 115.74 L986.10 126.24 M997.10 115.74 L992.10 122.74 L999.60 122.74 M997.10 115.74 L997.10 126.24 M1008.10 115.74 L1003.10 115.74 L1002.60 120.24 L1003.10 119.74 L1004.60 119.24 L1006.10 119.24 L1007.60 119.74 L1008.60 120.74 L1009.10 122.24 L1009.10 123.24 L1008.60 124.74 L1007.60 125.74 L1006.10 126.24 L1004.60 126.24 L1003.10 125.74 L1002.60 125.24 L1002.10 124.24 M983.60 135.59 L984.60 135.09 L986.10 133.59 L986.10 144.09 M997.10 133.59 L992.10 140.59 L999.60 140.59 M997.10 133.59 L997.10 144.09 M1005.10 133.59 L1003.60 134.09 L1002.60 135.59 L1002.10 138.09 L1002.10 139.59 L1002.60 142.09 L1003.60 143.59 L1005.10 144.09 L1006.10 144.09 L1007.60 143.59 L1008.60 142.09 L1009.10 139.59 L1009.10 138.09 L1008.60 135.59 L1007.60 134.09 L1006.10 133.59 L1005.10 133.59 M983.60 153.43 L984.60 152.93 L986.10 151.43 L986.10 161.93 M993.10 151.43 L998.60 151.43 L995.60 155.43 L997.10 155.43 L998.10 155.93 L998.60 156.43 L999.10 157.93 L999.10 158.93 L998.60 160.43 L997.60 161.43 L996.10 161.93 L994.60 161.93 L993.10 161.43 L992.60 160.93 L992.10 159.93 M1008.10 151.43 L1003.10 151.43 L1002.60 155.93 L1003.10 155.43 L1004.60 154.93 L1006.10 154.93 L1007.60 155.43 L1008.60 156.43 L1009.10 157.93 L1009.10 158.93 L1008.60 160.43 L1007.60 161.43 L1006.10 161.93 L1004.60 161.93 L1003.10 161.43 L1002.60 160.93 L1002.10 159.93 M983.60 171.28 L984.60 170.78 L986.10 169.28 L986.10 179.78 M993.10 169.28 L998.60 169.28 L995.60 173.28 L997.10 173.28 L998.10 173.78 L998.60 174.28 L999.10 175.78 L999.10 176.78 L998.60 178.28 L997.60 179.28 L996.10 179.78 L994.60 179.78 L993.10 179.28 L992.60 178.78 L992.10 177.78 M1005.10 169.28 L1003.60 169.78 L1002.60 171.28 L1002.10 173.78 L1002.10 175.28 L1002.60 177.78 L1003.60 179.28 L1005.10 179.78 L1006.10 179.78 L1007.60 179.28 L1008.60 177.78 L1009.10 175.28 L1009.10 173.78 L1008.60 171.28 L1007.60 169.78 L1006.10 169.28 L1005.10 169.28 M983.60 189.12 L984.60 188.62 L986.10 187.12 L986.10 197.62 M992.60 189.62 L992.60 189.12 L993.10 188.12 L993.60 187.62 L994.60 187.12 L996.60 187.12 L997.60 187.62 L998.10 188.12 L998.60 189.12 L998.60 190.12 L998.10 191.12 L997.10 192.62 L992.10 197.62 L999.10 197.62 M1008.10 187.12 L1003.10 187.12 L1002.60 191.62 L1003.10 191.12 L1004.60 190.62 L1006.10 190.62 L1007.60 191.12 L1008.60 192.12 L1009.10 193.62 L1009.10 194.62 L1008.60 196.12 L1007.60 197.12 L1006.10 197.62 L1004.60 197.62 L1003.10 197.12 L1002.60 196.62 L1002.10 195.62 M983.60 206.97 L984.60 206.47 L986.10 204.97 L986.10 215.47 M992.60 207.47 L992.60 206.97 L993.10 205.97 L993.60 205.47 L994.60 204.97 L996.60 204.97 L997.60 205.47 L998.10 205.97 L998.60 206.97 L998.60 207.97 L998.10 208.97 L997.10 210.47 L992.10 215.47 L999.10 215.47 M1005.10 204.97 L1003.60 205.47 L1002.60 206.97 L1002.10 209.47 L1002.10 210.97 L1002.60 213.47 L1003.60 214.97 L1005.10 215.47 L1006.10 215.47 L1007.60 214.97 L1008.60 213.47 L1009.10 210.97 L1009.10 209.47 L1008.60 206.97 L1007.60 205.47 L1006.10 204.97 L1005.10 204.97 M983.60 224.81 L984.60 224.31 L986.10 222.81 L986.10 233.31 M993.60 224.81 L994.60 224.31 L996.10 222.81 L996.10 233.31 M1008.10 222.81 L1003.10 222.81 L1002.60 227.31 L1003.10 226.81 L1004.60 226.31 L1006.10 226.31 L1007.60 226.81 L1008.60 227.81 L1009.10 229.31 L1009.10 230.31 L1008.60 231.81 L1007.60 232.81 L1006.10 233.31 L1004.60 233.31 L1003.10 232.81 L1002.60 232.31 L1002.10 231.31 M983.60 242.66 L984.60 242.16 L986.10 240.66 L986.10 251.16 M993.60 242.66 L994.60 242.16 L996.10 240.66 L996.10 251.16 M1005.10 240.66 L1003.60 241.16 L1002.60 242.66 L1002.10 245.16 L1002.10 246.66 L1002.60 249.16 L1003.60 250.66 L1005.10 251.16 L1006.10 251.16 L1007.60 250.66 L1008.60 249.16 L1009.10 246.66 L1009.10 245.16 L1008.60 242.66 L1007.60 241.16 L1006.10 240.66 L1005.10 240.66 M983.60 260.50 L984.60 260.00 L986.10 258.50 L986.10 269.00 M995.10 258.50 L993.60 259.00 L992.60 260.50 L992.10 263.00 L992.10 264.50 L992.60 267.00 L993.60 268.50 L995.10 269.00 L996.10 269.00 L997.60 268.50 L998.60 267.00 L999.10 264.50 L999.10 263.00 L998.60 260.50 L997.60 259.00 L996.10 258.50 L995.10 258.50 M1008.10 258.50 L1003.10 258.50 L1002.60 263.00 L1003.10 262.50 L1004.60 262.00 L1006.10 262.00 L1007.60 262.50 L1008.60 263.50 L1009.10 265.00 L1009.10 266.00 L1008.60 267.50 L1007.60 268.50 L1006.10 269.00 L1004.60 269.00 L1003.10 268.50 L1002.60 268.00 L1002.10 267.00 M983.60 278.35 L984.60 277.85 L986.10 276.35 L986.10 286.85 M995.10 276.35 L993.60 276.85 L992.60 278.35 L992.10 280.85 L992.10 282.35 L992.60 284.85 L993.60 286.35 L995.10 286.85 L996.10 286.85 L997.60 286.35 L998.60 284.85 L999.10 282.35 L999.10 280.85 L998.60 278.35 L997.60 276.85 L996.10 276.35 L995.10 276.35 M1005.10 276.35 L1003.60 276.85 L1002.60 278.35 L1002.10 280.85 L1002.10 282.35 L1002.60 284.85 L1003.60 286.35 L1005.10 286.85 L1006.10 286.85 L1007.60 286.35 L1008.60 284.85 L1009.10 282.35 L1009.10 280.85 L1008.60 278.35 L1007.60 276.85 L1006.10 276.35 L1005.10 276.35 M988.60 297.69 L988.10 299.19 L987.10 300.19 L985.60 300.69 L985.10 300.69 L983.60 300.19 L982.60 299.19 L982.10 297.69 L982.10 297.19 L982.60 295.69 L983.60 294.69 L985.10 294.19 L985.60 294.19 L987.10 294.69 L988.10 295.69 L988.60 297.69 L988.60 300.19 L988.10 302.69 L987.10 304.19 L985.60 304.69 L984.60 304.69 L983.10 304.19 L982.60 303.19 M998.10 294.19 L993.10 294.19 L992.60 298.69 L993.10 298.19 L994.60 297.69 L996.10 297.69 L997.60 298.19 L998.60 299.19 L999.10 300.69 L999.10 301.69 L998.60 303.19 L997.60 304.19 L996.10 304.69 L994.60 304.69 L993.10 304.19 L992.60 303.69 L992.10 302.69 M988.60 315.54 L988.10 317.04 L987.10 318.04 L985.60 318.54 L985.10 318.54 L983.60 318.04 L982.60 317.04 L982.10 315.54 L982.10 315.04 L982.60 313.54 L983.60 312.54 L985.10 312.04 L985.60 312.04 L987.10 312.54 L988.10 313.54 L988.60 315.54 L988.60 318.04 L988.10 320.54 L987.10 322.04 L985.60 322.54 L984.60 322.54 L983.10 322.04 L982.60 321.04 M995.10 312.04 L993.60 312.54 L992.60 314.04 L992.10 316.54 L992.10 318.04 L992.60 320.54 L993.60 322.04 L995.10 322.54 L996.10 322.54 L997.60 322.04 L998.60 320.54 L999.10 318.04 L999.10 316.54 L998.60 314.04 L997.60 312.54 L996.10 312.04 L995.10 312.04 M984.60 329.88 L983.10 330.38 L982.60 331.38 L982.60 332.38 L983.10 333.38 L984.10 333.88 L986.10 334.38 L987.60 334.88 L988.60 335.88 L989.10 336.88 L989.10 338.38 L988.60 339.38 L988.10 339.88 L986.60 340.38 L984.60 340.38 L983.10 339.88 L982.60 339.38 L982.10 338.38 L982.10 336.88 L982.60 335.88 L983.60 334.88 L985.10 334.38 L987.10 333.88 L988.10 333.38 L988.60 332.38 L988.60 331.38 L988.10 330.38 L986.60 329.88 L984.60 329.88 M998.10 329.88 L993.10 329.88 L992.60 334.38 L993.10 333.88 L994.60 333.38 L996.10 333.38 L997.60 333.88 L998.60 334.88 L999.10 336.38 L999.10 337.38 L998.60 338.88 L997.60 339.88 L996.10 340.38 L994.60 340.38 L993.10 339.88 L992.60 339.38 L992.10 338.38 M984.60 347.73 L983.10 348.23 L982.60 349.23 L982.60 350.23 L983.10 351.23 L984.10 351.73 L986.10 352.23 L987.60 352.73 L988.60 353.73 L989.10 354.73 L989.10 356.23 L988.60 357.23 L988.10 357.73 L986.60 358.23 L984.60 358.23 L983.10 357.73 L982.60 357.23 L982.10 356.23 L982.10 354.73 L982.60 353.73 L983.60 352.73 L985.10 352.23 L987.10 351.73 L988.10 351.23 L988.60 350.23 L988.60 349.23 L988.10 348.23 L986.60 347.73 L984.60 347.73 M995.10 347.73 L993.60 348.23 L992.60 349.73 L992.10 352.23 L992.10 353.73 L992.60 356.23 L993.60 357.73 L995.10 358.23 L996.10 358.23 L997.60 357.73 L998.60 356.23 L999.10 353.73 L999.10 352.23 L998.60 349.73 L997.60 348.23 L996.10 347.73 L995.10 347.73 M989.10 365.57 L984.10 376.07 M982.10 365.57 L989.10 365.57 M998.10 365.57 L993.10 365.57 L992.60 370.07 L993.10 369.57 L994.60 369.07 L996.10 369.07 L997.60 369.57 L998.60 370.57 L999.10 372.07 L999.10 373.07 L998.60 374.57 L997.60 375.57 L996.10 376.07 L994.60 376.07 L993.10 375.57 L992.60 375.07 L992.10 374.07 M989.10 383.42 L984.10 393.92 M982.10 383.42 L989.10 383.42 M995.10 383.42 L993.60 383.92 L992.60 385.42 L992.10 387.92 L992.10 389.42 L992.60 391.92 L993.60 393.42 L995.10 393.92 L996.10 393.92 L997.60 393.42 L998.60 391.92 L999.10 389.42 L999.10 387.92 L998.60 385.42 L997.60 383.92 L996.10 383.42 L995.10 383.42 M988.60 402.76 L988.10 401.76 L986.60 401.26 L985.60 401.26 L984.10 401.76 L983.10 403.26 L982.60 405.76 L982.60 408.26 L983.10 410.26 L984.10 411.26 L985.60 411.76 L986.10 411.76 L987.60 411.26 L988.60 410.26 L989.10 408.76 L989.10 408.26 L988.60 406.76 L987.60 405.76 L986.10 405.26 L985.60 405.26 L984.10 405.76 L983.10 406.76 L982.60 408.26 M998.10 401.26 L993.10 401.26 L992.60 405.76 L993.10 405.26 L994.60 404.76 L996.10 404.76 L997.60 405.26 L998.60 406.26 L999.10 407.76 L999.10 408.76 L998.60 410.26 L997.60 411.26 L996.10 411.76 L994.60 411.76 L993.10 411.26 L992.60 410.76 L992.10 409.76 M988.60 420.61 L988.10 419.61 L986.60 419.11 L985.60 419.11 L984.10 419.61 L983.10 421.11 L982.60 423.61 L982.60 426.11 L983.10 428.11 L984.10 429.11 L985.60 429.61 L986.10 429.61 L987.60 429.11 L988.60 428.11 L989.10 426.61 L989.10 426.11 L988.60 424.61 L987.60 423.61 L986.10 423.11 L985.60 423.11 L984.10 423.61 L983.10 424.61 L982.60 426.11 M995.10 419.11 L993.60 419.61 L992.60 421.11 L992.10 423.61 L992.10 425.11 L992.60 427.61 L993.60 429.11 L995.10 429.61 L996.10 429.61 L997.60 429.11 L998.60 427.61 L999.10 425.11 L999.10 423.61 L998.60 421.11 L997.60 419.61 L996.10 419.11 L995.10 419.11 M988.10 436.95 L983.10 436.95 L982.60 441.45 L983.10 440.95 L984.60 440.45 L986.10 440.45 L987.60 440.95 L988.60 441.95 L989.10 443.45 L989.10 444.45 L988.60 445.95 L987.60 446.95 L986.10 447.45 L984.60 447.45 L983.10 446.95 L982.60 446.45 L982.10 445.45 M998.10 436.95 L993.10 436.95 L992.60 441.45 L993.10 440.95 L994.60 440.45 L996.10 440.45 L997.60 440.95 L998.60 441.95 L999.10 443.45 L999.10 444.45 L998.60 445.95 L997.60 446.95 L996.10 447.45 L994.60 447.45 L993.10 446.95 L992.60 446.45 L992.10 445.45 M988.10 454.80 L983.10 454.80 L982.60 459.30 L983.10 458.80 L984.60 458.30 L986.10 458.30 L987.60 458.80 L988.60 459.80 L989.10 461.30 L989.10 462.30 L988.60 463.80 L987.60 464.80 L986.10 465.30 L984.60 465.30 L983.10 464.80 L982.60 464.30 L982.10 463.30 M995.10 454.80 L993.60 455.30 L992.60 456.80 L992.10 459.30 L992.10 460.80 L992.60 463.30 L993.60 464.80 L995.10 465.30 L996.10 465.30 L997.60 464.80 L998.60 463.30 L999.10 460.80 L999.10 459.30 L998.60 456.80 L997.60 455.30 L996.10 454.80 L995.10 454.80 M987.10 472.64 L982.10 479.64 L989.60 479.64 M987.10 472.64 L987.10 483.14 M998.10 472.64 L993.10 472.64 L992.60 477.14 L993.10 476.64 L994.60 476.14 L996.10 476.14 L997.60 476.64 L998.60 477.64 L999.10 479.14 L999.10 480.14 L998.60 481.64 L997.60 482.64 L996.10 483.14 L994.60 483.14 L993.10 482.64 L992.60 482.14 L992.10 481.14 M987.10 490.49 L982.10 497.49 L989.60 497.49 M987.10 490.49 L987.10 500.99 M995.10 490.49 L993.60 490.99 L992.60 492.49 L992.10 494.99 L992.10 496.49 L992.60 498.99 L993.60 500.49 L995.10 500.99 L996.10 500.99 L997.60 500.49 L998.60 498.99 L999.10 496.49 L999.10 494.99 L998.60 492.49 L997.60 490.99 L996.10 490.49 L995.10 490.49 M983.10 508.33 L988.60 508.33 L985.60 512.33 L987.10 512.33 L988.10 512.83 L988.60 513.33 L989.10 514.83 L989.10 515.83 L988.60 517.33 L987.60 518.33 L986.10 518.83 L984.60 518.83 L983.10 518.33 L982.60 517.83 L982.10 516.83 M998.10 508.33 L993.10 508.33 L992.60 512.83 L993.10 512.33 L994.60 511.83 L996.10 511.83 L997.60 512.33 L998.60 513.33 L999.10 514.83 L999.10 515.83 L998.60 517.33 L997.60 518.33 L996.10 518.83 L994.60 518.83 L993.10 518.33 L992.60 517.83 L992.10 516.83 M983.10 526.18 L988.60 526.18 L985.60 530.18 L987.10 530.18 L988.10 530.68 L988.60 531.18 L989.10 532.68 L989.10 533.68 L988.60 535.18 L987.60 536.18 L986.10 536.68 L984.60 536.68 L983.10 536.18 L982.60 535.68 L982.10 534.68 M995.10 526.18 L993.60 526.68 L992.60 528.18 L992.10 530.68 L992.10 532.18 L992.60 534.68 L993.60 536.18 L995.10 536.68 L996.10 536.68 L997.60 536.18 L998.60 534.68 L999.10 532.18 L999.10 530.68 L998.60 528.18 L997.60 526.68 L996.10 526.18 L995.10 526.18 M982.60 546.52 L982.60 546.02 L983.10 545.02 L983.60 544.52 L984.60 544.02 L986.60 544.02 L987.60 544.52 L988.10 545.02 L988.60 546.02 L988.60 547.02 L988.10 548.02 L987.10 549.52 L982.10 554.52 L989.10 554.52 M998.10 544.02 L993.10 544.02 L992.60 548.52 L993.10 548.02 L994.60 547.52 L996.10 547.52 L997.60 548.02 L998.60 549.02 L999.10 550.52 L999.10 551.52 L998.60 553.02 L997.60 554.02 L996.10 554.52 L994.60 554.52 L993.10 554.02 L992.60 553.52 L992.10 552.52 M982.60 564.37 L982.60 563.87 L983.10 562.87 L983.60 562.37 L984.60 561.87 L986.60 561.87 L987.60 562.37 L988.10 562.87 L988.60 563.87 L988.60 564.87 L988.10 565.87 L987.10 567.37 L982.10 572.37 L989.10 572.37 M995.10 561.87 L993.60 562.37 L992.60 563.87 L992.10 566.37 L992.10 567.87 L992.60 570.37 L993.60 571.87 L995.10 572.37 L996.10 572.37 L997.60 571.87 L998.60 570.37 L999.10 567.87 L999.10 566.37 L998.60 563.87 L997.60 562.37 L996.10 561.87 L995.10 561.87 M983.60 581.71 L984.60 581.21 L986.10 579.71 L986.10 590.21 M998.10 579.71 L993.10 579.71 L992.60 584.21 L993.10 583.71 L994.60 583.21 L996.10 583.21 L997.60 583.71 L998.60 584.71 L999.10 586.21 L999.10 587.21 L998.60 588.71 L997.60 589.71 L996.10 590.21 L994.60 590.21 L993.10 589.71 L992.60 589.21 L992.10 588.21 M983.60 599.56 L984.60 599.06 L986.10 597.56 L986.10 608.06 M995.10 597.56 L993.60 598.06 L992.60 599.56 L992.10 602.06 L992.10 603.56 L992.60 606.06 L993.60 607.56 L995.10 608.06 L996.10 608.06 L997.60 607.56 L998.60 606.06 L999.10 603.56 L999.10 602.06 L998.60 599.56 L997.60 598.06 L996.10 597.56 L995.10 597.56 M988.10 615.40 L983.10 615.40 L982.60 619.90 L983.10 619.40 L984.60 618.90 L986.10 618.90 L987.60 619.40 L988.60 620.40 L989.10 621.90 L989.10 622.90 L988.60 624.40 L987.60 625.40 L986.10 625.90 L984.60 625.90 L983.10 625.40 L982.60 624.90 L982.10 623.90" stroke="#000" stroke-width="1.5" fill="none" stroke-linecap="round" stroke-linejoin="round"/>
</svg></body></html>
